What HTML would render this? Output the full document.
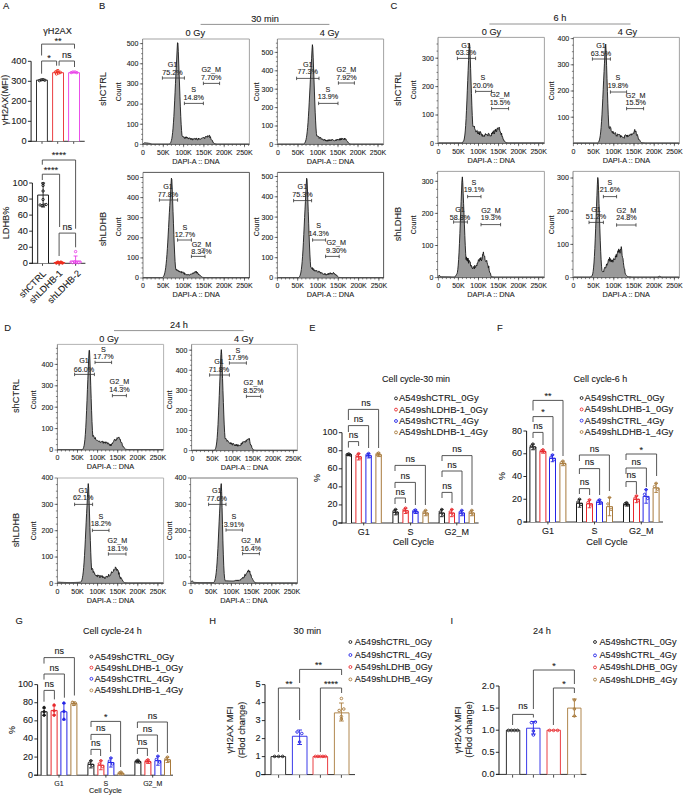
<!DOCTYPE html>
<html><head><meta charset="utf-8"><style>
html,body{margin:0;padding:0;background:#fff;overflow:hidden}
svg{display:block;font-family:"Liberation Sans",sans-serif}
</style></head><body>
<svg width="685" height="797" viewBox="0 0 685 797" font-family="Liberation Sans, sans-serif">
<rect width="685" height="797" fill="#fff"/>
<text x="2.90" y="8.80" font-size="9.4" text-anchor="start" fill="#1a1a1a" stroke="#1a1a1a" stroke-width="0.1">A</text>
<text x="99.00" y="8.80" font-size="9.4" text-anchor="start" fill="#1a1a1a" stroke="#1a1a1a" stroke-width="0.1">B</text>
<text x="390.50" y="8.80" font-size="9.4" text-anchor="start" fill="#1a1a1a" stroke="#1a1a1a" stroke-width="0.1">C</text>
<text x="4.30" y="330.80" font-size="9.4" text-anchor="start" fill="#1a1a1a" stroke="#1a1a1a" stroke-width="0.1">D</text>
<text x="309.30" y="330.80" font-size="9.4" text-anchor="start" fill="#1a1a1a" stroke="#1a1a1a" stroke-width="0.1">E</text>
<text x="496.90" y="330.80" font-size="9.4" text-anchor="start" fill="#1a1a1a" stroke="#1a1a1a" stroke-width="0.1">F</text>
<text x="15.50" y="624.00" font-size="9.4" text-anchor="start" fill="#1a1a1a" stroke="#1a1a1a" stroke-width="0.1">G</text>
<text x="209.30" y="624.00" font-size="9.4" text-anchor="start" fill="#1a1a1a" stroke="#1a1a1a" stroke-width="0.1">H</text>
<text x="450.60" y="624.00" font-size="9.4" text-anchor="start" fill="#1a1a1a" stroke="#1a1a1a" stroke-width="0.1">I</text>
<line x1="200.60" y1="24.40" x2="329.40" y2="24.40" stroke="#777" stroke-width="0.8"/>
<text x="265.00" y="21.60" font-size="9.2" text-anchor="middle" fill="#1a1a1a" stroke="#1a1a1a" stroke-width="0.1">30 min</text>
<line x1="489.40" y1="24.00" x2="630.50" y2="24.00" stroke="#777" stroke-width="0.8"/>
<text x="560.00" y="21.20" font-size="9.2" text-anchor="middle" fill="#1a1a1a" stroke="#1a1a1a" stroke-width="0.1">6 h</text>
<line x1="114.00" y1="330.60" x2="243.60" y2="330.60" stroke="#777" stroke-width="0.8"/>
<text x="179.00" y="327.60" font-size="9.2" text-anchor="middle" fill="#1a1a1a" stroke="#1a1a1a" stroke-width="0.1">24 h</text>
<text x="195.30" y="35.80" font-size="9.2" text-anchor="middle" fill="#1a1a1a" stroke="#1a1a1a" stroke-width="0.1">0 Gy</text>
<text x="329.50" y="35.80" font-size="9.2" text-anchor="middle" fill="#1a1a1a" stroke="#1a1a1a" stroke-width="0.1">4 Gy</text>
<text x="491.50" y="35.40" font-size="9.2" text-anchor="middle" fill="#1a1a1a" stroke="#1a1a1a" stroke-width="0.1">0 Gy</text>
<text x="627.50" y="35.40" font-size="9.2" text-anchor="middle" fill="#1a1a1a" stroke="#1a1a1a" stroke-width="0.1">4 Gy</text>
<text x="109.00" y="341.60" font-size="9.2" text-anchor="middle" fill="#1a1a1a" stroke="#1a1a1a" stroke-width="0.1">0 Gy</text>
<text x="243.60" y="341.60" font-size="9.2" text-anchor="middle" fill="#1a1a1a" stroke="#1a1a1a" stroke-width="0.1">4 Gy</text>
<text x="106.00" y="89.00" font-size="9.3" text-anchor="middle" fill="#1a1a1a" stroke="#1a1a1a" stroke-width="0.1" transform="rotate(-90 106.00 89.00)">shCTRL</text>
<text x="106.00" y="229.00" font-size="9.3" text-anchor="middle" fill="#1a1a1a" stroke="#1a1a1a" stroke-width="0.1" transform="rotate(-90 106.00 229.00)">shLDHB</text>
<text x="401.00" y="89.00" font-size="9.3" text-anchor="middle" fill="#1a1a1a" stroke="#1a1a1a" stroke-width="0.1" transform="rotate(-90 401.00 89.00)">shCTRL</text>
<text x="401.00" y="224.00" font-size="9.3" text-anchor="middle" fill="#1a1a1a" stroke="#1a1a1a" stroke-width="0.1" transform="rotate(-90 401.00 224.00)">shLDHB</text>
<text x="19.00" y="396.00" font-size="9.3" text-anchor="middle" fill="#1a1a1a" stroke="#1a1a1a" stroke-width="0.1" transform="rotate(-90 19.00 396.00)">shCTRL</text>
<text x="19.00" y="530.00" font-size="9.3" text-anchor="middle" fill="#1a1a1a" stroke="#1a1a1a" stroke-width="0.1" transform="rotate(-90 19.00 530.00)">shLDHB</text>
<path d="M143.00,144.40 L143.00,143.80 L143.41,143.54 L143.81,143.29 L144.22,143.04 L144.62,142.79 L145.03,142.82 L145.44,142.85 L145.84,142.89 L146.25,142.92 L146.65,142.96 L147.06,142.99 L147.47,143.06 L147.87,143.12 L148.28,143.19 L148.68,143.26 L149.09,143.32 L149.50,143.39 L149.90,143.49 L150.31,143.59 L150.71,143.69 L151.12,143.80 L151.53,143.90 L151.93,144.00 L152.34,144.00 L152.74,144.00 L153.15,144.00 L153.56,144.00 L153.96,144.00 L154.37,144.00 L154.77,144.00 L155.18,144.00 L155.59,144.00 L155.99,144.00 L156.40,144.00 L156.80,144.00 L157.21,144.00 L157.62,144.00 L158.02,144.00 L158.43,144.00 L158.83,144.00 L159.24,144.00 L159.65,144.00 L160.05,144.00 L160.46,144.00 L160.86,144.00 L161.27,144.00 L161.68,144.00 L162.08,144.00 L162.49,144.00 L162.89,144.00 L163.30,144.00 L163.71,144.00 L164.11,144.00 L164.52,144.00 L164.92,144.00 L165.33,144.00 L165.74,144.00 L166.14,144.00 L166.55,144.00 L166.95,144.00 L167.36,144.00 L167.77,144.00 L168.17,144.00 L168.58,144.00 L168.98,144.00 L169.39,144.00 L169.80,143.76 L170.20,143.35 L170.61,142.72 L171.01,141.78 L171.42,140.42 L171.83,138.53 L172.23,135.95 L172.64,132.55 L173.04,128.20 L173.45,122.84 L173.86,116.43 L174.26,109.05 L174.67,100.87 L175.07,92.18 L175.48,83.35 L175.89,74.84 L176.29,66.92 L176.70,59.04 L177.10,50.19 L177.51,42.76 L177.92,42.93 L178.32,51.72 L178.73,63.02 L179.13,73.97 L179.54,85.02 L179.95,96.21 L180.35,106.87 L180.76,116.36 L181.16,124.30 L181.57,130.59 L181.98,135.29 L182.38,136.36 L182.79,136.14 L183.19,136.98 L183.60,136.91 L184.01,136.96 L184.41,138.31 L184.82,138.52 L185.22,136.80 L185.63,138.18 L186.04,138.34 L186.44,136.75 L186.85,138.01 L187.25,137.30 L187.66,138.20 L188.07,137.92 L188.47,139.09 L188.88,138.09 L189.28,137.66 L189.69,138.50 L190.10,138.10 L190.50,138.33 L190.91,139.76 L191.31,138.30 L191.72,138.75 L192.13,139.48 L192.53,140.16 L192.94,138.39 L193.34,139.34 L193.75,138.87 L194.16,138.49 L194.56,138.83 L194.97,138.35 L195.37,139.49 L195.78,138.56 L196.19,139.32 L196.59,138.21 L197.00,138.30 L197.40,140.01 L197.81,139.90 L198.22,139.69 L198.62,138.01 L199.03,139.15 L199.43,138.70 L199.84,139.40 L200.25,138.88 L200.65,139.09 L201.06,139.11 L201.46,138.53 L201.87,138.47 L202.28,137.70 L202.68,138.13 L203.09,137.52 L203.49,137.62 L203.90,137.26 L204.31,137.77 L204.71,138.70 L205.12,136.95 L205.52,136.52 L205.93,136.45 L206.34,136.99 L206.74,136.47 L207.15,137.38 L207.55,135.70 L207.96,135.97 L208.37,136.31 L208.77,136.50 L209.18,135.20 L209.58,135.35 L209.99,137.80 L210.40,136.68 L210.80,138.30 L211.21,139.63 L211.61,140.05 L212.02,139.89 L212.43,140.46 L212.83,142.21 L213.24,142.20 L213.64,142.95 L214.05,143.59 L214.46,143.65 L214.86,143.71 L215.27,143.77 L215.67,143.82 L216.08,143.88 L216.49,143.94 L216.89,144.00 L217.30,144.00 L217.70,144.00 L218.11,144.00 L218.52,144.00 L218.92,144.00 L219.33,144.00 L219.73,144.00 L220.14,144.00 L220.55,144.00 L220.95,144.00 L221.36,144.00 L221.76,144.00 L222.17,144.00 L222.58,144.00 L222.98,144.00 L223.39,144.00 L223.79,144.00 L224.20,144.00 L224.61,144.00 L225.01,144.00 L225.42,144.00 L225.82,144.00 L226.23,144.00 L226.64,144.00 L227.04,144.00 L227.45,144.00 L227.85,144.00 L228.26,144.00 L228.67,144.00 L229.07,144.00 L229.48,144.00 L229.88,144.00 L230.29,144.00 L230.70,144.00 L231.10,144.00 L231.51,144.00 L231.91,144.00 L232.32,144.00 L232.73,144.00 L233.13,144.00 L233.54,144.00 L233.94,144.00 L234.35,144.00 L234.76,144.00 L235.16,144.00 L235.57,144.00 L235.97,144.00 L236.38,144.00 L236.79,144.00 L237.19,144.00 L237.60,144.00 L238.00,144.00 L238.41,144.00 L238.82,144.00 L239.22,144.00 L239.63,144.00 L240.03,144.00 L240.44,144.00 L240.85,144.00 L241.25,144.00 L241.66,144.00 L242.06,144.00 L242.47,144.00 L242.88,144.00 L243.28,144.00 L243.69,144.00 L244.09,144.00 L244.50,144.00 L244.91,144.00 L245.31,144.00 L245.72,144.00 L246.12,144.00 L246.53,144.00 L246.94,144.00 L247.34,144.00 L247.75,144.00 L248.15,144.00 L248.56,144.00 L248.97,144.00 L249.37,144.00 L249.40,144.00 L249.40,144.40 Z" fill="#9a9a9a" stroke="none"/>
<path d="M143.00,143.80 L143.41,143.54 L143.81,143.29 L144.22,143.04 L144.62,142.79 L145.03,142.82 L145.44,142.85 L145.84,142.89 L146.25,142.92 L146.65,142.96 L147.06,142.99 L147.47,143.06 L147.87,143.12 L148.28,143.19 L148.68,143.26 L149.09,143.32 L149.50,143.39 L149.90,143.49 L150.31,143.59 L150.71,143.69 L151.12,143.80 L151.53,143.90 L151.93,144.00 L152.34,144.00 L152.74,144.00 L153.15,144.00 L153.56,144.00 L153.96,144.00 L154.37,144.00 L154.77,144.00 L155.18,144.00 L155.59,144.00 L155.99,144.00 L156.40,144.00 L156.80,144.00 L157.21,144.00 L157.62,144.00 L158.02,144.00 L158.43,144.00 L158.83,144.00 L159.24,144.00 L159.65,144.00 L160.05,144.00 L160.46,144.00 L160.86,144.00 L161.27,144.00 L161.68,144.00 L162.08,144.00 L162.49,144.00 L162.89,144.00 L163.30,144.00 L163.71,144.00 L164.11,144.00 L164.52,144.00 L164.92,144.00 L165.33,144.00 L165.74,144.00 L166.14,144.00 L166.55,144.00 L166.95,144.00 L167.36,144.00 L167.77,144.00 L168.17,144.00 L168.58,144.00 L168.98,144.00 L169.39,144.00 L169.80,143.76 L170.20,143.35 L170.61,142.72 L171.01,141.78 L171.42,140.42 L171.83,138.53 L172.23,135.95 L172.64,132.55 L173.04,128.20 L173.45,122.84 L173.86,116.43 L174.26,109.05 L174.67,100.87 L175.07,92.18 L175.48,83.35 L175.89,74.84 L176.29,66.92 L176.70,59.04 L177.10,50.19 L177.51,42.76 L177.92,42.93 L178.32,51.72 L178.73,63.02 L179.13,73.97 L179.54,85.02 L179.95,96.21 L180.35,106.87 L180.76,116.36 L181.16,124.30 L181.57,130.59 L181.98,135.29 L182.38,136.36 L182.79,136.14 L183.19,136.98 L183.60,136.91 L184.01,136.96 L184.41,138.31 L184.82,138.52 L185.22,136.80 L185.63,138.18 L186.04,138.34 L186.44,136.75 L186.85,138.01 L187.25,137.30 L187.66,138.20 L188.07,137.92 L188.47,139.09 L188.88,138.09 L189.28,137.66 L189.69,138.50 L190.10,138.10 L190.50,138.33 L190.91,139.76 L191.31,138.30 L191.72,138.75 L192.13,139.48 L192.53,140.16 L192.94,138.39 L193.34,139.34 L193.75,138.87 L194.16,138.49 L194.56,138.83 L194.97,138.35 L195.37,139.49 L195.78,138.56 L196.19,139.32 L196.59,138.21 L197.00,138.30 L197.40,140.01 L197.81,139.90 L198.22,139.69 L198.62,138.01 L199.03,139.15 L199.43,138.70 L199.84,139.40 L200.25,138.88 L200.65,139.09 L201.06,139.11 L201.46,138.53 L201.87,138.47 L202.28,137.70 L202.68,138.13 L203.09,137.52 L203.49,137.62 L203.90,137.26 L204.31,137.77 L204.71,138.70 L205.12,136.95 L205.52,136.52 L205.93,136.45 L206.34,136.99 L206.74,136.47 L207.15,137.38 L207.55,135.70 L207.96,135.97 L208.37,136.31 L208.77,136.50 L209.18,135.20 L209.58,135.35 L209.99,137.80 L210.40,136.68 L210.80,138.30 L211.21,139.63 L211.61,140.05 L212.02,139.89 L212.43,140.46 L212.83,142.21 L213.24,142.20 L213.64,142.95 L214.05,143.59 L214.46,143.65 L214.86,143.71 L215.27,143.77 L215.67,143.82 L216.08,143.88 L216.49,143.94 L216.89,144.00 L217.30,144.00 L217.70,144.00 L218.11,144.00 L218.52,144.00 L218.92,144.00 L219.33,144.00 L219.73,144.00 L220.14,144.00 L220.55,144.00 L220.95,144.00 L221.36,144.00 L221.76,144.00 L222.17,144.00 L222.58,144.00 L222.98,144.00 L223.39,144.00 L223.79,144.00 L224.20,144.00 L224.61,144.00 L225.01,144.00 L225.42,144.00 L225.82,144.00 L226.23,144.00 L226.64,144.00 L227.04,144.00 L227.45,144.00 L227.85,144.00 L228.26,144.00 L228.67,144.00 L229.07,144.00 L229.48,144.00 L229.88,144.00 L230.29,144.00 L230.70,144.00 L231.10,144.00 L231.51,144.00 L231.91,144.00 L232.32,144.00 L232.73,144.00 L233.13,144.00 L233.54,144.00 L233.94,144.00 L234.35,144.00 L234.76,144.00 L235.16,144.00 L235.57,144.00 L235.97,144.00 L236.38,144.00 L236.79,144.00 L237.19,144.00 L237.60,144.00 L238.00,144.00 L238.41,144.00 L238.82,144.00 L239.22,144.00 L239.63,144.00 L240.03,144.00 L240.44,144.00 L240.85,144.00 L241.25,144.00 L241.66,144.00 L242.06,144.00 L242.47,144.00 L242.88,144.00 L243.28,144.00 L243.69,144.00 L244.09,144.00 L244.50,144.00 L244.91,144.00 L245.31,144.00 L245.72,144.00 L246.12,144.00 L246.53,144.00 L246.94,144.00 L247.34,144.00 L247.75,144.00 L248.15,144.00 L248.56,144.00 L248.97,144.00 L249.37,144.00 L249.40,144.00" fill="none" stroke="#111" stroke-width="0.85" stroke-linejoin="round"/>
<path d="M142.60,39.00 L249.40,39.00 L249.40,144.40" fill="none" stroke="#999" stroke-width="0.9"/>
<line x1="142.60" y1="39.00" x2="142.60" y2="144.80" stroke="#666" stroke-width="0.8"/>
<line x1="142.20" y1="144.40" x2="249.40" y2="144.40" stroke="#444" stroke-width="0.8"/>
<line x1="139.80" y1="144.40" x2="142.60" y2="144.40" stroke="#333" stroke-width="0.6"/>
<text x="138.40" y="146.80" font-size="7.0" text-anchor="end" fill="#222" stroke="#222" stroke-width="0.1">0</text>
<line x1="139.80" y1="124.24" x2="142.60" y2="124.24" stroke="#333" stroke-width="0.6"/>
<text x="138.40" y="126.64" font-size="7.0" text-anchor="end" fill="#222" stroke="#222" stroke-width="0.1">100</text>
<line x1="139.80" y1="104.08" x2="142.60" y2="104.08" stroke="#333" stroke-width="0.6"/>
<text x="138.40" y="106.48" font-size="7.0" text-anchor="end" fill="#222" stroke="#222" stroke-width="0.1">200</text>
<line x1="139.80" y1="83.92" x2="142.60" y2="83.92" stroke="#333" stroke-width="0.6"/>
<text x="138.40" y="86.32" font-size="7.0" text-anchor="end" fill="#222" stroke="#222" stroke-width="0.1">300</text>
<line x1="139.80" y1="63.76" x2="142.60" y2="63.76" stroke="#333" stroke-width="0.6"/>
<text x="138.40" y="66.16" font-size="7.0" text-anchor="end" fill="#222" stroke="#222" stroke-width="0.1">400</text>
<line x1="139.80" y1="43.60" x2="142.60" y2="43.60" stroke="#333" stroke-width="0.6"/>
<text x="138.40" y="46.00" font-size="7.0" text-anchor="end" fill="#222" stroke="#222" stroke-width="0.1">500</text>
<line x1="141.10" y1="139.36" x2="142.60" y2="139.36" stroke="#333" stroke-width="0.6"/>
<line x1="141.10" y1="134.32" x2="142.60" y2="134.32" stroke="#333" stroke-width="0.6"/>
<line x1="141.10" y1="129.28" x2="142.60" y2="129.28" stroke="#333" stroke-width="0.6"/>
<line x1="141.10" y1="124.24" x2="142.60" y2="124.24" stroke="#333" stroke-width="0.6"/>
<line x1="141.10" y1="119.20" x2="142.60" y2="119.20" stroke="#333" stroke-width="0.6"/>
<line x1="141.10" y1="114.16" x2="142.60" y2="114.16" stroke="#333" stroke-width="0.6"/>
<line x1="141.10" y1="109.12" x2="142.60" y2="109.12" stroke="#333" stroke-width="0.6"/>
<line x1="141.10" y1="104.08" x2="142.60" y2="104.08" stroke="#333" stroke-width="0.6"/>
<line x1="141.10" y1="99.04" x2="142.60" y2="99.04" stroke="#333" stroke-width="0.6"/>
<line x1="141.10" y1="94.00" x2="142.60" y2="94.00" stroke="#333" stroke-width="0.6"/>
<line x1="141.10" y1="88.96" x2="142.60" y2="88.96" stroke="#333" stroke-width="0.6"/>
<line x1="141.10" y1="83.92" x2="142.60" y2="83.92" stroke="#333" stroke-width="0.6"/>
<line x1="141.10" y1="78.88" x2="142.60" y2="78.88" stroke="#333" stroke-width="0.6"/>
<line x1="141.10" y1="73.84" x2="142.60" y2="73.84" stroke="#333" stroke-width="0.6"/>
<line x1="141.10" y1="68.80" x2="142.60" y2="68.80" stroke="#333" stroke-width="0.6"/>
<line x1="141.10" y1="63.76" x2="142.60" y2="63.76" stroke="#333" stroke-width="0.6"/>
<line x1="141.10" y1="58.72" x2="142.60" y2="58.72" stroke="#333" stroke-width="0.6"/>
<line x1="141.10" y1="53.68" x2="142.60" y2="53.68" stroke="#333" stroke-width="0.6"/>
<line x1="141.10" y1="48.64" x2="142.60" y2="48.64" stroke="#333" stroke-width="0.6"/>
<line x1="141.10" y1="43.60" x2="142.60" y2="43.60" stroke="#333" stroke-width="0.6"/>
<line x1="143.00" y1="144.40" x2="143.00" y2="147.20" stroke="#333" stroke-width="0.6"/>
<text x="143.00" y="154.70" font-size="7.0" text-anchor="middle" fill="#222" stroke="#222" stroke-width="0.1">0</text>
<line x1="163.30" y1="144.40" x2="163.30" y2="147.20" stroke="#333" stroke-width="0.6"/>
<text x="163.30" y="154.70" font-size="7.0" text-anchor="middle" fill="#222" stroke="#222" stroke-width="0.1">50K</text>
<line x1="183.60" y1="144.40" x2="183.60" y2="147.20" stroke="#333" stroke-width="0.6"/>
<text x="183.60" y="154.70" font-size="7.0" text-anchor="middle" fill="#222" stroke="#222" stroke-width="0.1">100K</text>
<line x1="203.90" y1="144.40" x2="203.90" y2="147.20" stroke="#333" stroke-width="0.6"/>
<text x="203.90" y="154.70" font-size="7.0" text-anchor="middle" fill="#222" stroke="#222" stroke-width="0.1">150K</text>
<line x1="224.20" y1="144.40" x2="224.20" y2="147.20" stroke="#333" stroke-width="0.6"/>
<text x="224.20" y="154.70" font-size="7.0" text-anchor="middle" fill="#222" stroke="#222" stroke-width="0.1">200K</text>
<line x1="244.50" y1="144.40" x2="244.50" y2="147.20" stroke="#333" stroke-width="0.6"/>
<text x="244.50" y="154.70" font-size="7.0" text-anchor="middle" fill="#222" stroke="#222" stroke-width="0.1">250K</text>
<line x1="147.06" y1="144.40" x2="147.06" y2="145.90" stroke="#333" stroke-width="0.6"/>
<line x1="151.12" y1="144.40" x2="151.12" y2="145.90" stroke="#333" stroke-width="0.6"/>
<line x1="155.18" y1="144.40" x2="155.18" y2="145.90" stroke="#333" stroke-width="0.6"/>
<line x1="159.24" y1="144.40" x2="159.24" y2="145.90" stroke="#333" stroke-width="0.6"/>
<line x1="163.30" y1="144.40" x2="163.30" y2="145.90" stroke="#333" stroke-width="0.6"/>
<line x1="167.36" y1="144.40" x2="167.36" y2="145.90" stroke="#333" stroke-width="0.6"/>
<line x1="171.42" y1="144.40" x2="171.42" y2="145.90" stroke="#333" stroke-width="0.6"/>
<line x1="175.48" y1="144.40" x2="175.48" y2="145.90" stroke="#333" stroke-width="0.6"/>
<line x1="179.54" y1="144.40" x2="179.54" y2="145.90" stroke="#333" stroke-width="0.6"/>
<line x1="183.60" y1="144.40" x2="183.60" y2="145.90" stroke="#333" stroke-width="0.6"/>
<line x1="187.66" y1="144.40" x2="187.66" y2="145.90" stroke="#333" stroke-width="0.6"/>
<line x1="191.72" y1="144.40" x2="191.72" y2="145.90" stroke="#333" stroke-width="0.6"/>
<line x1="195.78" y1="144.40" x2="195.78" y2="145.90" stroke="#333" stroke-width="0.6"/>
<line x1="199.84" y1="144.40" x2="199.84" y2="145.90" stroke="#333" stroke-width="0.6"/>
<line x1="203.90" y1="144.40" x2="203.90" y2="145.90" stroke="#333" stroke-width="0.6"/>
<line x1="207.96" y1="144.40" x2="207.96" y2="145.90" stroke="#333" stroke-width="0.6"/>
<line x1="212.02" y1="144.40" x2="212.02" y2="145.90" stroke="#333" stroke-width="0.6"/>
<line x1="216.08" y1="144.40" x2="216.08" y2="145.90" stroke="#333" stroke-width="0.6"/>
<line x1="220.14" y1="144.40" x2="220.14" y2="145.90" stroke="#333" stroke-width="0.6"/>
<line x1="224.20" y1="144.40" x2="224.20" y2="145.90" stroke="#333" stroke-width="0.6"/>
<line x1="228.26" y1="144.40" x2="228.26" y2="145.90" stroke="#333" stroke-width="0.6"/>
<line x1="232.32" y1="144.40" x2="232.32" y2="145.90" stroke="#333" stroke-width="0.6"/>
<line x1="236.38" y1="144.40" x2="236.38" y2="145.90" stroke="#333" stroke-width="0.6"/>
<line x1="240.44" y1="144.40" x2="240.44" y2="145.90" stroke="#333" stroke-width="0.6"/>
<line x1="244.50" y1="144.40" x2="244.50" y2="145.90" stroke="#333" stroke-width="0.6"/>
<line x1="248.56" y1="144.40" x2="248.56" y2="145.90" stroke="#333" stroke-width="0.6"/>
<text x="196.00" y="163.80" font-size="7.3" text-anchor="middle" fill="#222" stroke="#222" stroke-width="0.1">DAPI-A :: DNA</text>
<text x="121.00" y="92.00" font-size="7.0" text-anchor="middle" fill="#222" stroke="#222" stroke-width="0.1" transform="rotate(-90 121.00 92.00)">Count</text>
<line x1="162.40" y1="78.00" x2="184.40" y2="78.00" stroke="#333" stroke-width="0.8"/>
<line x1="162.40" y1="76.30" x2="162.40" y2="79.70" stroke="#333" stroke-width="0.8"/>
<line x1="184.40" y1="76.30" x2="184.40" y2="79.70" stroke="#333" stroke-width="0.8"/>
<text x="172.50" y="66.60" font-size="7.2" text-anchor="middle" fill="#222" stroke="#222" stroke-width="0.1">G1</text>
<text x="172.50" y="75.00" font-size="7.2" text-anchor="middle" fill="#222" stroke="#222" stroke-width="0.1">75.2%</text>
<line x1="184.40" y1="103.40" x2="203.40" y2="103.40" stroke="#333" stroke-width="0.8"/>
<line x1="184.40" y1="101.70" x2="184.40" y2="105.10" stroke="#333" stroke-width="0.8"/>
<line x1="203.40" y1="101.70" x2="203.40" y2="105.10" stroke="#333" stroke-width="0.8"/>
<text x="193.60" y="91.60" font-size="7.2" text-anchor="middle" fill="#222" stroke="#222" stroke-width="0.1">S</text>
<text x="193.60" y="100.00" font-size="7.2" text-anchor="middle" fill="#222" stroke="#222" stroke-width="0.1">14.8%</text>
<line x1="203.40" y1="83.40" x2="219.60" y2="83.40" stroke="#333" stroke-width="0.8"/>
<line x1="203.40" y1="81.70" x2="203.40" y2="85.10" stroke="#333" stroke-width="0.8"/>
<line x1="219.60" y1="81.70" x2="219.60" y2="85.10" stroke="#333" stroke-width="0.8"/>
<text x="211.20" y="71.60" font-size="7.2" text-anchor="middle" fill="#222" stroke="#222" stroke-width="0.1">G2_M</text>
<text x="211.20" y="79.60" font-size="7.2" text-anchor="middle" fill="#222" stroke="#222" stroke-width="0.1">7.70%</text>
<path d="M278.00,144.40 L278.00,144.03 L278.40,144.03 L278.80,144.03 L279.20,144.03 L279.60,144.03 L280.00,144.03 L280.40,144.03 L280.80,144.03 L281.20,144.03 L281.60,144.03 L282.00,144.03 L282.40,144.03 L282.80,144.03 L283.20,144.03 L283.60,144.03 L284.00,144.03 L284.40,144.03 L284.80,144.03 L285.20,144.03 L285.60,144.03 L286.00,144.03 L286.40,144.03 L286.80,144.03 L287.20,144.03 L287.60,144.03 L288.00,144.03 L288.40,144.03 L288.80,144.03 L289.20,144.03 L289.60,144.03 L290.00,144.03 L290.40,144.03 L290.80,144.03 L291.20,144.03 L291.60,144.03 L292.00,144.03 L292.40,144.03 L292.80,144.03 L293.20,144.03 L293.60,144.03 L294.00,144.03 L294.40,144.03 L294.80,144.03 L295.20,144.03 L295.60,144.03 L296.00,144.03 L296.40,144.03 L296.80,144.03 L297.20,144.03 L297.60,144.03 L298.00,144.03 L298.40,144.03 L298.80,144.03 L299.20,144.03 L299.60,144.03 L300.00,144.03 L300.40,144.03 L300.80,144.03 L301.20,144.03 L301.60,144.03 L302.00,144.03 L302.40,144.03 L302.80,144.03 L303.20,144.03 L303.60,144.03 L304.00,143.81 L304.40,143.47 L304.80,142.95 L305.20,142.20 L305.60,141.14 L306.00,139.67 L306.40,137.69 L306.80,135.10 L307.20,131.77 L307.60,127.65 L308.00,122.66 L308.40,116.81 L308.80,110.15 L309.20,102.82 L309.60,95.04 L310.00,87.10 L310.40,79.34 L310.80,72.10 L311.20,65.38 L311.60,58.23 L312.00,50.05 L312.40,44.67 L312.80,47.77 L313.20,57.85 L313.60,69.05 L314.00,79.96 L314.40,91.06 L314.80,102.03 L315.20,112.17 L315.60,120.92 L316.00,128.02 L316.40,133.46 L316.80,136.06 L317.20,136.02 L317.60,136.12 L318.00,136.03 L318.40,136.65 L318.80,136.48 L319.20,138.50 L319.60,137.82 L320.00,137.06 L320.40,137.83 L320.80,137.49 L321.20,139.26 L321.60,138.71 L322.00,139.33 L322.40,138.90 L322.80,139.01 L323.20,140.32 L323.60,140.08 L324.00,140.12 L324.40,139.02 L324.80,139.51 L325.20,140.82 L325.60,139.84 L326.00,141.15 L326.40,140.32 L326.80,141.15 L327.20,141.35 L327.60,139.85 L328.00,140.98 L328.40,140.96 L328.80,139.61 L329.20,139.79 L329.60,140.79 L330.00,139.60 L330.40,140.33 L330.80,140.07 L331.20,140.90 L331.60,139.58 L332.00,140.01 L332.40,139.47 L332.80,139.55 L333.20,140.60 L333.60,140.45 L334.00,140.77 L334.40,140.78 L334.80,140.90 L335.20,140.41 L335.60,139.78 L336.00,140.90 L336.40,139.49 L336.80,140.11 L337.20,140.10 L337.60,139.00 L338.00,139.62 L338.40,139.89 L338.80,139.49 L339.20,138.97 L339.60,140.21 L340.00,138.29 L340.40,140.13 L340.80,138.58 L341.20,138.30 L341.60,139.90 L342.00,138.26 L342.40,139.03 L342.80,138.52 L343.20,139.59 L343.60,139.43 L344.00,139.37 L344.40,138.02 L344.80,139.77 L345.20,138.85 L345.60,138.72 L346.00,138.91 L346.40,140.56 L346.80,140.99 L347.20,141.20 L347.60,141.39 L348.00,142.57 L348.40,142.61 L348.80,143.02 L349.20,143.43 L349.60,143.85 L350.00,143.88 L350.40,143.91 L350.80,143.94 L351.20,143.97 L351.60,144.00 L352.00,144.03 L352.40,144.03 L352.80,144.03 L353.20,144.03 L353.60,144.03 L354.00,144.03 L354.40,144.03 L354.80,144.03 L355.20,144.03 L355.60,144.03 L356.00,144.03 L356.40,144.03 L356.80,144.03 L357.20,144.03 L357.60,144.03 L358.00,144.03 L358.40,144.03 L358.80,144.03 L359.20,144.03 L359.60,144.03 L360.00,144.03 L360.40,144.03 L360.80,144.03 L361.20,144.03 L361.60,144.03 L362.00,144.03 L362.40,144.03 L362.80,144.03 L363.20,144.03 L363.60,144.03 L364.00,144.03 L364.40,144.03 L364.80,144.03 L365.20,144.03 L365.60,144.03 L366.00,144.03 L366.40,144.03 L366.80,144.03 L367.20,144.03 L367.60,144.03 L368.00,144.03 L368.40,144.03 L368.80,144.03 L369.20,144.03 L369.60,144.03 L370.00,144.03 L370.40,144.03 L370.80,144.03 L371.20,144.03 L371.60,144.03 L372.00,144.03 L372.40,144.03 L372.80,144.03 L373.20,144.03 L373.60,144.03 L374.00,144.03 L374.40,144.03 L374.80,144.03 L375.20,144.03 L375.60,144.03 L376.00,144.03 L376.40,144.03 L376.80,144.03 L377.20,144.03 L377.60,144.03 L378.00,144.03 L378.40,144.03 L378.80,144.03 L379.20,144.03 L379.60,144.03 L380.00,144.03 L380.40,144.03 L380.80,144.03 L381.20,144.03 L381.60,144.03 L382.00,144.03 L382.40,144.03 L382.80,144.03 L383.20,144.03 L383.60,144.03 L383.60,144.03 L383.60,144.40 Z" fill="#9a9a9a" stroke="none"/>
<path d="M278.00,144.03 L278.40,144.03 L278.80,144.03 L279.20,144.03 L279.60,144.03 L280.00,144.03 L280.40,144.03 L280.80,144.03 L281.20,144.03 L281.60,144.03 L282.00,144.03 L282.40,144.03 L282.80,144.03 L283.20,144.03 L283.60,144.03 L284.00,144.03 L284.40,144.03 L284.80,144.03 L285.20,144.03 L285.60,144.03 L286.00,144.03 L286.40,144.03 L286.80,144.03 L287.20,144.03 L287.60,144.03 L288.00,144.03 L288.40,144.03 L288.80,144.03 L289.20,144.03 L289.60,144.03 L290.00,144.03 L290.40,144.03 L290.80,144.03 L291.20,144.03 L291.60,144.03 L292.00,144.03 L292.40,144.03 L292.80,144.03 L293.20,144.03 L293.60,144.03 L294.00,144.03 L294.40,144.03 L294.80,144.03 L295.20,144.03 L295.60,144.03 L296.00,144.03 L296.40,144.03 L296.80,144.03 L297.20,144.03 L297.60,144.03 L298.00,144.03 L298.40,144.03 L298.80,144.03 L299.20,144.03 L299.60,144.03 L300.00,144.03 L300.40,144.03 L300.80,144.03 L301.20,144.03 L301.60,144.03 L302.00,144.03 L302.40,144.03 L302.80,144.03 L303.20,144.03 L303.60,144.03 L304.00,143.81 L304.40,143.47 L304.80,142.95 L305.20,142.20 L305.60,141.14 L306.00,139.67 L306.40,137.69 L306.80,135.10 L307.20,131.77 L307.60,127.65 L308.00,122.66 L308.40,116.81 L308.80,110.15 L309.20,102.82 L309.60,95.04 L310.00,87.10 L310.40,79.34 L310.80,72.10 L311.20,65.38 L311.60,58.23 L312.00,50.05 L312.40,44.67 L312.80,47.77 L313.20,57.85 L313.60,69.05 L314.00,79.96 L314.40,91.06 L314.80,102.03 L315.20,112.17 L315.60,120.92 L316.00,128.02 L316.40,133.46 L316.80,136.06 L317.20,136.02 L317.60,136.12 L318.00,136.03 L318.40,136.65 L318.80,136.48 L319.20,138.50 L319.60,137.82 L320.00,137.06 L320.40,137.83 L320.80,137.49 L321.20,139.26 L321.60,138.71 L322.00,139.33 L322.40,138.90 L322.80,139.01 L323.20,140.32 L323.60,140.08 L324.00,140.12 L324.40,139.02 L324.80,139.51 L325.20,140.82 L325.60,139.84 L326.00,141.15 L326.40,140.32 L326.80,141.15 L327.20,141.35 L327.60,139.85 L328.00,140.98 L328.40,140.96 L328.80,139.61 L329.20,139.79 L329.60,140.79 L330.00,139.60 L330.40,140.33 L330.80,140.07 L331.20,140.90 L331.60,139.58 L332.00,140.01 L332.40,139.47 L332.80,139.55 L333.20,140.60 L333.60,140.45 L334.00,140.77 L334.40,140.78 L334.80,140.90 L335.20,140.41 L335.60,139.78 L336.00,140.90 L336.40,139.49 L336.80,140.11 L337.20,140.10 L337.60,139.00 L338.00,139.62 L338.40,139.89 L338.80,139.49 L339.20,138.97 L339.60,140.21 L340.00,138.29 L340.40,140.13 L340.80,138.58 L341.20,138.30 L341.60,139.90 L342.00,138.26 L342.40,139.03 L342.80,138.52 L343.20,139.59 L343.60,139.43 L344.00,139.37 L344.40,138.02 L344.80,139.77 L345.20,138.85 L345.60,138.72 L346.00,138.91 L346.40,140.56 L346.80,140.99 L347.20,141.20 L347.60,141.39 L348.00,142.57 L348.40,142.61 L348.80,143.02 L349.20,143.43 L349.60,143.85 L350.00,143.88 L350.40,143.91 L350.80,143.94 L351.20,143.97 L351.60,144.00 L352.00,144.03 L352.40,144.03 L352.80,144.03 L353.20,144.03 L353.60,144.03 L354.00,144.03 L354.40,144.03 L354.80,144.03 L355.20,144.03 L355.60,144.03 L356.00,144.03 L356.40,144.03 L356.80,144.03 L357.20,144.03 L357.60,144.03 L358.00,144.03 L358.40,144.03 L358.80,144.03 L359.20,144.03 L359.60,144.03 L360.00,144.03 L360.40,144.03 L360.80,144.03 L361.20,144.03 L361.60,144.03 L362.00,144.03 L362.40,144.03 L362.80,144.03 L363.20,144.03 L363.60,144.03 L364.00,144.03 L364.40,144.03 L364.80,144.03 L365.20,144.03 L365.60,144.03 L366.00,144.03 L366.40,144.03 L366.80,144.03 L367.20,144.03 L367.60,144.03 L368.00,144.03 L368.40,144.03 L368.80,144.03 L369.20,144.03 L369.60,144.03 L370.00,144.03 L370.40,144.03 L370.80,144.03 L371.20,144.03 L371.60,144.03 L372.00,144.03 L372.40,144.03 L372.80,144.03 L373.20,144.03 L373.60,144.03 L374.00,144.03 L374.40,144.03 L374.80,144.03 L375.20,144.03 L375.60,144.03 L376.00,144.03 L376.40,144.03 L376.80,144.03 L377.20,144.03 L377.60,144.03 L378.00,144.03 L378.40,144.03 L378.80,144.03 L379.20,144.03 L379.60,144.03 L380.00,144.03 L380.40,144.03 L380.80,144.03 L381.20,144.03 L381.60,144.03 L382.00,144.03 L382.40,144.03 L382.80,144.03 L383.20,144.03 L383.60,144.03 L383.60,144.03" fill="none" stroke="#111" stroke-width="0.85" stroke-linejoin="round"/>
<path d="M277.40,39.00 L383.60,39.00 L383.60,144.40" fill="none" stroke="#999" stroke-width="0.9"/>
<line x1="277.40" y1="39.00" x2="277.40" y2="144.80" stroke="#666" stroke-width="0.8"/>
<line x1="277.00" y1="144.40" x2="383.60" y2="144.40" stroke="#444" stroke-width="0.8"/>
<line x1="274.60" y1="144.40" x2="277.40" y2="144.40" stroke="#333" stroke-width="0.6"/>
<text x="273.20" y="146.80" font-size="7.0" text-anchor="end" fill="#222" stroke="#222" stroke-width="0.1">0</text>
<line x1="274.60" y1="126.00" x2="277.40" y2="126.00" stroke="#333" stroke-width="0.6"/>
<text x="273.20" y="128.40" font-size="7.0" text-anchor="end" fill="#222" stroke="#222" stroke-width="0.1">100</text>
<line x1="274.60" y1="107.60" x2="277.40" y2="107.60" stroke="#333" stroke-width="0.6"/>
<text x="273.20" y="110.00" font-size="7.0" text-anchor="end" fill="#222" stroke="#222" stroke-width="0.1">200</text>
<line x1="274.60" y1="89.20" x2="277.40" y2="89.20" stroke="#333" stroke-width="0.6"/>
<text x="273.20" y="91.60" font-size="7.0" text-anchor="end" fill="#222" stroke="#222" stroke-width="0.1">300</text>
<line x1="274.60" y1="70.80" x2="277.40" y2="70.80" stroke="#333" stroke-width="0.6"/>
<text x="273.20" y="73.20" font-size="7.0" text-anchor="end" fill="#222" stroke="#222" stroke-width="0.1">400</text>
<line x1="274.60" y1="52.40" x2="277.40" y2="52.40" stroke="#333" stroke-width="0.6"/>
<text x="273.20" y="54.80" font-size="7.0" text-anchor="end" fill="#222" stroke="#222" stroke-width="0.1">500</text>
<line x1="275.90" y1="139.80" x2="277.40" y2="139.80" stroke="#333" stroke-width="0.6"/>
<line x1="275.90" y1="135.20" x2="277.40" y2="135.20" stroke="#333" stroke-width="0.6"/>
<line x1="275.90" y1="130.60" x2="277.40" y2="130.60" stroke="#333" stroke-width="0.6"/>
<line x1="275.90" y1="126.00" x2="277.40" y2="126.00" stroke="#333" stroke-width="0.6"/>
<line x1="275.90" y1="121.40" x2="277.40" y2="121.40" stroke="#333" stroke-width="0.6"/>
<line x1="275.90" y1="116.80" x2="277.40" y2="116.80" stroke="#333" stroke-width="0.6"/>
<line x1="275.90" y1="112.20" x2="277.40" y2="112.20" stroke="#333" stroke-width="0.6"/>
<line x1="275.90" y1="107.60" x2="277.40" y2="107.60" stroke="#333" stroke-width="0.6"/>
<line x1="275.90" y1="103.00" x2="277.40" y2="103.00" stroke="#333" stroke-width="0.6"/>
<line x1="275.90" y1="98.40" x2="277.40" y2="98.40" stroke="#333" stroke-width="0.6"/>
<line x1="275.90" y1="93.80" x2="277.40" y2="93.80" stroke="#333" stroke-width="0.6"/>
<line x1="275.90" y1="89.20" x2="277.40" y2="89.20" stroke="#333" stroke-width="0.6"/>
<line x1="275.90" y1="84.60" x2="277.40" y2="84.60" stroke="#333" stroke-width="0.6"/>
<line x1="275.90" y1="80.00" x2="277.40" y2="80.00" stroke="#333" stroke-width="0.6"/>
<line x1="275.90" y1="75.40" x2="277.40" y2="75.40" stroke="#333" stroke-width="0.6"/>
<line x1="275.90" y1="70.80" x2="277.40" y2="70.80" stroke="#333" stroke-width="0.6"/>
<line x1="275.90" y1="66.20" x2="277.40" y2="66.20" stroke="#333" stroke-width="0.6"/>
<line x1="275.90" y1="61.60" x2="277.40" y2="61.60" stroke="#333" stroke-width="0.6"/>
<line x1="275.90" y1="57.00" x2="277.40" y2="57.00" stroke="#333" stroke-width="0.6"/>
<line x1="275.90" y1="52.40" x2="277.40" y2="52.40" stroke="#333" stroke-width="0.6"/>
<line x1="275.90" y1="47.80" x2="277.40" y2="47.80" stroke="#333" stroke-width="0.6"/>
<line x1="275.90" y1="43.20" x2="277.40" y2="43.20" stroke="#333" stroke-width="0.6"/>
<line x1="278.00" y1="144.40" x2="278.00" y2="147.20" stroke="#333" stroke-width="0.6"/>
<text x="278.00" y="154.70" font-size="7.0" text-anchor="middle" fill="#222" stroke="#222" stroke-width="0.1">0</text>
<line x1="298.00" y1="144.40" x2="298.00" y2="147.20" stroke="#333" stroke-width="0.6"/>
<text x="298.00" y="154.70" font-size="7.0" text-anchor="middle" fill="#222" stroke="#222" stroke-width="0.1">50K</text>
<line x1="318.00" y1="144.40" x2="318.00" y2="147.20" stroke="#333" stroke-width="0.6"/>
<text x="318.00" y="154.70" font-size="7.0" text-anchor="middle" fill="#222" stroke="#222" stroke-width="0.1">100K</text>
<line x1="338.00" y1="144.40" x2="338.00" y2="147.20" stroke="#333" stroke-width="0.6"/>
<text x="338.00" y="154.70" font-size="7.0" text-anchor="middle" fill="#222" stroke="#222" stroke-width="0.1">150K</text>
<line x1="358.00" y1="144.40" x2="358.00" y2="147.20" stroke="#333" stroke-width="0.6"/>
<text x="358.00" y="154.70" font-size="7.0" text-anchor="middle" fill="#222" stroke="#222" stroke-width="0.1">200K</text>
<line x1="378.00" y1="144.40" x2="378.00" y2="147.20" stroke="#333" stroke-width="0.6"/>
<text x="378.00" y="154.70" font-size="7.0" text-anchor="middle" fill="#222" stroke="#222" stroke-width="0.1">250K</text>
<line x1="282.00" y1="144.40" x2="282.00" y2="145.90" stroke="#333" stroke-width="0.6"/>
<line x1="286.00" y1="144.40" x2="286.00" y2="145.90" stroke="#333" stroke-width="0.6"/>
<line x1="290.00" y1="144.40" x2="290.00" y2="145.90" stroke="#333" stroke-width="0.6"/>
<line x1="294.00" y1="144.40" x2="294.00" y2="145.90" stroke="#333" stroke-width="0.6"/>
<line x1="298.00" y1="144.40" x2="298.00" y2="145.90" stroke="#333" stroke-width="0.6"/>
<line x1="302.00" y1="144.40" x2="302.00" y2="145.90" stroke="#333" stroke-width="0.6"/>
<line x1="306.00" y1="144.40" x2="306.00" y2="145.90" stroke="#333" stroke-width="0.6"/>
<line x1="310.00" y1="144.40" x2="310.00" y2="145.90" stroke="#333" stroke-width="0.6"/>
<line x1="314.00" y1="144.40" x2="314.00" y2="145.90" stroke="#333" stroke-width="0.6"/>
<line x1="318.00" y1="144.40" x2="318.00" y2="145.90" stroke="#333" stroke-width="0.6"/>
<line x1="322.00" y1="144.40" x2="322.00" y2="145.90" stroke="#333" stroke-width="0.6"/>
<line x1="326.00" y1="144.40" x2="326.00" y2="145.90" stroke="#333" stroke-width="0.6"/>
<line x1="330.00" y1="144.40" x2="330.00" y2="145.90" stroke="#333" stroke-width="0.6"/>
<line x1="334.00" y1="144.40" x2="334.00" y2="145.90" stroke="#333" stroke-width="0.6"/>
<line x1="338.00" y1="144.40" x2="338.00" y2="145.90" stroke="#333" stroke-width="0.6"/>
<line x1="342.00" y1="144.40" x2="342.00" y2="145.90" stroke="#333" stroke-width="0.6"/>
<line x1="346.00" y1="144.40" x2="346.00" y2="145.90" stroke="#333" stroke-width="0.6"/>
<line x1="350.00" y1="144.40" x2="350.00" y2="145.90" stroke="#333" stroke-width="0.6"/>
<line x1="354.00" y1="144.40" x2="354.00" y2="145.90" stroke="#333" stroke-width="0.6"/>
<line x1="358.00" y1="144.40" x2="358.00" y2="145.90" stroke="#333" stroke-width="0.6"/>
<line x1="362.00" y1="144.40" x2="362.00" y2="145.90" stroke="#333" stroke-width="0.6"/>
<line x1="366.00" y1="144.40" x2="366.00" y2="145.90" stroke="#333" stroke-width="0.6"/>
<line x1="370.00" y1="144.40" x2="370.00" y2="145.90" stroke="#333" stroke-width="0.6"/>
<line x1="374.00" y1="144.40" x2="374.00" y2="145.90" stroke="#333" stroke-width="0.6"/>
<line x1="378.00" y1="144.40" x2="378.00" y2="145.90" stroke="#333" stroke-width="0.6"/>
<line x1="382.00" y1="144.40" x2="382.00" y2="145.90" stroke="#333" stroke-width="0.6"/>
<text x="330.50" y="163.80" font-size="7.3" text-anchor="middle" fill="#222" stroke="#222" stroke-width="0.1">DAPI-A :: DNA</text>
<text x="259.00" y="92.00" font-size="7.0" text-anchor="middle" fill="#222" stroke="#222" stroke-width="0.1" transform="rotate(-90 259.00 92.00)">Count</text>
<line x1="296.60" y1="78.40" x2="319.00" y2="78.40" stroke="#333" stroke-width="0.8"/>
<line x1="296.60" y1="76.70" x2="296.60" y2="80.10" stroke="#333" stroke-width="0.8"/>
<line x1="319.00" y1="76.70" x2="319.00" y2="80.10" stroke="#333" stroke-width="0.8"/>
<text x="307.70" y="66.60" font-size="7.2" text-anchor="middle" fill="#222" stroke="#222" stroke-width="0.1">G1</text>
<text x="307.70" y="73.60" font-size="7.2" text-anchor="middle" fill="#222" stroke="#222" stroke-width="0.1">77.3%</text>
<line x1="318.60" y1="103.40" x2="338.00" y2="103.40" stroke="#333" stroke-width="0.8"/>
<line x1="318.60" y1="101.70" x2="318.60" y2="105.10" stroke="#333" stroke-width="0.8"/>
<line x1="338.00" y1="101.70" x2="338.00" y2="105.10" stroke="#333" stroke-width="0.8"/>
<text x="328.00" y="91.60" font-size="7.2" text-anchor="middle" fill="#222" stroke="#222" stroke-width="0.1">S</text>
<text x="328.00" y="99.00" font-size="7.2" text-anchor="middle" fill="#222" stroke="#222" stroke-width="0.1">13.9%</text>
<line x1="338.40" y1="83.00" x2="354.40" y2="83.00" stroke="#333" stroke-width="0.8"/>
<line x1="338.40" y1="81.30" x2="338.40" y2="84.70" stroke="#333" stroke-width="0.8"/>
<line x1="354.40" y1="81.30" x2="354.40" y2="84.70" stroke="#333" stroke-width="0.8"/>
<text x="346.40" y="71.60" font-size="7.2" text-anchor="middle" fill="#222" stroke="#222" stroke-width="0.1">G2_M</text>
<text x="346.40" y="79.60" font-size="7.2" text-anchor="middle" fill="#222" stroke="#222" stroke-width="0.1">7.92%</text>
<path d="M143.00,278.00 L143.00,277.60 L143.41,277.60 L143.81,277.60 L144.22,277.60 L144.62,277.60 L145.03,277.60 L145.44,277.60 L145.84,277.60 L146.25,277.60 L146.65,277.60 L147.06,277.60 L147.47,277.60 L147.87,277.60 L148.28,277.60 L148.68,277.60 L149.09,277.60 L149.50,277.60 L149.90,277.60 L150.31,277.60 L150.71,277.60 L151.12,277.60 L151.53,277.60 L151.93,277.60 L152.34,277.60 L152.74,277.60 L153.15,277.60 L153.56,277.60 L153.96,277.60 L154.37,277.60 L154.77,277.60 L155.18,277.60 L155.59,277.60 L155.99,277.60 L156.40,277.60 L156.80,277.60 L157.21,277.60 L157.62,277.60 L158.02,277.60 L158.43,277.60 L158.83,277.60 L159.24,277.60 L159.65,277.60 L160.05,277.60 L160.46,277.60 L160.86,277.60 L161.27,277.60 L161.68,277.60 L162.08,277.60 L162.49,277.47 L162.89,277.17 L163.30,276.73 L163.71,276.10 L164.11,275.21 L164.52,273.97 L164.92,272.31 L165.33,270.14 L165.74,267.34 L166.14,263.84 L166.55,259.58 L166.95,254.52 L167.36,248.67 L167.77,242.10 L168.17,234.95 L168.58,227.42 L168.98,219.77 L169.39,212.32 L169.80,205.37 L170.20,199.01 L170.61,192.41 L171.01,184.56 L171.42,178.20 L171.83,179.44 L172.23,188.88 L172.64,200.48 L173.04,211.78 L173.45,223.19 L173.86,234.51 L174.26,245.00 L174.67,254.07 L175.07,261.42 L175.48,267.02 L175.89,269.55 L176.29,270.13 L176.70,269.22 L177.10,270.70 L177.51,269.88 L177.92,270.46 L178.32,271.34 L178.73,270.55 L179.13,271.79 L179.54,271.13 L179.95,272.15 L180.35,272.33 L180.76,271.81 L181.16,271.14 L181.57,272.91 L181.98,272.91 L182.38,272.24 L182.79,271.75 L183.19,272.79 L183.60,273.40 L184.01,272.41 L184.41,274.46 L184.82,273.11 L185.22,274.35 L185.63,274.78 L186.04,274.99 L186.44,274.87 L186.85,274.34 L187.25,275.18 L187.66,274.54 L188.07,274.40 L188.47,274.74 L188.88,274.41 L189.28,275.11 L189.69,275.07 L190.10,274.78 L190.50,273.94 L190.91,274.30 L191.31,274.34 L191.72,273.68 L192.13,273.75 L192.53,273.89 L192.94,272.71 L193.34,272.72 L193.75,273.54 L194.16,272.61 L194.56,272.52 L194.97,271.54 L195.37,271.66 L195.78,272.44 L196.19,271.11 L196.59,273.22 L197.00,272.75 L197.40,272.21 L197.81,273.74 L198.22,273.52 L198.62,274.83 L199.03,274.29 L199.43,274.72 L199.84,275.51 L200.25,275.49 L200.65,276.10 L201.06,276.36 L201.46,276.62 L201.87,276.88 L202.28,277.14 L202.68,277.40 L203.09,277.42 L203.49,277.45 L203.90,277.47 L204.31,277.50 L204.71,277.52 L205.12,277.55 L205.52,277.57 L205.93,277.60 L206.34,277.60 L206.74,277.60 L207.15,277.60 L207.55,277.60 L207.96,277.60 L208.37,277.60 L208.77,277.60 L209.18,277.60 L209.58,277.60 L209.99,277.60 L210.40,277.60 L210.80,277.60 L211.21,277.60 L211.61,277.60 L212.02,277.60 L212.43,277.60 L212.83,277.60 L213.24,277.60 L213.64,277.60 L214.05,277.60 L214.46,277.60 L214.86,277.60 L215.27,277.60 L215.67,277.60 L216.08,277.60 L216.49,277.60 L216.89,277.60 L217.30,277.60 L217.70,277.60 L218.11,277.60 L218.52,277.60 L218.92,277.60 L219.33,277.60 L219.73,277.60 L220.14,277.60 L220.55,277.60 L220.95,277.60 L221.36,277.60 L221.76,277.60 L222.17,277.60 L222.58,277.60 L222.98,277.60 L223.39,277.60 L223.79,277.60 L224.20,277.60 L224.61,277.60 L225.01,277.60 L225.42,277.60 L225.82,277.60 L226.23,277.60 L226.64,277.60 L227.04,277.60 L227.45,277.60 L227.85,277.60 L228.26,277.60 L228.67,277.60 L229.07,277.60 L229.48,277.60 L229.88,277.60 L230.29,277.60 L230.70,277.60 L231.10,277.60 L231.51,277.60 L231.91,277.60 L232.32,277.60 L232.73,277.60 L233.13,277.60 L233.54,277.60 L233.94,277.60 L234.35,277.60 L234.76,277.60 L235.16,277.60 L235.57,277.60 L235.97,277.60 L236.38,277.60 L236.79,277.60 L237.19,277.60 L237.60,277.60 L238.00,277.60 L238.41,277.60 L238.82,277.60 L239.22,277.60 L239.63,277.60 L240.03,277.60 L240.44,277.60 L240.85,277.60 L241.25,277.60 L241.66,277.60 L242.06,277.60 L242.47,277.60 L242.88,277.60 L243.28,277.60 L243.69,277.60 L244.09,277.60 L244.50,277.60 L244.91,277.60 L245.31,277.60 L245.72,277.60 L246.12,277.60 L246.53,277.60 L246.94,277.60 L247.34,277.60 L247.75,277.60 L248.15,277.60 L248.56,277.60 L248.97,277.60 L249.37,277.60 L249.40,277.60 L249.40,278.00 Z" fill="#9a9a9a" stroke="none"/>
<path d="M143.00,277.60 L143.41,277.60 L143.81,277.60 L144.22,277.60 L144.62,277.60 L145.03,277.60 L145.44,277.60 L145.84,277.60 L146.25,277.60 L146.65,277.60 L147.06,277.60 L147.47,277.60 L147.87,277.60 L148.28,277.60 L148.68,277.60 L149.09,277.60 L149.50,277.60 L149.90,277.60 L150.31,277.60 L150.71,277.60 L151.12,277.60 L151.53,277.60 L151.93,277.60 L152.34,277.60 L152.74,277.60 L153.15,277.60 L153.56,277.60 L153.96,277.60 L154.37,277.60 L154.77,277.60 L155.18,277.60 L155.59,277.60 L155.99,277.60 L156.40,277.60 L156.80,277.60 L157.21,277.60 L157.62,277.60 L158.02,277.60 L158.43,277.60 L158.83,277.60 L159.24,277.60 L159.65,277.60 L160.05,277.60 L160.46,277.60 L160.86,277.60 L161.27,277.60 L161.68,277.60 L162.08,277.60 L162.49,277.47 L162.89,277.17 L163.30,276.73 L163.71,276.10 L164.11,275.21 L164.52,273.97 L164.92,272.31 L165.33,270.14 L165.74,267.34 L166.14,263.84 L166.55,259.58 L166.95,254.52 L167.36,248.67 L167.77,242.10 L168.17,234.95 L168.58,227.42 L168.98,219.77 L169.39,212.32 L169.80,205.37 L170.20,199.01 L170.61,192.41 L171.01,184.56 L171.42,178.20 L171.83,179.44 L172.23,188.88 L172.64,200.48 L173.04,211.78 L173.45,223.19 L173.86,234.51 L174.26,245.00 L174.67,254.07 L175.07,261.42 L175.48,267.02 L175.89,269.55 L176.29,270.13 L176.70,269.22 L177.10,270.70 L177.51,269.88 L177.92,270.46 L178.32,271.34 L178.73,270.55 L179.13,271.79 L179.54,271.13 L179.95,272.15 L180.35,272.33 L180.76,271.81 L181.16,271.14 L181.57,272.91 L181.98,272.91 L182.38,272.24 L182.79,271.75 L183.19,272.79 L183.60,273.40 L184.01,272.41 L184.41,274.46 L184.82,273.11 L185.22,274.35 L185.63,274.78 L186.04,274.99 L186.44,274.87 L186.85,274.34 L187.25,275.18 L187.66,274.54 L188.07,274.40 L188.47,274.74 L188.88,274.41 L189.28,275.11 L189.69,275.07 L190.10,274.78 L190.50,273.94 L190.91,274.30 L191.31,274.34 L191.72,273.68 L192.13,273.75 L192.53,273.89 L192.94,272.71 L193.34,272.72 L193.75,273.54 L194.16,272.61 L194.56,272.52 L194.97,271.54 L195.37,271.66 L195.78,272.44 L196.19,271.11 L196.59,273.22 L197.00,272.75 L197.40,272.21 L197.81,273.74 L198.22,273.52 L198.62,274.83 L199.03,274.29 L199.43,274.72 L199.84,275.51 L200.25,275.49 L200.65,276.10 L201.06,276.36 L201.46,276.62 L201.87,276.88 L202.28,277.14 L202.68,277.40 L203.09,277.42 L203.49,277.45 L203.90,277.47 L204.31,277.50 L204.71,277.52 L205.12,277.55 L205.52,277.57 L205.93,277.60 L206.34,277.60 L206.74,277.60 L207.15,277.60 L207.55,277.60 L207.96,277.60 L208.37,277.60 L208.77,277.60 L209.18,277.60 L209.58,277.60 L209.99,277.60 L210.40,277.60 L210.80,277.60 L211.21,277.60 L211.61,277.60 L212.02,277.60 L212.43,277.60 L212.83,277.60 L213.24,277.60 L213.64,277.60 L214.05,277.60 L214.46,277.60 L214.86,277.60 L215.27,277.60 L215.67,277.60 L216.08,277.60 L216.49,277.60 L216.89,277.60 L217.30,277.60 L217.70,277.60 L218.11,277.60 L218.52,277.60 L218.92,277.60 L219.33,277.60 L219.73,277.60 L220.14,277.60 L220.55,277.60 L220.95,277.60 L221.36,277.60 L221.76,277.60 L222.17,277.60 L222.58,277.60 L222.98,277.60 L223.39,277.60 L223.79,277.60 L224.20,277.60 L224.61,277.60 L225.01,277.60 L225.42,277.60 L225.82,277.60 L226.23,277.60 L226.64,277.60 L227.04,277.60 L227.45,277.60 L227.85,277.60 L228.26,277.60 L228.67,277.60 L229.07,277.60 L229.48,277.60 L229.88,277.60 L230.29,277.60 L230.70,277.60 L231.10,277.60 L231.51,277.60 L231.91,277.60 L232.32,277.60 L232.73,277.60 L233.13,277.60 L233.54,277.60 L233.94,277.60 L234.35,277.60 L234.76,277.60 L235.16,277.60 L235.57,277.60 L235.97,277.60 L236.38,277.60 L236.79,277.60 L237.19,277.60 L237.60,277.60 L238.00,277.60 L238.41,277.60 L238.82,277.60 L239.22,277.60 L239.63,277.60 L240.03,277.60 L240.44,277.60 L240.85,277.60 L241.25,277.60 L241.66,277.60 L242.06,277.60 L242.47,277.60 L242.88,277.60 L243.28,277.60 L243.69,277.60 L244.09,277.60 L244.50,277.60 L244.91,277.60 L245.31,277.60 L245.72,277.60 L246.12,277.60 L246.53,277.60 L246.94,277.60 L247.34,277.60 L247.75,277.60 L248.15,277.60 L248.56,277.60 L248.97,277.60 L249.37,277.60 L249.40,277.60" fill="none" stroke="#111" stroke-width="0.85" stroke-linejoin="round"/>
<path d="M143.00,172.40 L249.40,172.40 L249.40,278.00" fill="none" stroke="#444" stroke-width="0.9"/>
<line x1="143.00" y1="172.40" x2="143.00" y2="278.40" stroke="#666" stroke-width="0.8"/>
<line x1="142.60" y1="278.00" x2="249.40" y2="278.00" stroke="#444" stroke-width="0.8"/>
<line x1="140.20" y1="278.00" x2="143.00" y2="278.00" stroke="#333" stroke-width="0.6"/>
<text x="138.80" y="280.40" font-size="7.0" text-anchor="end" fill="#222" stroke="#222" stroke-width="0.1">0</text>
<line x1="140.20" y1="257.90" x2="143.00" y2="257.90" stroke="#333" stroke-width="0.6"/>
<text x="138.80" y="260.30" font-size="7.0" text-anchor="end" fill="#222" stroke="#222" stroke-width="0.1">100</text>
<line x1="140.20" y1="237.80" x2="143.00" y2="237.80" stroke="#333" stroke-width="0.6"/>
<text x="138.80" y="240.20" font-size="7.0" text-anchor="end" fill="#222" stroke="#222" stroke-width="0.1">200</text>
<line x1="140.20" y1="217.70" x2="143.00" y2="217.70" stroke="#333" stroke-width="0.6"/>
<text x="138.80" y="220.10" font-size="7.0" text-anchor="end" fill="#222" stroke="#222" stroke-width="0.1">300</text>
<line x1="140.20" y1="197.60" x2="143.00" y2="197.60" stroke="#333" stroke-width="0.6"/>
<text x="138.80" y="200.00" font-size="7.0" text-anchor="end" fill="#222" stroke="#222" stroke-width="0.1">400</text>
<line x1="140.20" y1="177.50" x2="143.00" y2="177.50" stroke="#333" stroke-width="0.6"/>
<text x="138.80" y="179.90" font-size="7.0" text-anchor="end" fill="#222" stroke="#222" stroke-width="0.1">500</text>
<line x1="141.50" y1="272.98" x2="143.00" y2="272.98" stroke="#333" stroke-width="0.6"/>
<line x1="141.50" y1="267.95" x2="143.00" y2="267.95" stroke="#333" stroke-width="0.6"/>
<line x1="141.50" y1="262.93" x2="143.00" y2="262.93" stroke="#333" stroke-width="0.6"/>
<line x1="141.50" y1="257.90" x2="143.00" y2="257.90" stroke="#333" stroke-width="0.6"/>
<line x1="141.50" y1="252.88" x2="143.00" y2="252.88" stroke="#333" stroke-width="0.6"/>
<line x1="141.50" y1="247.85" x2="143.00" y2="247.85" stroke="#333" stroke-width="0.6"/>
<line x1="141.50" y1="242.82" x2="143.00" y2="242.82" stroke="#333" stroke-width="0.6"/>
<line x1="141.50" y1="237.80" x2="143.00" y2="237.80" stroke="#333" stroke-width="0.6"/>
<line x1="141.50" y1="232.78" x2="143.00" y2="232.78" stroke="#333" stroke-width="0.6"/>
<line x1="141.50" y1="227.75" x2="143.00" y2="227.75" stroke="#333" stroke-width="0.6"/>
<line x1="141.50" y1="222.72" x2="143.00" y2="222.72" stroke="#333" stroke-width="0.6"/>
<line x1="141.50" y1="217.70" x2="143.00" y2="217.70" stroke="#333" stroke-width="0.6"/>
<line x1="141.50" y1="212.68" x2="143.00" y2="212.68" stroke="#333" stroke-width="0.6"/>
<line x1="141.50" y1="207.65" x2="143.00" y2="207.65" stroke="#333" stroke-width="0.6"/>
<line x1="141.50" y1="202.62" x2="143.00" y2="202.62" stroke="#333" stroke-width="0.6"/>
<line x1="141.50" y1="197.60" x2="143.00" y2="197.60" stroke="#333" stroke-width="0.6"/>
<line x1="141.50" y1="192.57" x2="143.00" y2="192.57" stroke="#333" stroke-width="0.6"/>
<line x1="141.50" y1="187.55" x2="143.00" y2="187.55" stroke="#333" stroke-width="0.6"/>
<line x1="141.50" y1="182.52" x2="143.00" y2="182.52" stroke="#333" stroke-width="0.6"/>
<line x1="141.50" y1="177.50" x2="143.00" y2="177.50" stroke="#333" stroke-width="0.6"/>
<line x1="143.00" y1="278.00" x2="143.00" y2="280.80" stroke="#333" stroke-width="0.6"/>
<text x="143.00" y="288.30" font-size="7.0" text-anchor="middle" fill="#222" stroke="#222" stroke-width="0.1">0</text>
<line x1="163.30" y1="278.00" x2="163.30" y2="280.80" stroke="#333" stroke-width="0.6"/>
<text x="163.30" y="288.30" font-size="7.0" text-anchor="middle" fill="#222" stroke="#222" stroke-width="0.1">50K</text>
<line x1="183.60" y1="278.00" x2="183.60" y2="280.80" stroke="#333" stroke-width="0.6"/>
<text x="183.60" y="288.30" font-size="7.0" text-anchor="middle" fill="#222" stroke="#222" stroke-width="0.1">100K</text>
<line x1="203.90" y1="278.00" x2="203.90" y2="280.80" stroke="#333" stroke-width="0.6"/>
<text x="203.90" y="288.30" font-size="7.0" text-anchor="middle" fill="#222" stroke="#222" stroke-width="0.1">150K</text>
<line x1="224.20" y1="278.00" x2="224.20" y2="280.80" stroke="#333" stroke-width="0.6"/>
<text x="224.20" y="288.30" font-size="7.0" text-anchor="middle" fill="#222" stroke="#222" stroke-width="0.1">200K</text>
<line x1="244.50" y1="278.00" x2="244.50" y2="280.80" stroke="#333" stroke-width="0.6"/>
<text x="244.50" y="288.30" font-size="7.0" text-anchor="middle" fill="#222" stroke="#222" stroke-width="0.1">250K</text>
<line x1="147.06" y1="278.00" x2="147.06" y2="279.50" stroke="#333" stroke-width="0.6"/>
<line x1="151.12" y1="278.00" x2="151.12" y2="279.50" stroke="#333" stroke-width="0.6"/>
<line x1="155.18" y1="278.00" x2="155.18" y2="279.50" stroke="#333" stroke-width="0.6"/>
<line x1="159.24" y1="278.00" x2="159.24" y2="279.50" stroke="#333" stroke-width="0.6"/>
<line x1="163.30" y1="278.00" x2="163.30" y2="279.50" stroke="#333" stroke-width="0.6"/>
<line x1="167.36" y1="278.00" x2="167.36" y2="279.50" stroke="#333" stroke-width="0.6"/>
<line x1="171.42" y1="278.00" x2="171.42" y2="279.50" stroke="#333" stroke-width="0.6"/>
<line x1="175.48" y1="278.00" x2="175.48" y2="279.50" stroke="#333" stroke-width="0.6"/>
<line x1="179.54" y1="278.00" x2="179.54" y2="279.50" stroke="#333" stroke-width="0.6"/>
<line x1="183.60" y1="278.00" x2="183.60" y2="279.50" stroke="#333" stroke-width="0.6"/>
<line x1="187.66" y1="278.00" x2="187.66" y2="279.50" stroke="#333" stroke-width="0.6"/>
<line x1="191.72" y1="278.00" x2="191.72" y2="279.50" stroke="#333" stroke-width="0.6"/>
<line x1="195.78" y1="278.00" x2="195.78" y2="279.50" stroke="#333" stroke-width="0.6"/>
<line x1="199.84" y1="278.00" x2="199.84" y2="279.50" stroke="#333" stroke-width="0.6"/>
<line x1="203.90" y1="278.00" x2="203.90" y2="279.50" stroke="#333" stroke-width="0.6"/>
<line x1="207.96" y1="278.00" x2="207.96" y2="279.50" stroke="#333" stroke-width="0.6"/>
<line x1="212.02" y1="278.00" x2="212.02" y2="279.50" stroke="#333" stroke-width="0.6"/>
<line x1="216.08" y1="278.00" x2="216.08" y2="279.50" stroke="#333" stroke-width="0.6"/>
<line x1="220.14" y1="278.00" x2="220.14" y2="279.50" stroke="#333" stroke-width="0.6"/>
<line x1="224.20" y1="278.00" x2="224.20" y2="279.50" stroke="#333" stroke-width="0.6"/>
<line x1="228.26" y1="278.00" x2="228.26" y2="279.50" stroke="#333" stroke-width="0.6"/>
<line x1="232.32" y1="278.00" x2="232.32" y2="279.50" stroke="#333" stroke-width="0.6"/>
<line x1="236.38" y1="278.00" x2="236.38" y2="279.50" stroke="#333" stroke-width="0.6"/>
<line x1="240.44" y1="278.00" x2="240.44" y2="279.50" stroke="#333" stroke-width="0.6"/>
<line x1="244.50" y1="278.00" x2="244.50" y2="279.50" stroke="#333" stroke-width="0.6"/>
<line x1="248.56" y1="278.00" x2="248.56" y2="279.50" stroke="#333" stroke-width="0.6"/>
<text x="196.20" y="297.40" font-size="7.3" text-anchor="middle" fill="#222" stroke="#222" stroke-width="0.1">DAPI-A :: DNA</text>
<text x="121.00" y="227.00" font-size="7.0" text-anchor="middle" fill="#222" stroke="#222" stroke-width="0.1" transform="rotate(-90 121.00 227.00)">Count</text>
<line x1="159.40" y1="200.00" x2="177.60" y2="200.00" stroke="#333" stroke-width="0.8"/>
<line x1="159.40" y1="198.30" x2="159.40" y2="201.70" stroke="#333" stroke-width="0.8"/>
<line x1="177.60" y1="198.30" x2="177.60" y2="201.70" stroke="#333" stroke-width="0.8"/>
<text x="168.00" y="188.60" font-size="7.2" text-anchor="middle" fill="#222" stroke="#222" stroke-width="0.1">G1</text>
<text x="168.00" y="197.00" font-size="7.2" text-anchor="middle" fill="#222" stroke="#222" stroke-width="0.1">77.8%</text>
<line x1="177.60" y1="240.00" x2="191.40" y2="240.00" stroke="#333" stroke-width="0.8"/>
<line x1="177.60" y1="238.30" x2="177.60" y2="241.70" stroke="#333" stroke-width="0.8"/>
<line x1="191.40" y1="238.30" x2="191.40" y2="241.70" stroke="#333" stroke-width="0.8"/>
<text x="185.00" y="229.60" font-size="7.2" text-anchor="middle" fill="#222" stroke="#222" stroke-width="0.1">S</text>
<text x="185.00" y="237.00" font-size="7.2" text-anchor="middle" fill="#222" stroke="#222" stroke-width="0.1">12.7%</text>
<line x1="191.40" y1="256.40" x2="205.00" y2="256.40" stroke="#333" stroke-width="0.8"/>
<line x1="191.40" y1="254.70" x2="191.40" y2="258.10" stroke="#333" stroke-width="0.8"/>
<line x1="205.00" y1="254.70" x2="205.00" y2="258.10" stroke="#333" stroke-width="0.8"/>
<text x="201.50" y="246.60" font-size="7.2" text-anchor="middle" fill="#222" stroke="#222" stroke-width="0.1">G2_M</text>
<text x="201.50" y="254.00" font-size="7.2" text-anchor="middle" fill="#222" stroke="#222" stroke-width="0.1">8.34%</text>
<path d="M277.40,278.00 L277.40,277.59 L277.81,277.59 L278.21,277.59 L278.62,277.59 L279.02,277.59 L279.43,277.59 L279.84,277.59 L280.24,277.59 L280.65,277.59 L281.05,277.59 L281.46,277.59 L281.87,277.59 L282.27,277.59 L282.68,277.59 L283.08,277.59 L283.49,277.59 L283.90,277.59 L284.30,277.59 L284.71,277.59 L285.11,277.59 L285.52,277.59 L285.93,277.59 L286.33,277.59 L286.74,277.59 L287.14,277.59 L287.55,277.59 L287.96,277.59 L288.36,277.59 L288.77,277.59 L289.17,277.59 L289.58,277.59 L289.99,277.59 L290.39,277.59 L290.80,277.59 L291.20,277.59 L291.61,277.59 L292.02,277.59 L292.42,277.59 L292.83,277.59 L293.23,277.59 L293.64,277.59 L294.05,277.59 L294.45,277.59 L294.86,277.59 L295.26,277.59 L295.67,277.59 L296.08,277.59 L296.48,277.59 L296.89,277.59 L297.29,277.59 L297.70,277.59 L298.11,277.59 L298.51,277.59 L298.92,277.34 L299.32,276.92 L299.73,276.28 L300.14,275.33 L300.54,273.96 L300.95,272.04 L301.35,269.44 L301.76,266.03 L302.17,261.69 L302.57,256.34 L302.98,249.98 L303.38,242.68 L303.79,234.62 L304.20,226.10 L304.60,217.48 L305.01,209.22 L305.41,201.52 L305.82,193.76 L306.23,185.05 L306.63,178.26 L307.04,179.45 L307.44,188.90 L307.85,200.49 L308.26,211.79 L308.66,223.20 L309.07,234.52 L309.47,245.01 L309.88,254.08 L310.29,261.42 L310.69,267.02 L311.10,267.32 L311.50,267.90 L311.91,268.80 L312.32,267.55 L312.72,269.85 L313.13,269.12 L313.53,268.61 L313.94,270.82 L314.35,269.92 L314.75,269.94 L315.16,271.39 L315.56,270.80 L315.97,270.24 L316.38,270.96 L316.78,270.51 L317.19,271.94 L317.59,271.93 L318.00,272.37 L318.41,271.66 L318.81,270.90 L319.22,271.81 L319.62,271.57 L320.03,272.61 L320.44,271.97 L320.84,273.57 L321.25,273.30 L321.65,272.61 L322.06,272.67 L322.47,273.47 L322.87,274.29 L323.28,274.07 L323.68,274.32 L324.09,274.33 L324.50,273.53 L324.90,274.69 L325.31,273.68 L325.71,273.83 L326.12,275.23 L326.53,274.61 L326.93,274.31 L327.34,274.97 L327.74,274.17 L328.15,273.18 L328.56,274.51 L328.96,273.48 L329.37,274.28 L329.77,273.32 L330.18,272.62 L330.59,273.97 L330.99,274.32 L331.40,274.12 L331.80,273.10 L332.21,274.16 L332.62,274.05 L333.02,273.22 L333.43,272.37 L333.83,273.46 L334.24,273.54 L334.65,273.44 L335.05,274.78 L335.46,274.32 L335.86,275.28 L336.27,275.06 L336.68,275.07 L337.08,276.34 L337.49,276.29 L337.89,276.66 L338.30,277.03 L338.71,277.39 L339.11,277.41 L339.52,277.44 L339.92,277.46 L340.33,277.48 L340.74,277.50 L341.14,277.53 L341.55,277.55 L341.95,277.57 L342.36,277.59 L342.77,277.59 L343.17,277.59 L343.58,277.59 L343.98,277.59 L344.39,277.59 L344.80,277.59 L345.20,277.59 L345.61,277.59 L346.01,277.59 L346.42,277.59 L346.83,277.59 L347.23,277.59 L347.64,277.59 L348.04,277.59 L348.45,277.59 L348.86,277.59 L349.26,277.59 L349.67,277.59 L350.07,277.59 L350.48,277.59 L350.89,277.59 L351.29,277.59 L351.70,277.59 L352.10,277.59 L352.51,277.59 L352.92,277.59 L353.32,277.59 L353.73,277.59 L354.13,277.59 L354.54,277.59 L354.95,277.59 L355.35,277.59 L355.76,277.59 L356.16,277.59 L356.57,277.59 L356.98,277.59 L357.38,277.59 L357.79,277.59 L358.19,277.59 L358.60,277.59 L359.01,277.59 L359.41,277.59 L359.82,277.59 L360.22,277.59 L360.63,277.59 L361.04,277.59 L361.44,277.59 L361.85,277.59 L362.25,277.59 L362.66,277.59 L363.07,277.59 L363.47,277.59 L363.88,277.59 L364.28,277.59 L364.69,277.59 L365.10,277.59 L365.50,277.59 L365.91,277.59 L366.31,277.59 L366.72,277.59 L367.13,277.59 L367.53,277.59 L367.94,277.59 L368.34,277.59 L368.75,277.59 L369.16,277.59 L369.56,277.59 L369.97,277.59 L370.37,277.59 L370.78,277.59 L371.19,277.59 L371.59,277.59 L372.00,277.59 L372.40,277.59 L372.81,277.59 L373.22,277.59 L373.62,277.59 L374.03,277.59 L374.43,277.59 L374.84,277.59 L375.25,277.59 L375.65,277.59 L376.06,277.59 L376.46,277.59 L376.87,277.59 L377.28,277.59 L377.68,277.59 L378.09,277.59 L378.49,277.59 L378.90,277.59 L379.31,277.59 L379.71,277.59 L380.12,277.59 L380.52,277.59 L380.93,277.59 L381.34,277.59 L381.74,277.59 L382.15,277.59 L382.55,277.59 L382.96,277.59 L383.37,277.59 L383.60,277.59 L383.60,278.00 Z" fill="#9a9a9a" stroke="none"/>
<path d="M277.40,277.59 L277.81,277.59 L278.21,277.59 L278.62,277.59 L279.02,277.59 L279.43,277.59 L279.84,277.59 L280.24,277.59 L280.65,277.59 L281.05,277.59 L281.46,277.59 L281.87,277.59 L282.27,277.59 L282.68,277.59 L283.08,277.59 L283.49,277.59 L283.90,277.59 L284.30,277.59 L284.71,277.59 L285.11,277.59 L285.52,277.59 L285.93,277.59 L286.33,277.59 L286.74,277.59 L287.14,277.59 L287.55,277.59 L287.96,277.59 L288.36,277.59 L288.77,277.59 L289.17,277.59 L289.58,277.59 L289.99,277.59 L290.39,277.59 L290.80,277.59 L291.20,277.59 L291.61,277.59 L292.02,277.59 L292.42,277.59 L292.83,277.59 L293.23,277.59 L293.64,277.59 L294.05,277.59 L294.45,277.59 L294.86,277.59 L295.26,277.59 L295.67,277.59 L296.08,277.59 L296.48,277.59 L296.89,277.59 L297.29,277.59 L297.70,277.59 L298.11,277.59 L298.51,277.59 L298.92,277.34 L299.32,276.92 L299.73,276.28 L300.14,275.33 L300.54,273.96 L300.95,272.04 L301.35,269.44 L301.76,266.03 L302.17,261.69 L302.57,256.34 L302.98,249.98 L303.38,242.68 L303.79,234.62 L304.20,226.10 L304.60,217.48 L305.01,209.22 L305.41,201.52 L305.82,193.76 L306.23,185.05 L306.63,178.26 L307.04,179.45 L307.44,188.90 L307.85,200.49 L308.26,211.79 L308.66,223.20 L309.07,234.52 L309.47,245.01 L309.88,254.08 L310.29,261.42 L310.69,267.02 L311.10,267.32 L311.50,267.90 L311.91,268.80 L312.32,267.55 L312.72,269.85 L313.13,269.12 L313.53,268.61 L313.94,270.82 L314.35,269.92 L314.75,269.94 L315.16,271.39 L315.56,270.80 L315.97,270.24 L316.38,270.96 L316.78,270.51 L317.19,271.94 L317.59,271.93 L318.00,272.37 L318.41,271.66 L318.81,270.90 L319.22,271.81 L319.62,271.57 L320.03,272.61 L320.44,271.97 L320.84,273.57 L321.25,273.30 L321.65,272.61 L322.06,272.67 L322.47,273.47 L322.87,274.29 L323.28,274.07 L323.68,274.32 L324.09,274.33 L324.50,273.53 L324.90,274.69 L325.31,273.68 L325.71,273.83 L326.12,275.23 L326.53,274.61 L326.93,274.31 L327.34,274.97 L327.74,274.17 L328.15,273.18 L328.56,274.51 L328.96,273.48 L329.37,274.28 L329.77,273.32 L330.18,272.62 L330.59,273.97 L330.99,274.32 L331.40,274.12 L331.80,273.10 L332.21,274.16 L332.62,274.05 L333.02,273.22 L333.43,272.37 L333.83,273.46 L334.24,273.54 L334.65,273.44 L335.05,274.78 L335.46,274.32 L335.86,275.28 L336.27,275.06 L336.68,275.07 L337.08,276.34 L337.49,276.29 L337.89,276.66 L338.30,277.03 L338.71,277.39 L339.11,277.41 L339.52,277.44 L339.92,277.46 L340.33,277.48 L340.74,277.50 L341.14,277.53 L341.55,277.55 L341.95,277.57 L342.36,277.59 L342.77,277.59 L343.17,277.59 L343.58,277.59 L343.98,277.59 L344.39,277.59 L344.80,277.59 L345.20,277.59 L345.61,277.59 L346.01,277.59 L346.42,277.59 L346.83,277.59 L347.23,277.59 L347.64,277.59 L348.04,277.59 L348.45,277.59 L348.86,277.59 L349.26,277.59 L349.67,277.59 L350.07,277.59 L350.48,277.59 L350.89,277.59 L351.29,277.59 L351.70,277.59 L352.10,277.59 L352.51,277.59 L352.92,277.59 L353.32,277.59 L353.73,277.59 L354.13,277.59 L354.54,277.59 L354.95,277.59 L355.35,277.59 L355.76,277.59 L356.16,277.59 L356.57,277.59 L356.98,277.59 L357.38,277.59 L357.79,277.59 L358.19,277.59 L358.60,277.59 L359.01,277.59 L359.41,277.59 L359.82,277.59 L360.22,277.59 L360.63,277.59 L361.04,277.59 L361.44,277.59 L361.85,277.59 L362.25,277.59 L362.66,277.59 L363.07,277.59 L363.47,277.59 L363.88,277.59 L364.28,277.59 L364.69,277.59 L365.10,277.59 L365.50,277.59 L365.91,277.59 L366.31,277.59 L366.72,277.59 L367.13,277.59 L367.53,277.59 L367.94,277.59 L368.34,277.59 L368.75,277.59 L369.16,277.59 L369.56,277.59 L369.97,277.59 L370.37,277.59 L370.78,277.59 L371.19,277.59 L371.59,277.59 L372.00,277.59 L372.40,277.59 L372.81,277.59 L373.22,277.59 L373.62,277.59 L374.03,277.59 L374.43,277.59 L374.84,277.59 L375.25,277.59 L375.65,277.59 L376.06,277.59 L376.46,277.59 L376.87,277.59 L377.28,277.59 L377.68,277.59 L378.09,277.59 L378.49,277.59 L378.90,277.59 L379.31,277.59 L379.71,277.59 L380.12,277.59 L380.52,277.59 L380.93,277.59 L381.34,277.59 L381.74,277.59 L382.15,277.59 L382.55,277.59 L382.96,277.59 L383.37,277.59 L383.60,277.59" fill="none" stroke="#111" stroke-width="0.85" stroke-linejoin="round"/>
<path d="M277.40,172.40 L383.60,172.40 L383.60,278.00" fill="none" stroke="#444" stroke-width="0.9"/>
<line x1="277.40" y1="172.40" x2="277.40" y2="278.40" stroke="#666" stroke-width="0.8"/>
<line x1="277.00" y1="278.00" x2="383.60" y2="278.00" stroke="#444" stroke-width="0.8"/>
<line x1="274.60" y1="278.00" x2="277.40" y2="278.00" stroke="#333" stroke-width="0.6"/>
<text x="273.20" y="280.40" font-size="7.0" text-anchor="end" fill="#222" stroke="#222" stroke-width="0.1">0</text>
<line x1="274.60" y1="257.70" x2="277.40" y2="257.70" stroke="#333" stroke-width="0.6"/>
<text x="273.20" y="260.10" font-size="7.0" text-anchor="end" fill="#222" stroke="#222" stroke-width="0.1">100</text>
<line x1="274.60" y1="237.40" x2="277.40" y2="237.40" stroke="#333" stroke-width="0.6"/>
<text x="273.20" y="239.80" font-size="7.0" text-anchor="end" fill="#222" stroke="#222" stroke-width="0.1">200</text>
<line x1="274.60" y1="217.10" x2="277.40" y2="217.10" stroke="#333" stroke-width="0.6"/>
<text x="273.20" y="219.50" font-size="7.0" text-anchor="end" fill="#222" stroke="#222" stroke-width="0.1">300</text>
<line x1="274.60" y1="196.80" x2="277.40" y2="196.80" stroke="#333" stroke-width="0.6"/>
<text x="273.20" y="199.20" font-size="7.0" text-anchor="end" fill="#222" stroke="#222" stroke-width="0.1">400</text>
<line x1="274.60" y1="176.50" x2="277.40" y2="176.50" stroke="#333" stroke-width="0.6"/>
<text x="273.20" y="178.90" font-size="7.0" text-anchor="end" fill="#222" stroke="#222" stroke-width="0.1">500</text>
<line x1="275.90" y1="272.93" x2="277.40" y2="272.93" stroke="#333" stroke-width="0.6"/>
<line x1="275.90" y1="267.85" x2="277.40" y2="267.85" stroke="#333" stroke-width="0.6"/>
<line x1="275.90" y1="262.77" x2="277.40" y2="262.77" stroke="#333" stroke-width="0.6"/>
<line x1="275.90" y1="257.70" x2="277.40" y2="257.70" stroke="#333" stroke-width="0.6"/>
<line x1="275.90" y1="252.62" x2="277.40" y2="252.62" stroke="#333" stroke-width="0.6"/>
<line x1="275.90" y1="247.55" x2="277.40" y2="247.55" stroke="#333" stroke-width="0.6"/>
<line x1="275.90" y1="242.47" x2="277.40" y2="242.47" stroke="#333" stroke-width="0.6"/>
<line x1="275.90" y1="237.40" x2="277.40" y2="237.40" stroke="#333" stroke-width="0.6"/>
<line x1="275.90" y1="232.32" x2="277.40" y2="232.32" stroke="#333" stroke-width="0.6"/>
<line x1="275.90" y1="227.25" x2="277.40" y2="227.25" stroke="#333" stroke-width="0.6"/>
<line x1="275.90" y1="222.18" x2="277.40" y2="222.18" stroke="#333" stroke-width="0.6"/>
<line x1="275.90" y1="217.10" x2="277.40" y2="217.10" stroke="#333" stroke-width="0.6"/>
<line x1="275.90" y1="212.02" x2="277.40" y2="212.02" stroke="#333" stroke-width="0.6"/>
<line x1="275.90" y1="206.95" x2="277.40" y2="206.95" stroke="#333" stroke-width="0.6"/>
<line x1="275.90" y1="201.88" x2="277.40" y2="201.88" stroke="#333" stroke-width="0.6"/>
<line x1="275.90" y1="196.80" x2="277.40" y2="196.80" stroke="#333" stroke-width="0.6"/>
<line x1="275.90" y1="191.72" x2="277.40" y2="191.72" stroke="#333" stroke-width="0.6"/>
<line x1="275.90" y1="186.65" x2="277.40" y2="186.65" stroke="#333" stroke-width="0.6"/>
<line x1="275.90" y1="181.57" x2="277.40" y2="181.57" stroke="#333" stroke-width="0.6"/>
<line x1="275.90" y1="176.50" x2="277.40" y2="176.50" stroke="#333" stroke-width="0.6"/>
<line x1="277.40" y1="278.00" x2="277.40" y2="280.80" stroke="#333" stroke-width="0.6"/>
<text x="277.40" y="288.30" font-size="7.0" text-anchor="middle" fill="#222" stroke="#222" stroke-width="0.1">0</text>
<line x1="297.70" y1="278.00" x2="297.70" y2="280.80" stroke="#333" stroke-width="0.6"/>
<text x="297.70" y="288.30" font-size="7.0" text-anchor="middle" fill="#222" stroke="#222" stroke-width="0.1">50K</text>
<line x1="318.00" y1="278.00" x2="318.00" y2="280.80" stroke="#333" stroke-width="0.6"/>
<text x="318.00" y="288.30" font-size="7.0" text-anchor="middle" fill="#222" stroke="#222" stroke-width="0.1">100K</text>
<line x1="338.30" y1="278.00" x2="338.30" y2="280.80" stroke="#333" stroke-width="0.6"/>
<text x="338.30" y="288.30" font-size="7.0" text-anchor="middle" fill="#222" stroke="#222" stroke-width="0.1">150K</text>
<line x1="358.60" y1="278.00" x2="358.60" y2="280.80" stroke="#333" stroke-width="0.6"/>
<text x="358.60" y="288.30" font-size="7.0" text-anchor="middle" fill="#222" stroke="#222" stroke-width="0.1">200K</text>
<line x1="378.90" y1="278.00" x2="378.90" y2="280.80" stroke="#333" stroke-width="0.6"/>
<text x="378.90" y="288.30" font-size="7.0" text-anchor="middle" fill="#222" stroke="#222" stroke-width="0.1">250K</text>
<line x1="281.46" y1="278.00" x2="281.46" y2="279.50" stroke="#333" stroke-width="0.6"/>
<line x1="285.52" y1="278.00" x2="285.52" y2="279.50" stroke="#333" stroke-width="0.6"/>
<line x1="289.58" y1="278.00" x2="289.58" y2="279.50" stroke="#333" stroke-width="0.6"/>
<line x1="293.64" y1="278.00" x2="293.64" y2="279.50" stroke="#333" stroke-width="0.6"/>
<line x1="297.70" y1="278.00" x2="297.70" y2="279.50" stroke="#333" stroke-width="0.6"/>
<line x1="301.76" y1="278.00" x2="301.76" y2="279.50" stroke="#333" stroke-width="0.6"/>
<line x1="305.82" y1="278.00" x2="305.82" y2="279.50" stroke="#333" stroke-width="0.6"/>
<line x1="309.88" y1="278.00" x2="309.88" y2="279.50" stroke="#333" stroke-width="0.6"/>
<line x1="313.94" y1="278.00" x2="313.94" y2="279.50" stroke="#333" stroke-width="0.6"/>
<line x1="318.00" y1="278.00" x2="318.00" y2="279.50" stroke="#333" stroke-width="0.6"/>
<line x1="322.06" y1="278.00" x2="322.06" y2="279.50" stroke="#333" stroke-width="0.6"/>
<line x1="326.12" y1="278.00" x2="326.12" y2="279.50" stroke="#333" stroke-width="0.6"/>
<line x1="330.18" y1="278.00" x2="330.18" y2="279.50" stroke="#333" stroke-width="0.6"/>
<line x1="334.24" y1="278.00" x2="334.24" y2="279.50" stroke="#333" stroke-width="0.6"/>
<line x1="338.30" y1="278.00" x2="338.30" y2="279.50" stroke="#333" stroke-width="0.6"/>
<line x1="342.36" y1="278.00" x2="342.36" y2="279.50" stroke="#333" stroke-width="0.6"/>
<line x1="346.42" y1="278.00" x2="346.42" y2="279.50" stroke="#333" stroke-width="0.6"/>
<line x1="350.48" y1="278.00" x2="350.48" y2="279.50" stroke="#333" stroke-width="0.6"/>
<line x1="354.54" y1="278.00" x2="354.54" y2="279.50" stroke="#333" stroke-width="0.6"/>
<line x1="358.60" y1="278.00" x2="358.60" y2="279.50" stroke="#333" stroke-width="0.6"/>
<line x1="362.66" y1="278.00" x2="362.66" y2="279.50" stroke="#333" stroke-width="0.6"/>
<line x1="366.72" y1="278.00" x2="366.72" y2="279.50" stroke="#333" stroke-width="0.6"/>
<line x1="370.78" y1="278.00" x2="370.78" y2="279.50" stroke="#333" stroke-width="0.6"/>
<line x1="374.84" y1="278.00" x2="374.84" y2="279.50" stroke="#333" stroke-width="0.6"/>
<line x1="378.90" y1="278.00" x2="378.90" y2="279.50" stroke="#333" stroke-width="0.6"/>
<line x1="382.96" y1="278.00" x2="382.96" y2="279.50" stroke="#333" stroke-width="0.6"/>
<text x="330.50" y="297.40" font-size="7.3" text-anchor="middle" fill="#222" stroke="#222" stroke-width="0.1">DAPI-A :: DNA</text>
<text x="259.00" y="227.00" font-size="7.0" text-anchor="middle" fill="#222" stroke="#222" stroke-width="0.1" transform="rotate(-90 259.00 227.00)">Count</text>
<line x1="293.60" y1="200.60" x2="311.60" y2="200.60" stroke="#333" stroke-width="0.8"/>
<line x1="293.60" y1="198.90" x2="293.60" y2="202.30" stroke="#333" stroke-width="0.8"/>
<line x1="311.60" y1="198.90" x2="311.60" y2="202.30" stroke="#333" stroke-width="0.8"/>
<text x="302.40" y="189.20" font-size="7.2" text-anchor="middle" fill="#222" stroke="#222" stroke-width="0.1">G1</text>
<text x="302.40" y="196.60" font-size="7.2" text-anchor="middle" fill="#222" stroke="#222" stroke-width="0.1">75.3%</text>
<line x1="312.60" y1="240.00" x2="325.60" y2="240.00" stroke="#333" stroke-width="0.8"/>
<line x1="312.60" y1="238.30" x2="312.60" y2="241.70" stroke="#333" stroke-width="0.8"/>
<line x1="325.60" y1="238.30" x2="325.60" y2="241.70" stroke="#333" stroke-width="0.8"/>
<text x="318.60" y="228.00" font-size="7.2" text-anchor="middle" fill="#222" stroke="#222" stroke-width="0.1">S</text>
<text x="318.60" y="235.60" font-size="7.2" text-anchor="middle" fill="#222" stroke="#222" stroke-width="0.1">14.3%</text>
<line x1="325.60" y1="256.40" x2="339.20" y2="256.40" stroke="#333" stroke-width="0.8"/>
<line x1="325.60" y1="254.70" x2="325.60" y2="258.10" stroke="#333" stroke-width="0.8"/>
<line x1="339.20" y1="254.70" x2="339.20" y2="258.10" stroke="#333" stroke-width="0.8"/>
<text x="336.30" y="245.00" font-size="7.2" text-anchor="middle" fill="#222" stroke="#222" stroke-width="0.1">G2_M</text>
<text x="336.30" y="253.00" font-size="7.2" text-anchor="middle" fill="#222" stroke="#222" stroke-width="0.1">9.30%</text>
<path d="M438.40,143.40 L438.40,142.83 L438.81,142.83 L439.23,142.83 L439.64,142.83 L440.05,142.83 L440.46,142.83 L440.88,142.83 L441.29,142.83 L441.70,142.83 L442.12,142.83 L442.53,142.83 L442.94,142.83 L443.36,142.83 L443.77,142.83 L444.18,142.83 L444.59,142.83 L445.01,142.83 L445.42,142.83 L445.83,142.83 L446.25,142.83 L446.66,142.83 L447.07,142.83 L447.49,142.83 L447.90,142.83 L448.31,142.83 L448.72,142.83 L449.14,142.83 L449.55,142.83 L449.96,142.83 L450.38,142.83 L450.79,142.83 L451.20,142.83 L451.62,142.83 L452.03,142.83 L452.44,142.83 L452.85,142.83 L453.27,142.83 L453.68,142.83 L454.09,142.83 L454.51,142.83 L454.92,142.83 L455.33,142.83 L455.75,142.83 L456.16,142.83 L456.57,142.83 L456.98,142.83 L457.40,142.83 L457.81,142.83 L458.22,142.83 L458.64,142.83 L459.05,142.83 L459.46,142.83 L459.88,142.83 L460.29,142.83 L460.70,142.83 L461.11,142.83 L461.53,142.83 L461.94,142.83 L462.35,142.83 L462.77,142.20 L463.18,141.57 L463.59,140.94 L464.01,140.04 L464.42,138.01 L464.83,135.06 L465.25,130.96 L465.66,125.53 L466.07,118.65 L466.48,110.37 L466.90,100.93 L467.31,90.77 L467.72,80.50 L468.14,70.58 L468.55,60.65 L468.96,50.33 L469.38,43.33 L469.79,45.60 L470.20,56.16 L470.61,68.72 L471.03,81.07 L471.44,93.37 L471.85,105.17 L472.27,115.65 L472.68,124.27 L473.09,126.42 L473.50,125.98 L473.92,126.52 L474.33,126.04 L474.74,128.83 L475.16,129.62 L475.57,130.27 L475.98,132.13 L476.40,131.08 L476.81,130.87 L477.22,130.48 L477.63,133.51 L478.05,132.94 L478.46,134.04 L478.87,131.43 L479.29,132.15 L479.70,135.00 L480.11,131.46 L480.53,131.73 L480.94,133.17 L481.35,133.53 L481.76,135.55 L482.18,136.32 L482.59,134.48 L483.00,136.39 L483.42,135.92 L483.83,135.76 L484.24,136.65 L484.66,134.98 L485.07,135.12 L485.48,133.57 L485.89,134.90 L486.31,134.46 L486.72,135.07 L487.13,134.47 L487.55,135.33 L487.96,136.09 L488.37,133.28 L488.79,133.34 L489.20,134.00 L489.61,134.57 L490.02,136.18 L490.44,136.17 L490.85,135.58 L491.26,136.09 L491.68,132.97 L492.09,134.07 L492.50,131.94 L492.92,133.41 L493.33,130.79 L493.74,130.94 L494.15,134.03 L494.57,132.91 L494.98,129.84 L495.39,131.31 L495.81,128.99 L496.22,131.03 L496.63,131.75 L497.05,128.97 L497.46,127.81 L497.87,129.26 L498.28,129.42 L498.70,129.01 L499.11,127.07 L499.52,128.46 L499.94,131.57 L500.35,131.63 L500.76,133.41 L501.18,134.78 L501.59,133.06 L502.00,136.73 L502.41,136.36 L502.83,137.89 L503.24,139.64 L503.65,139.55 L504.07,141.10 L504.48,141.01 L504.89,141.53 L505.31,142.04 L505.72,142.55 L506.13,142.59 L506.54,142.63 L506.96,142.67 L507.37,142.71 L507.78,142.75 L508.20,142.79 L508.61,142.83 L509.02,142.83 L509.44,142.83 L509.85,142.83 L510.26,142.83 L510.67,142.83 L511.09,142.83 L511.50,142.83 L511.91,142.83 L512.33,142.83 L512.74,142.83 L513.15,142.83 L513.57,142.83 L513.98,142.83 L514.39,142.83 L514.80,142.83 L515.22,142.83 L515.63,142.83 L516.04,142.83 L516.46,142.83 L516.87,142.83 L517.28,142.83 L517.70,142.83 L518.11,142.83 L518.52,142.83 L518.93,142.83 L519.35,142.83 L519.76,142.83 L520.17,142.83 L520.59,142.83 L521.00,142.83 L521.41,142.83 L521.83,142.83 L522.24,142.83 L522.65,142.83 L523.06,142.83 L523.48,142.83 L523.89,142.83 L524.30,142.83 L524.72,142.83 L525.13,142.83 L525.54,142.83 L525.96,142.83 L526.37,142.83 L526.78,142.83 L527.19,142.83 L527.61,142.83 L528.02,142.83 L528.43,142.83 L528.85,142.83 L529.26,142.83 L529.67,142.83 L530.09,142.83 L530.50,142.83 L530.91,142.83 L531.32,142.83 L531.74,142.83 L532.15,142.83 L532.56,142.83 L532.98,142.83 L533.39,142.83 L533.80,142.83 L534.22,142.83 L534.63,142.83 L535.04,142.83 L535.45,142.83 L535.87,142.83 L536.28,142.83 L536.69,142.83 L537.11,142.83 L537.52,142.83 L537.93,142.83 L538.35,142.83 L538.76,142.83 L539.17,142.83 L539.58,142.83 L540.00,142.83 L540.41,142.83 L540.82,142.83 L541.24,142.83 L541.65,142.83 L542.06,142.83 L542.48,142.83 L542.89,142.83 L543.30,142.83 L543.71,142.83 L544.13,142.83 L544.40,142.83 L544.40,143.40 Z" fill="#9a9a9a" stroke="none"/>
<path d="M438.40,142.83 L438.81,142.83 L439.23,142.83 L439.64,142.83 L440.05,142.83 L440.46,142.83 L440.88,142.83 L441.29,142.83 L441.70,142.83 L442.12,142.83 L442.53,142.83 L442.94,142.83 L443.36,142.83 L443.77,142.83 L444.18,142.83 L444.59,142.83 L445.01,142.83 L445.42,142.83 L445.83,142.83 L446.25,142.83 L446.66,142.83 L447.07,142.83 L447.49,142.83 L447.90,142.83 L448.31,142.83 L448.72,142.83 L449.14,142.83 L449.55,142.83 L449.96,142.83 L450.38,142.83 L450.79,142.83 L451.20,142.83 L451.62,142.83 L452.03,142.83 L452.44,142.83 L452.85,142.83 L453.27,142.83 L453.68,142.83 L454.09,142.83 L454.51,142.83 L454.92,142.83 L455.33,142.83 L455.75,142.83 L456.16,142.83 L456.57,142.83 L456.98,142.83 L457.40,142.83 L457.81,142.83 L458.22,142.83 L458.64,142.83 L459.05,142.83 L459.46,142.83 L459.88,142.83 L460.29,142.83 L460.70,142.83 L461.11,142.83 L461.53,142.83 L461.94,142.83 L462.35,142.83 L462.77,142.20 L463.18,141.57 L463.59,140.94 L464.01,140.04 L464.42,138.01 L464.83,135.06 L465.25,130.96 L465.66,125.53 L466.07,118.65 L466.48,110.37 L466.90,100.93 L467.31,90.77 L467.72,80.50 L468.14,70.58 L468.55,60.65 L468.96,50.33 L469.38,43.33 L469.79,45.60 L470.20,56.16 L470.61,68.72 L471.03,81.07 L471.44,93.37 L471.85,105.17 L472.27,115.65 L472.68,124.27 L473.09,126.42 L473.50,125.98 L473.92,126.52 L474.33,126.04 L474.74,128.83 L475.16,129.62 L475.57,130.27 L475.98,132.13 L476.40,131.08 L476.81,130.87 L477.22,130.48 L477.63,133.51 L478.05,132.94 L478.46,134.04 L478.87,131.43 L479.29,132.15 L479.70,135.00 L480.11,131.46 L480.53,131.73 L480.94,133.17 L481.35,133.53 L481.76,135.55 L482.18,136.32 L482.59,134.48 L483.00,136.39 L483.42,135.92 L483.83,135.76 L484.24,136.65 L484.66,134.98 L485.07,135.12 L485.48,133.57 L485.89,134.90 L486.31,134.46 L486.72,135.07 L487.13,134.47 L487.55,135.33 L487.96,136.09 L488.37,133.28 L488.79,133.34 L489.20,134.00 L489.61,134.57 L490.02,136.18 L490.44,136.17 L490.85,135.58 L491.26,136.09 L491.68,132.97 L492.09,134.07 L492.50,131.94 L492.92,133.41 L493.33,130.79 L493.74,130.94 L494.15,134.03 L494.57,132.91 L494.98,129.84 L495.39,131.31 L495.81,128.99 L496.22,131.03 L496.63,131.75 L497.05,128.97 L497.46,127.81 L497.87,129.26 L498.28,129.42 L498.70,129.01 L499.11,127.07 L499.52,128.46 L499.94,131.57 L500.35,131.63 L500.76,133.41 L501.18,134.78 L501.59,133.06 L502.00,136.73 L502.41,136.36 L502.83,137.89 L503.24,139.64 L503.65,139.55 L504.07,141.10 L504.48,141.01 L504.89,141.53 L505.31,142.04 L505.72,142.55 L506.13,142.59 L506.54,142.63 L506.96,142.67 L507.37,142.71 L507.78,142.75 L508.20,142.79 L508.61,142.83 L509.02,142.83 L509.44,142.83 L509.85,142.83 L510.26,142.83 L510.67,142.83 L511.09,142.83 L511.50,142.83 L511.91,142.83 L512.33,142.83 L512.74,142.83 L513.15,142.83 L513.57,142.83 L513.98,142.83 L514.39,142.83 L514.80,142.83 L515.22,142.83 L515.63,142.83 L516.04,142.83 L516.46,142.83 L516.87,142.83 L517.28,142.83 L517.70,142.83 L518.11,142.83 L518.52,142.83 L518.93,142.83 L519.35,142.83 L519.76,142.83 L520.17,142.83 L520.59,142.83 L521.00,142.83 L521.41,142.83 L521.83,142.83 L522.24,142.83 L522.65,142.83 L523.06,142.83 L523.48,142.83 L523.89,142.83 L524.30,142.83 L524.72,142.83 L525.13,142.83 L525.54,142.83 L525.96,142.83 L526.37,142.83 L526.78,142.83 L527.19,142.83 L527.61,142.83 L528.02,142.83 L528.43,142.83 L528.85,142.83 L529.26,142.83 L529.67,142.83 L530.09,142.83 L530.50,142.83 L530.91,142.83 L531.32,142.83 L531.74,142.83 L532.15,142.83 L532.56,142.83 L532.98,142.83 L533.39,142.83 L533.80,142.83 L534.22,142.83 L534.63,142.83 L535.04,142.83 L535.45,142.83 L535.87,142.83 L536.28,142.83 L536.69,142.83 L537.11,142.83 L537.52,142.83 L537.93,142.83 L538.35,142.83 L538.76,142.83 L539.17,142.83 L539.58,142.83 L540.00,142.83 L540.41,142.83 L540.82,142.83 L541.24,142.83 L541.65,142.83 L542.06,142.83 L542.48,142.83 L542.89,142.83 L543.30,142.83 L543.71,142.83 L544.13,142.83 L544.40,142.83" fill="none" stroke="#111" stroke-width="0.85" stroke-linejoin="round"/>
<path d="M438.00,37.40 L544.40,37.40 L544.40,143.40" fill="none" stroke="#999" stroke-width="0.9"/>
<line x1="438.00" y1="37.40" x2="438.00" y2="143.80" stroke="#666" stroke-width="0.8"/>
<line x1="437.60" y1="143.40" x2="544.40" y2="143.40" stroke="#444" stroke-width="0.8"/>
<line x1="435.20" y1="143.40" x2="438.00" y2="143.40" stroke="#333" stroke-width="0.6"/>
<text x="433.80" y="145.80" font-size="7.0" text-anchor="end" fill="#222" stroke="#222" stroke-width="0.1">0</text>
<line x1="435.20" y1="115.00" x2="438.00" y2="115.00" stroke="#333" stroke-width="0.6"/>
<text x="433.80" y="117.40" font-size="7.0" text-anchor="end" fill="#222" stroke="#222" stroke-width="0.1">100</text>
<line x1="435.20" y1="86.60" x2="438.00" y2="86.60" stroke="#333" stroke-width="0.6"/>
<text x="433.80" y="89.00" font-size="7.0" text-anchor="end" fill="#222" stroke="#222" stroke-width="0.1">200</text>
<line x1="435.20" y1="58.20" x2="438.00" y2="58.20" stroke="#333" stroke-width="0.6"/>
<text x="433.80" y="60.60" font-size="7.0" text-anchor="end" fill="#222" stroke="#222" stroke-width="0.1">300</text>
<line x1="436.50" y1="136.30" x2="438.00" y2="136.30" stroke="#333" stroke-width="0.6"/>
<line x1="436.50" y1="129.20" x2="438.00" y2="129.20" stroke="#333" stroke-width="0.6"/>
<line x1="436.50" y1="122.10" x2="438.00" y2="122.10" stroke="#333" stroke-width="0.6"/>
<line x1="436.50" y1="115.00" x2="438.00" y2="115.00" stroke="#333" stroke-width="0.6"/>
<line x1="436.50" y1="107.90" x2="438.00" y2="107.90" stroke="#333" stroke-width="0.6"/>
<line x1="436.50" y1="100.80" x2="438.00" y2="100.80" stroke="#333" stroke-width="0.6"/>
<line x1="436.50" y1="93.70" x2="438.00" y2="93.70" stroke="#333" stroke-width="0.6"/>
<line x1="436.50" y1="86.60" x2="438.00" y2="86.60" stroke="#333" stroke-width="0.6"/>
<line x1="436.50" y1="79.50" x2="438.00" y2="79.50" stroke="#333" stroke-width="0.6"/>
<line x1="436.50" y1="72.40" x2="438.00" y2="72.40" stroke="#333" stroke-width="0.6"/>
<line x1="436.50" y1="65.30" x2="438.00" y2="65.30" stroke="#333" stroke-width="0.6"/>
<line x1="436.50" y1="58.20" x2="438.00" y2="58.20" stroke="#333" stroke-width="0.6"/>
<line x1="436.50" y1="51.10" x2="438.00" y2="51.10" stroke="#333" stroke-width="0.6"/>
<line x1="436.50" y1="44.00" x2="438.00" y2="44.00" stroke="#333" stroke-width="0.6"/>
<line x1="438.40" y1="143.40" x2="438.40" y2="146.20" stroke="#333" stroke-width="0.6"/>
<text x="438.40" y="153.70" font-size="7.0" text-anchor="middle" fill="#222" stroke="#222" stroke-width="0.1">0</text>
<line x1="458.45" y1="143.40" x2="458.45" y2="146.20" stroke="#333" stroke-width="0.6"/>
<text x="458.45" y="153.70" font-size="7.0" text-anchor="middle" fill="#222" stroke="#222" stroke-width="0.1">50K</text>
<line x1="478.50" y1="143.40" x2="478.50" y2="146.20" stroke="#333" stroke-width="0.6"/>
<text x="478.50" y="153.70" font-size="7.0" text-anchor="middle" fill="#222" stroke="#222" stroke-width="0.1">100K</text>
<line x1="498.55" y1="143.40" x2="498.55" y2="146.20" stroke="#333" stroke-width="0.6"/>
<text x="498.55" y="153.70" font-size="7.0" text-anchor="middle" fill="#222" stroke="#222" stroke-width="0.1">150K</text>
<line x1="518.60" y1="143.40" x2="518.60" y2="146.20" stroke="#333" stroke-width="0.6"/>
<text x="518.60" y="153.70" font-size="7.0" text-anchor="middle" fill="#222" stroke="#222" stroke-width="0.1">200K</text>
<line x1="538.65" y1="143.40" x2="538.65" y2="146.20" stroke="#333" stroke-width="0.6"/>
<text x="538.65" y="153.70" font-size="7.0" text-anchor="middle" fill="#222" stroke="#222" stroke-width="0.1">250K</text>
<line x1="442.41" y1="143.40" x2="442.41" y2="144.90" stroke="#333" stroke-width="0.6"/>
<line x1="446.42" y1="143.40" x2="446.42" y2="144.90" stroke="#333" stroke-width="0.6"/>
<line x1="450.43" y1="143.40" x2="450.43" y2="144.90" stroke="#333" stroke-width="0.6"/>
<line x1="454.44" y1="143.40" x2="454.44" y2="144.90" stroke="#333" stroke-width="0.6"/>
<line x1="458.45" y1="143.40" x2="458.45" y2="144.90" stroke="#333" stroke-width="0.6"/>
<line x1="462.46" y1="143.40" x2="462.46" y2="144.90" stroke="#333" stroke-width="0.6"/>
<line x1="466.47" y1="143.40" x2="466.47" y2="144.90" stroke="#333" stroke-width="0.6"/>
<line x1="470.48" y1="143.40" x2="470.48" y2="144.90" stroke="#333" stroke-width="0.6"/>
<line x1="474.49" y1="143.40" x2="474.49" y2="144.90" stroke="#333" stroke-width="0.6"/>
<line x1="478.50" y1="143.40" x2="478.50" y2="144.90" stroke="#333" stroke-width="0.6"/>
<line x1="482.51" y1="143.40" x2="482.51" y2="144.90" stroke="#333" stroke-width="0.6"/>
<line x1="486.52" y1="143.40" x2="486.52" y2="144.90" stroke="#333" stroke-width="0.6"/>
<line x1="490.53" y1="143.40" x2="490.53" y2="144.90" stroke="#333" stroke-width="0.6"/>
<line x1="494.54" y1="143.40" x2="494.54" y2="144.90" stroke="#333" stroke-width="0.6"/>
<line x1="498.55" y1="143.40" x2="498.55" y2="144.90" stroke="#333" stroke-width="0.6"/>
<line x1="502.56" y1="143.40" x2="502.56" y2="144.90" stroke="#333" stroke-width="0.6"/>
<line x1="506.57" y1="143.40" x2="506.57" y2="144.90" stroke="#333" stroke-width="0.6"/>
<line x1="510.58" y1="143.40" x2="510.58" y2="144.90" stroke="#333" stroke-width="0.6"/>
<line x1="514.59" y1="143.40" x2="514.59" y2="144.90" stroke="#333" stroke-width="0.6"/>
<line x1="518.60" y1="143.40" x2="518.60" y2="144.90" stroke="#333" stroke-width="0.6"/>
<line x1="522.61" y1="143.40" x2="522.61" y2="144.90" stroke="#333" stroke-width="0.6"/>
<line x1="526.62" y1="143.40" x2="526.62" y2="144.90" stroke="#333" stroke-width="0.6"/>
<line x1="530.63" y1="143.40" x2="530.63" y2="144.90" stroke="#333" stroke-width="0.6"/>
<line x1="534.64" y1="143.40" x2="534.64" y2="144.90" stroke="#333" stroke-width="0.6"/>
<line x1="538.65" y1="143.40" x2="538.65" y2="144.90" stroke="#333" stroke-width="0.6"/>
<line x1="542.66" y1="143.40" x2="542.66" y2="144.90" stroke="#333" stroke-width="0.6"/>
<text x="491.20" y="162.80" font-size="7.3" text-anchor="middle" fill="#222" stroke="#222" stroke-width="0.1">DAPI-A :: DNA</text>
<text x="416.00" y="90.00" font-size="7.0" text-anchor="middle" fill="#222" stroke="#222" stroke-width="0.1" transform="rotate(-90 416.00 90.00)">Count</text>
<line x1="457.40" y1="58.40" x2="475.60" y2="58.40" stroke="#333" stroke-width="0.8"/>
<line x1="457.40" y1="56.70" x2="457.40" y2="60.10" stroke="#333" stroke-width="0.8"/>
<line x1="475.60" y1="56.70" x2="475.60" y2="60.10" stroke="#333" stroke-width="0.8"/>
<text x="466.00" y="47.60" font-size="7.2" text-anchor="middle" fill="#222" stroke="#222" stroke-width="0.1">G1</text>
<text x="466.00" y="55.00" font-size="7.2" text-anchor="middle" fill="#222" stroke="#222" stroke-width="0.1">63.3%</text>
<line x1="475.60" y1="91.40" x2="491.60" y2="91.40" stroke="#333" stroke-width="0.8"/>
<line x1="475.60" y1="89.70" x2="475.60" y2="93.10" stroke="#333" stroke-width="0.8"/>
<line x1="491.60" y1="89.70" x2="491.60" y2="93.10" stroke="#333" stroke-width="0.8"/>
<text x="483.00" y="79.60" font-size="7.2" text-anchor="middle" fill="#222" stroke="#222" stroke-width="0.1">S</text>
<text x="483.00" y="88.20" font-size="7.2" text-anchor="middle" fill="#222" stroke="#222" stroke-width="0.1">20.0%</text>
<line x1="491.60" y1="108.60" x2="508.60" y2="108.60" stroke="#333" stroke-width="0.8"/>
<line x1="491.60" y1="106.90" x2="491.60" y2="110.30" stroke="#333" stroke-width="0.8"/>
<line x1="508.60" y1="106.90" x2="508.60" y2="110.30" stroke="#333" stroke-width="0.8"/>
<text x="500.00" y="96.60" font-size="7.2" text-anchor="middle" fill="#222" stroke="#222" stroke-width="0.1">G2_M</text>
<text x="500.00" y="104.60" font-size="7.2" text-anchor="middle" fill="#222" stroke="#222" stroke-width="0.1">15.5%</text>
<path d="M573.40,143.40 L573.40,142.88 L573.82,142.88 L574.24,142.88 L574.66,142.88 L575.08,142.88 L575.50,142.88 L575.92,142.88 L576.34,142.88 L576.76,142.88 L577.18,142.88 L577.60,142.88 L578.02,142.88 L578.44,142.88 L578.86,142.88 L579.28,142.88 L579.70,142.88 L580.12,142.88 L580.54,142.88 L580.96,142.88 L581.38,142.88 L581.80,142.88 L582.22,142.88 L582.64,142.88 L583.06,142.88 L583.48,142.88 L583.90,142.88 L584.32,142.88 L584.74,142.88 L585.16,142.88 L585.58,142.88 L586.00,142.88 L586.42,142.88 L586.84,142.88 L587.26,142.88 L587.68,142.88 L588.10,142.88 L588.52,142.88 L588.94,142.88 L589.36,142.88 L589.78,142.88 L590.20,142.88 L590.62,142.88 L591.04,142.88 L591.46,142.88 L591.88,142.88 L592.30,142.88 L592.72,142.88 L593.14,142.88 L593.56,142.88 L593.98,142.88 L594.40,142.88 L594.82,142.88 L595.24,142.88 L595.66,142.88 L596.08,142.88 L596.50,142.88 L596.92,142.88 L597.34,142.88 L597.76,142.88 L598.18,142.57 L598.60,142.01 L599.02,141.15 L599.44,139.86 L599.86,138.00 L600.28,135.41 L600.70,131.92 L601.12,127.38 L601.54,121.71 L601.96,114.88 L602.38,107.01 L602.80,98.32 L603.22,89.20 L603.64,80.12 L604.06,71.52 L604.48,63.19 L604.90,54.16 L605.32,45.83 L605.74,44.12 L606.16,52.40 L606.58,65.28 L607.00,78.41 L607.42,91.34 L607.84,103.78 L608.26,114.88 L608.68,124.00 L609.10,128.32 L609.52,128.62 L609.94,126.48 L610.36,127.32 L610.78,127.55 L611.20,130.82 L611.62,131.50 L612.04,132.64 L612.46,132.66 L612.88,131.09 L613.30,133.61 L613.72,132.44 L614.14,133.91 L614.56,133.92 L614.98,133.72 L615.40,132.53 L615.82,133.67 L616.24,136.15 L616.66,135.50 L617.08,136.27 L617.50,133.92 L617.92,134.30 L618.34,134.48 L618.76,134.56 L619.18,135.03 L619.60,134.44 L620.02,135.17 L620.44,137.30 L620.86,135.28 L621.28,136.78 L621.70,135.96 L622.12,136.82 L622.54,137.46 L622.96,137.83 L623.38,137.46 L623.80,137.71 L624.22,138.29 L624.64,135.56 L625.06,135.47 L625.48,134.63 L625.90,135.55 L626.32,135.89 L626.74,135.01 L627.16,137.10 L627.58,134.95 L628.00,135.65 L628.42,136.46 L628.84,136.16 L629.26,134.79 L629.68,135.57 L630.10,134.61 L630.52,133.87 L630.94,134.44 L631.36,135.21 L631.78,133.68 L632.20,134.41 L632.62,134.02 L633.04,133.78 L633.46,132.75 L633.88,133.44 L634.30,130.92 L634.72,129.42 L635.14,131.95 L635.56,131.20 L635.98,130.87 L636.40,134.60 L636.82,135.54 L637.24,134.42 L637.66,135.61 L638.08,137.26 L638.50,139.48 L638.92,139.60 L639.34,139.61 L639.76,140.15 L640.18,141.20 L640.60,141.67 L641.02,142.14 L641.44,142.61 L641.86,142.65 L642.28,142.68 L642.70,142.71 L643.12,142.75 L643.54,142.78 L643.96,142.81 L644.38,142.84 L644.80,142.88 L645.22,142.88 L645.64,142.88 L646.06,142.88 L646.48,142.88 L646.90,142.88 L647.32,142.88 L647.74,142.88 L648.16,142.88 L648.58,142.88 L649.00,142.88 L649.42,142.88 L649.84,142.88 L650.26,142.88 L650.68,142.88 L651.10,142.88 L651.52,142.88 L651.94,142.88 L652.36,142.88 L652.78,142.88 L653.20,142.88 L653.62,142.88 L654.04,142.88 L654.46,142.88 L654.88,142.88 L655.30,142.88 L655.72,142.88 L656.14,142.88 L656.56,142.88 L656.98,142.88 L657.40,142.88 L657.82,142.88 L658.24,142.88 L658.66,142.88 L659.08,142.88 L659.50,142.88 L659.92,142.88 L660.34,142.88 L660.76,142.88 L661.18,142.88 L661.60,142.88 L662.02,142.88 L662.44,142.88 L662.86,142.88 L663.28,142.88 L663.70,142.88 L664.12,142.88 L664.54,142.88 L664.96,142.88 L665.38,142.88 L665.80,142.88 L666.22,142.88 L666.64,142.88 L667.06,142.88 L667.48,142.88 L667.90,142.88 L668.32,142.88 L668.74,142.88 L669.16,142.88 L669.58,142.88 L670.00,142.88 L670.42,142.88 L670.84,142.88 L671.26,142.88 L671.68,142.88 L672.10,142.88 L672.52,142.88 L672.94,142.88 L673.36,142.88 L673.78,142.88 L674.20,142.88 L674.62,142.88 L675.04,142.88 L675.46,142.88 L675.88,142.88 L676.30,142.88 L676.72,142.88 L677.14,142.88 L677.56,142.88 L677.98,142.88 L678.40,142.88 L678.82,142.88 L679.24,142.88 L679.40,142.88 L679.40,143.40 Z" fill="#9a9a9a" stroke="none"/>
<path d="M573.40,142.88 L573.82,142.88 L574.24,142.88 L574.66,142.88 L575.08,142.88 L575.50,142.88 L575.92,142.88 L576.34,142.88 L576.76,142.88 L577.18,142.88 L577.60,142.88 L578.02,142.88 L578.44,142.88 L578.86,142.88 L579.28,142.88 L579.70,142.88 L580.12,142.88 L580.54,142.88 L580.96,142.88 L581.38,142.88 L581.80,142.88 L582.22,142.88 L582.64,142.88 L583.06,142.88 L583.48,142.88 L583.90,142.88 L584.32,142.88 L584.74,142.88 L585.16,142.88 L585.58,142.88 L586.00,142.88 L586.42,142.88 L586.84,142.88 L587.26,142.88 L587.68,142.88 L588.10,142.88 L588.52,142.88 L588.94,142.88 L589.36,142.88 L589.78,142.88 L590.20,142.88 L590.62,142.88 L591.04,142.88 L591.46,142.88 L591.88,142.88 L592.30,142.88 L592.72,142.88 L593.14,142.88 L593.56,142.88 L593.98,142.88 L594.40,142.88 L594.82,142.88 L595.24,142.88 L595.66,142.88 L596.08,142.88 L596.50,142.88 L596.92,142.88 L597.34,142.88 L597.76,142.88 L598.18,142.57 L598.60,142.01 L599.02,141.15 L599.44,139.86 L599.86,138.00 L600.28,135.41 L600.70,131.92 L601.12,127.38 L601.54,121.71 L601.96,114.88 L602.38,107.01 L602.80,98.32 L603.22,89.20 L603.64,80.12 L604.06,71.52 L604.48,63.19 L604.90,54.16 L605.32,45.83 L605.74,44.12 L606.16,52.40 L606.58,65.28 L607.00,78.41 L607.42,91.34 L607.84,103.78 L608.26,114.88 L608.68,124.00 L609.10,128.32 L609.52,128.62 L609.94,126.48 L610.36,127.32 L610.78,127.55 L611.20,130.82 L611.62,131.50 L612.04,132.64 L612.46,132.66 L612.88,131.09 L613.30,133.61 L613.72,132.44 L614.14,133.91 L614.56,133.92 L614.98,133.72 L615.40,132.53 L615.82,133.67 L616.24,136.15 L616.66,135.50 L617.08,136.27 L617.50,133.92 L617.92,134.30 L618.34,134.48 L618.76,134.56 L619.18,135.03 L619.60,134.44 L620.02,135.17 L620.44,137.30 L620.86,135.28 L621.28,136.78 L621.70,135.96 L622.12,136.82 L622.54,137.46 L622.96,137.83 L623.38,137.46 L623.80,137.71 L624.22,138.29 L624.64,135.56 L625.06,135.47 L625.48,134.63 L625.90,135.55 L626.32,135.89 L626.74,135.01 L627.16,137.10 L627.58,134.95 L628.00,135.65 L628.42,136.46 L628.84,136.16 L629.26,134.79 L629.68,135.57 L630.10,134.61 L630.52,133.87 L630.94,134.44 L631.36,135.21 L631.78,133.68 L632.20,134.41 L632.62,134.02 L633.04,133.78 L633.46,132.75 L633.88,133.44 L634.30,130.92 L634.72,129.42 L635.14,131.95 L635.56,131.20 L635.98,130.87 L636.40,134.60 L636.82,135.54 L637.24,134.42 L637.66,135.61 L638.08,137.26 L638.50,139.48 L638.92,139.60 L639.34,139.61 L639.76,140.15 L640.18,141.20 L640.60,141.67 L641.02,142.14 L641.44,142.61 L641.86,142.65 L642.28,142.68 L642.70,142.71 L643.12,142.75 L643.54,142.78 L643.96,142.81 L644.38,142.84 L644.80,142.88 L645.22,142.88 L645.64,142.88 L646.06,142.88 L646.48,142.88 L646.90,142.88 L647.32,142.88 L647.74,142.88 L648.16,142.88 L648.58,142.88 L649.00,142.88 L649.42,142.88 L649.84,142.88 L650.26,142.88 L650.68,142.88 L651.10,142.88 L651.52,142.88 L651.94,142.88 L652.36,142.88 L652.78,142.88 L653.20,142.88 L653.62,142.88 L654.04,142.88 L654.46,142.88 L654.88,142.88 L655.30,142.88 L655.72,142.88 L656.14,142.88 L656.56,142.88 L656.98,142.88 L657.40,142.88 L657.82,142.88 L658.24,142.88 L658.66,142.88 L659.08,142.88 L659.50,142.88 L659.92,142.88 L660.34,142.88 L660.76,142.88 L661.18,142.88 L661.60,142.88 L662.02,142.88 L662.44,142.88 L662.86,142.88 L663.28,142.88 L663.70,142.88 L664.12,142.88 L664.54,142.88 L664.96,142.88 L665.38,142.88 L665.80,142.88 L666.22,142.88 L666.64,142.88 L667.06,142.88 L667.48,142.88 L667.90,142.88 L668.32,142.88 L668.74,142.88 L669.16,142.88 L669.58,142.88 L670.00,142.88 L670.42,142.88 L670.84,142.88 L671.26,142.88 L671.68,142.88 L672.10,142.88 L672.52,142.88 L672.94,142.88 L673.36,142.88 L673.78,142.88 L674.20,142.88 L674.62,142.88 L675.04,142.88 L675.46,142.88 L675.88,142.88 L676.30,142.88 L676.72,142.88 L677.14,142.88 L677.56,142.88 L677.98,142.88 L678.40,142.88 L678.82,142.88 L679.24,142.88 L679.40,142.88" fill="none" stroke="#111" stroke-width="0.85" stroke-linejoin="round"/>
<path d="M573.40,37.40 L679.40,37.40 L679.40,143.40" fill="none" stroke="#999" stroke-width="0.9"/>
<line x1="573.40" y1="37.40" x2="573.40" y2="143.80" stroke="#666" stroke-width="0.8"/>
<line x1="573.00" y1="143.40" x2="679.40" y2="143.40" stroke="#444" stroke-width="0.8"/>
<line x1="570.60" y1="117.20" x2="573.40" y2="117.20" stroke="#333" stroke-width="0.6"/>
<text x="569.20" y="119.60" font-size="7.0" text-anchor="end" fill="#222" stroke="#222" stroke-width="0.1">100</text>
<line x1="570.60" y1="91.00" x2="573.40" y2="91.00" stroke="#333" stroke-width="0.6"/>
<text x="569.20" y="93.40" font-size="7.0" text-anchor="end" fill="#222" stroke="#222" stroke-width="0.1">200</text>
<line x1="570.60" y1="64.80" x2="573.40" y2="64.80" stroke="#333" stroke-width="0.6"/>
<text x="569.20" y="67.20" font-size="7.0" text-anchor="end" fill="#222" stroke="#222" stroke-width="0.1">300</text>
<line x1="570.60" y1="38.60" x2="573.40" y2="38.60" stroke="#333" stroke-width="0.6"/>
<text x="569.20" y="41.00" font-size="7.0" text-anchor="end" fill="#222" stroke="#222" stroke-width="0.1">400</text>
<line x1="571.90" y1="136.85" x2="573.40" y2="136.85" stroke="#333" stroke-width="0.6"/>
<line x1="571.90" y1="130.30" x2="573.40" y2="130.30" stroke="#333" stroke-width="0.6"/>
<line x1="571.90" y1="123.75" x2="573.40" y2="123.75" stroke="#333" stroke-width="0.6"/>
<line x1="571.90" y1="117.20" x2="573.40" y2="117.20" stroke="#333" stroke-width="0.6"/>
<line x1="571.90" y1="110.65" x2="573.40" y2="110.65" stroke="#333" stroke-width="0.6"/>
<line x1="571.90" y1="104.10" x2="573.40" y2="104.10" stroke="#333" stroke-width="0.6"/>
<line x1="571.90" y1="97.55" x2="573.40" y2="97.55" stroke="#333" stroke-width="0.6"/>
<line x1="571.90" y1="91.00" x2="573.40" y2="91.00" stroke="#333" stroke-width="0.6"/>
<line x1="571.90" y1="84.45" x2="573.40" y2="84.45" stroke="#333" stroke-width="0.6"/>
<line x1="571.90" y1="77.90" x2="573.40" y2="77.90" stroke="#333" stroke-width="0.6"/>
<line x1="571.90" y1="71.35" x2="573.40" y2="71.35" stroke="#333" stroke-width="0.6"/>
<line x1="571.90" y1="64.80" x2="573.40" y2="64.80" stroke="#333" stroke-width="0.6"/>
<line x1="571.90" y1="58.25" x2="573.40" y2="58.25" stroke="#333" stroke-width="0.6"/>
<line x1="571.90" y1="51.70" x2="573.40" y2="51.70" stroke="#333" stroke-width="0.6"/>
<line x1="571.90" y1="45.15" x2="573.40" y2="45.15" stroke="#333" stroke-width="0.6"/>
<line x1="571.90" y1="38.60" x2="573.40" y2="38.60" stroke="#333" stroke-width="0.6"/>
<line x1="573.40" y1="143.40" x2="573.40" y2="146.20" stroke="#333" stroke-width="0.6"/>
<text x="573.40" y="153.70" font-size="7.0" text-anchor="middle" fill="#222" stroke="#222" stroke-width="0.1">0</text>
<line x1="593.60" y1="143.40" x2="593.60" y2="146.20" stroke="#333" stroke-width="0.6"/>
<text x="593.60" y="153.70" font-size="7.0" text-anchor="middle" fill="#222" stroke="#222" stroke-width="0.1">50K</text>
<line x1="613.80" y1="143.40" x2="613.80" y2="146.20" stroke="#333" stroke-width="0.6"/>
<text x="613.80" y="153.70" font-size="7.0" text-anchor="middle" fill="#222" stroke="#222" stroke-width="0.1">100K</text>
<line x1="634.00" y1="143.40" x2="634.00" y2="146.20" stroke="#333" stroke-width="0.6"/>
<text x="634.00" y="153.70" font-size="7.0" text-anchor="middle" fill="#222" stroke="#222" stroke-width="0.1">150K</text>
<line x1="654.20" y1="143.40" x2="654.20" y2="146.20" stroke="#333" stroke-width="0.6"/>
<text x="654.20" y="153.70" font-size="7.0" text-anchor="middle" fill="#222" stroke="#222" stroke-width="0.1">200K</text>
<line x1="674.40" y1="143.40" x2="674.40" y2="146.20" stroke="#333" stroke-width="0.6"/>
<text x="674.40" y="153.70" font-size="7.0" text-anchor="middle" fill="#222" stroke="#222" stroke-width="0.1">250K</text>
<line x1="577.44" y1="143.40" x2="577.44" y2="144.90" stroke="#333" stroke-width="0.6"/>
<line x1="581.48" y1="143.40" x2="581.48" y2="144.90" stroke="#333" stroke-width="0.6"/>
<line x1="585.52" y1="143.40" x2="585.52" y2="144.90" stroke="#333" stroke-width="0.6"/>
<line x1="589.56" y1="143.40" x2="589.56" y2="144.90" stroke="#333" stroke-width="0.6"/>
<line x1="593.60" y1="143.40" x2="593.60" y2="144.90" stroke="#333" stroke-width="0.6"/>
<line x1="597.64" y1="143.40" x2="597.64" y2="144.90" stroke="#333" stroke-width="0.6"/>
<line x1="601.68" y1="143.40" x2="601.68" y2="144.90" stroke="#333" stroke-width="0.6"/>
<line x1="605.72" y1="143.40" x2="605.72" y2="144.90" stroke="#333" stroke-width="0.6"/>
<line x1="609.76" y1="143.40" x2="609.76" y2="144.90" stroke="#333" stroke-width="0.6"/>
<line x1="613.80" y1="143.40" x2="613.80" y2="144.90" stroke="#333" stroke-width="0.6"/>
<line x1="617.84" y1="143.40" x2="617.84" y2="144.90" stroke="#333" stroke-width="0.6"/>
<line x1="621.88" y1="143.40" x2="621.88" y2="144.90" stroke="#333" stroke-width="0.6"/>
<line x1="625.92" y1="143.40" x2="625.92" y2="144.90" stroke="#333" stroke-width="0.6"/>
<line x1="629.96" y1="143.40" x2="629.96" y2="144.90" stroke="#333" stroke-width="0.6"/>
<line x1="634.00" y1="143.40" x2="634.00" y2="144.90" stroke="#333" stroke-width="0.6"/>
<line x1="638.04" y1="143.40" x2="638.04" y2="144.90" stroke="#333" stroke-width="0.6"/>
<line x1="642.08" y1="143.40" x2="642.08" y2="144.90" stroke="#333" stroke-width="0.6"/>
<line x1="646.12" y1="143.40" x2="646.12" y2="144.90" stroke="#333" stroke-width="0.6"/>
<line x1="650.16" y1="143.40" x2="650.16" y2="144.90" stroke="#333" stroke-width="0.6"/>
<line x1="654.20" y1="143.40" x2="654.20" y2="144.90" stroke="#333" stroke-width="0.6"/>
<line x1="658.24" y1="143.40" x2="658.24" y2="144.90" stroke="#333" stroke-width="0.6"/>
<line x1="662.28" y1="143.40" x2="662.28" y2="144.90" stroke="#333" stroke-width="0.6"/>
<line x1="666.32" y1="143.40" x2="666.32" y2="144.90" stroke="#333" stroke-width="0.6"/>
<line x1="670.36" y1="143.40" x2="670.36" y2="144.90" stroke="#333" stroke-width="0.6"/>
<line x1="674.40" y1="143.40" x2="674.40" y2="144.90" stroke="#333" stroke-width="0.6"/>
<line x1="678.44" y1="143.40" x2="678.44" y2="144.90" stroke="#333" stroke-width="0.6"/>
<text x="626.40" y="162.80" font-size="7.3" text-anchor="middle" fill="#222" stroke="#222" stroke-width="0.1">DAPI-A :: DNA</text>
<text x="554.00" y="91.00" font-size="7.0" text-anchor="middle" fill="#222" stroke="#222" stroke-width="0.1" transform="rotate(-90 554.00 91.00)">Count</text>
<line x1="592.40" y1="59.00" x2="610.40" y2="59.00" stroke="#333" stroke-width="0.8"/>
<line x1="592.40" y1="57.30" x2="592.40" y2="60.70" stroke="#333" stroke-width="0.8"/>
<line x1="610.40" y1="57.30" x2="610.40" y2="60.70" stroke="#333" stroke-width="0.8"/>
<text x="601.00" y="48.20" font-size="7.2" text-anchor="middle" fill="#222" stroke="#222" stroke-width="0.1">G1</text>
<text x="601.00" y="55.60" font-size="7.2" text-anchor="middle" fill="#222" stroke="#222" stroke-width="0.1">63.5%</text>
<line x1="610.40" y1="92.00" x2="626.60" y2="92.00" stroke="#333" stroke-width="0.8"/>
<line x1="610.40" y1="90.30" x2="610.40" y2="93.70" stroke="#333" stroke-width="0.8"/>
<line x1="626.60" y1="90.30" x2="626.60" y2="93.70" stroke="#333" stroke-width="0.8"/>
<text x="618.00" y="80.20" font-size="7.2" text-anchor="middle" fill="#222" stroke="#222" stroke-width="0.1">S</text>
<text x="618.00" y="88.00" font-size="7.2" text-anchor="middle" fill="#222" stroke="#222" stroke-width="0.1">19.8%</text>
<line x1="626.60" y1="108.60" x2="643.60" y2="108.60" stroke="#333" stroke-width="0.8"/>
<line x1="626.60" y1="106.90" x2="626.60" y2="110.30" stroke="#333" stroke-width="0.8"/>
<line x1="643.60" y1="106.90" x2="643.60" y2="110.30" stroke="#333" stroke-width="0.8"/>
<text x="635.60" y="98.20" font-size="7.2" text-anchor="middle" fill="#222" stroke="#222" stroke-width="0.1">G2_M</text>
<text x="635.60" y="105.20" font-size="7.2" text-anchor="middle" fill="#222" stroke="#222" stroke-width="0.1">15.5%</text>
<path d="M438.40,277.60 L438.40,276.64 L438.81,275.83 L439.23,275.03 L439.64,275.57 L440.05,276.10 L440.46,276.64 L440.88,276.65 L441.29,276.66 L441.70,276.66 L442.12,276.67 L442.53,276.68 L442.94,276.69 L443.36,276.70 L443.77,276.71 L444.18,276.72 L444.59,276.73 L445.01,276.74 L445.42,276.75 L445.83,276.76 L446.25,276.77 L446.66,276.77 L447.07,276.78 L447.49,276.79 L447.90,276.80 L448.31,276.81 L448.72,276.82 L449.14,276.83 L449.55,276.84 L449.96,276.85 L450.38,276.86 L450.79,276.87 L451.20,276.88 L451.62,276.88 L452.03,276.89 L452.44,276.90 L452.85,276.91 L453.27,276.92 L453.68,276.93 L454.09,276.94 L454.51,276.95 L454.92,276.96 L455.33,276.32 L455.75,275.67 L456.16,275.03 L456.57,274.39 L456.98,273.75 L457.40,272.38 L457.81,269.36 L458.22,265.11 L458.64,259.41 L459.05,252.14 L459.46,243.37 L459.88,233.39 L460.29,222.72 L460.70,212.03 L461.11,201.63 L461.53,190.92 L461.94,180.81 L462.35,176.86 L462.77,182.57 L463.18,193.11 L463.59,203.71 L464.01,214.14 L464.42,224.87 L464.83,235.46 L465.25,245.24 L465.66,253.72 L466.07,259.62 L466.48,256.89 L466.90,260.53 L467.31,257.97 L467.72,261.27 L468.14,258.24 L468.55,263.29 L468.96,260.11 L469.38,261.70 L469.79,261.68 L470.20,261.81 L470.61,265.99 L471.03,266.32 L471.44,265.43 L471.85,267.80 L472.27,268.33 L472.68,268.93 L473.09,266.55 L473.50,266.93 L473.92,266.83 L474.33,268.96 L474.74,265.35 L475.16,266.76 L475.57,267.57 L475.98,265.82 L476.40,265.23 L476.81,266.01 L477.22,263.08 L477.63,263.25 L478.05,261.56 L478.46,259.62 L478.87,260.57 L479.29,261.33 L479.70,258.95 L480.11,258.04 L480.53,259.99 L480.94,257.38 L481.35,260.98 L481.76,259.88 L482.18,259.17 L482.59,254.12 L483.00,253.63 L483.42,251.90 L483.83,255.45 L484.24,256.12 L484.66,255.96 L485.07,260.14 L485.48,260.71 L485.89,261.66 L486.31,260.86 L486.72,260.28 L487.13,262.65 L487.55,264.43 L487.96,265.07 L488.37,268.05 L488.79,266.12 L489.20,270.31 L489.61,272.13 L490.02,273.08 L490.44,273.24 L490.85,275.27 L491.26,276.64 L491.68,276.68 L492.09,276.73 L492.50,276.77 L492.92,276.82 L493.33,276.87 L493.74,276.91 L494.15,276.96 L494.57,276.96 L494.98,276.96 L495.39,276.96 L495.81,276.96 L496.22,276.96 L496.63,276.96 L497.05,276.96 L497.46,276.96 L497.87,276.96 L498.28,276.96 L498.70,276.96 L499.11,276.96 L499.52,276.96 L499.94,276.96 L500.35,276.96 L500.76,276.96 L501.18,276.96 L501.59,276.96 L502.00,276.96 L502.41,276.96 L502.83,276.96 L503.24,276.96 L503.65,276.96 L504.07,276.96 L504.48,276.96 L504.89,276.96 L505.31,276.96 L505.72,276.96 L506.13,276.96 L506.54,276.96 L506.96,276.96 L507.37,276.96 L507.78,276.96 L508.20,276.96 L508.61,276.96 L509.02,276.96 L509.44,276.96 L509.85,276.96 L510.26,276.96 L510.67,276.96 L511.09,276.96 L511.50,276.96 L511.91,276.96 L512.33,276.96 L512.74,276.96 L513.15,276.96 L513.57,276.96 L513.98,276.96 L514.39,276.96 L514.80,276.96 L515.22,276.96 L515.63,276.96 L516.04,276.96 L516.46,276.96 L516.87,276.96 L517.28,276.96 L517.70,276.96 L518.11,276.96 L518.52,276.96 L518.93,276.96 L519.35,276.96 L519.76,276.96 L520.17,276.96 L520.59,276.96 L521.00,276.96 L521.41,276.96 L521.83,276.96 L522.24,276.96 L522.65,276.96 L523.06,276.96 L523.48,276.96 L523.89,276.96 L524.30,276.96 L524.72,276.96 L525.13,276.96 L525.54,276.96 L525.96,276.96 L526.37,276.96 L526.78,276.96 L527.19,276.96 L527.61,276.96 L528.02,276.96 L528.43,276.96 L528.85,276.96 L529.26,276.96 L529.67,276.96 L530.09,276.96 L530.50,276.96 L530.91,276.96 L531.32,276.96 L531.74,276.96 L532.15,276.96 L532.56,276.96 L532.98,276.96 L533.39,276.96 L533.80,276.96 L534.22,276.96 L534.63,276.96 L535.04,276.96 L535.45,276.96 L535.87,276.96 L536.28,276.96 L536.69,276.96 L537.11,276.96 L537.52,276.96 L537.93,276.96 L538.35,276.96 L538.76,276.96 L539.17,276.96 L539.58,276.96 L540.00,276.96 L540.41,276.96 L540.82,276.96 L541.24,276.96 L541.65,276.96 L542.06,276.96 L542.48,276.96 L542.89,276.96 L543.30,276.96 L543.71,276.96 L544.13,276.96 L544.40,276.96 L544.40,277.60 Z" fill="#9a9a9a" stroke="none"/>
<path d="M438.40,276.64 L438.81,275.83 L439.23,275.03 L439.64,275.57 L440.05,276.10 L440.46,276.64 L440.88,276.65 L441.29,276.66 L441.70,276.66 L442.12,276.67 L442.53,276.68 L442.94,276.69 L443.36,276.70 L443.77,276.71 L444.18,276.72 L444.59,276.73 L445.01,276.74 L445.42,276.75 L445.83,276.76 L446.25,276.77 L446.66,276.77 L447.07,276.78 L447.49,276.79 L447.90,276.80 L448.31,276.81 L448.72,276.82 L449.14,276.83 L449.55,276.84 L449.96,276.85 L450.38,276.86 L450.79,276.87 L451.20,276.88 L451.62,276.88 L452.03,276.89 L452.44,276.90 L452.85,276.91 L453.27,276.92 L453.68,276.93 L454.09,276.94 L454.51,276.95 L454.92,276.96 L455.33,276.32 L455.75,275.67 L456.16,275.03 L456.57,274.39 L456.98,273.75 L457.40,272.38 L457.81,269.36 L458.22,265.11 L458.64,259.41 L459.05,252.14 L459.46,243.37 L459.88,233.39 L460.29,222.72 L460.70,212.03 L461.11,201.63 L461.53,190.92 L461.94,180.81 L462.35,176.86 L462.77,182.57 L463.18,193.11 L463.59,203.71 L464.01,214.14 L464.42,224.87 L464.83,235.46 L465.25,245.24 L465.66,253.72 L466.07,259.62 L466.48,256.89 L466.90,260.53 L467.31,257.97 L467.72,261.27 L468.14,258.24 L468.55,263.29 L468.96,260.11 L469.38,261.70 L469.79,261.68 L470.20,261.81 L470.61,265.99 L471.03,266.32 L471.44,265.43 L471.85,267.80 L472.27,268.33 L472.68,268.93 L473.09,266.55 L473.50,266.93 L473.92,266.83 L474.33,268.96 L474.74,265.35 L475.16,266.76 L475.57,267.57 L475.98,265.82 L476.40,265.23 L476.81,266.01 L477.22,263.08 L477.63,263.25 L478.05,261.56 L478.46,259.62 L478.87,260.57 L479.29,261.33 L479.70,258.95 L480.11,258.04 L480.53,259.99 L480.94,257.38 L481.35,260.98 L481.76,259.88 L482.18,259.17 L482.59,254.12 L483.00,253.63 L483.42,251.90 L483.83,255.45 L484.24,256.12 L484.66,255.96 L485.07,260.14 L485.48,260.71 L485.89,261.66 L486.31,260.86 L486.72,260.28 L487.13,262.65 L487.55,264.43 L487.96,265.07 L488.37,268.05 L488.79,266.12 L489.20,270.31 L489.61,272.13 L490.02,273.08 L490.44,273.24 L490.85,275.27 L491.26,276.64 L491.68,276.68 L492.09,276.73 L492.50,276.77 L492.92,276.82 L493.33,276.87 L493.74,276.91 L494.15,276.96 L494.57,276.96 L494.98,276.96 L495.39,276.96 L495.81,276.96 L496.22,276.96 L496.63,276.96 L497.05,276.96 L497.46,276.96 L497.87,276.96 L498.28,276.96 L498.70,276.96 L499.11,276.96 L499.52,276.96 L499.94,276.96 L500.35,276.96 L500.76,276.96 L501.18,276.96 L501.59,276.96 L502.00,276.96 L502.41,276.96 L502.83,276.96 L503.24,276.96 L503.65,276.96 L504.07,276.96 L504.48,276.96 L504.89,276.96 L505.31,276.96 L505.72,276.96 L506.13,276.96 L506.54,276.96 L506.96,276.96 L507.37,276.96 L507.78,276.96 L508.20,276.96 L508.61,276.96 L509.02,276.96 L509.44,276.96 L509.85,276.96 L510.26,276.96 L510.67,276.96 L511.09,276.96 L511.50,276.96 L511.91,276.96 L512.33,276.96 L512.74,276.96 L513.15,276.96 L513.57,276.96 L513.98,276.96 L514.39,276.96 L514.80,276.96 L515.22,276.96 L515.63,276.96 L516.04,276.96 L516.46,276.96 L516.87,276.96 L517.28,276.96 L517.70,276.96 L518.11,276.96 L518.52,276.96 L518.93,276.96 L519.35,276.96 L519.76,276.96 L520.17,276.96 L520.59,276.96 L521.00,276.96 L521.41,276.96 L521.83,276.96 L522.24,276.96 L522.65,276.96 L523.06,276.96 L523.48,276.96 L523.89,276.96 L524.30,276.96 L524.72,276.96 L525.13,276.96 L525.54,276.96 L525.96,276.96 L526.37,276.96 L526.78,276.96 L527.19,276.96 L527.61,276.96 L528.02,276.96 L528.43,276.96 L528.85,276.96 L529.26,276.96 L529.67,276.96 L530.09,276.96 L530.50,276.96 L530.91,276.96 L531.32,276.96 L531.74,276.96 L532.15,276.96 L532.56,276.96 L532.98,276.96 L533.39,276.96 L533.80,276.96 L534.22,276.96 L534.63,276.96 L535.04,276.96 L535.45,276.96 L535.87,276.96 L536.28,276.96 L536.69,276.96 L537.11,276.96 L537.52,276.96 L537.93,276.96 L538.35,276.96 L538.76,276.96 L539.17,276.96 L539.58,276.96 L540.00,276.96 L540.41,276.96 L540.82,276.96 L541.24,276.96 L541.65,276.96 L542.06,276.96 L542.48,276.96 L542.89,276.96 L543.30,276.96 L543.71,276.96 L544.13,276.96 L544.40,276.96" fill="none" stroke="#111" stroke-width="0.85" stroke-linejoin="round"/>
<path d="M437.60,171.40 L544.40,171.40 L544.40,277.60" fill="none" stroke="#999" stroke-width="0.9"/>
<line x1="437.60" y1="171.40" x2="437.60" y2="278.00" stroke="#666" stroke-width="0.8"/>
<line x1="437.20" y1="277.60" x2="544.40" y2="277.60" stroke="#444" stroke-width="0.8"/>
<line x1="434.80" y1="277.60" x2="437.60" y2="277.60" stroke="#333" stroke-width="0.6"/>
<text x="433.40" y="280.00" font-size="7.0" text-anchor="end" fill="#222" stroke="#222" stroke-width="0.1">0</text>
<line x1="434.80" y1="245.50" x2="437.60" y2="245.50" stroke="#333" stroke-width="0.6"/>
<text x="433.40" y="247.90" font-size="7.0" text-anchor="end" fill="#222" stroke="#222" stroke-width="0.1">100</text>
<line x1="434.80" y1="213.40" x2="437.60" y2="213.40" stroke="#333" stroke-width="0.6"/>
<text x="433.40" y="215.80" font-size="7.0" text-anchor="end" fill="#222" stroke="#222" stroke-width="0.1">200</text>
<line x1="434.80" y1="181.30" x2="437.60" y2="181.30" stroke="#333" stroke-width="0.6"/>
<text x="433.40" y="183.70" font-size="7.0" text-anchor="end" fill="#222" stroke="#222" stroke-width="0.1">300</text>
<line x1="436.10" y1="269.58" x2="437.60" y2="269.58" stroke="#333" stroke-width="0.6"/>
<line x1="436.10" y1="261.55" x2="437.60" y2="261.55" stroke="#333" stroke-width="0.6"/>
<line x1="436.10" y1="253.53" x2="437.60" y2="253.53" stroke="#333" stroke-width="0.6"/>
<line x1="436.10" y1="245.50" x2="437.60" y2="245.50" stroke="#333" stroke-width="0.6"/>
<line x1="436.10" y1="237.48" x2="437.60" y2="237.48" stroke="#333" stroke-width="0.6"/>
<line x1="436.10" y1="229.45" x2="437.60" y2="229.45" stroke="#333" stroke-width="0.6"/>
<line x1="436.10" y1="221.43" x2="437.60" y2="221.43" stroke="#333" stroke-width="0.6"/>
<line x1="436.10" y1="213.40" x2="437.60" y2="213.40" stroke="#333" stroke-width="0.6"/>
<line x1="436.10" y1="205.38" x2="437.60" y2="205.38" stroke="#333" stroke-width="0.6"/>
<line x1="436.10" y1="197.35" x2="437.60" y2="197.35" stroke="#333" stroke-width="0.6"/>
<line x1="436.10" y1="189.33" x2="437.60" y2="189.33" stroke="#333" stroke-width="0.6"/>
<line x1="436.10" y1="181.30" x2="437.60" y2="181.30" stroke="#333" stroke-width="0.6"/>
<line x1="436.10" y1="173.28" x2="437.60" y2="173.28" stroke="#333" stroke-width="0.6"/>
<line x1="438.40" y1="277.60" x2="438.40" y2="280.40" stroke="#333" stroke-width="0.6"/>
<text x="438.40" y="287.90" font-size="7.0" text-anchor="middle" fill="#222" stroke="#222" stroke-width="0.1">0</text>
<line x1="458.45" y1="277.60" x2="458.45" y2="280.40" stroke="#333" stroke-width="0.6"/>
<text x="458.45" y="287.90" font-size="7.0" text-anchor="middle" fill="#222" stroke="#222" stroke-width="0.1">50K</text>
<line x1="478.50" y1="277.60" x2="478.50" y2="280.40" stroke="#333" stroke-width="0.6"/>
<text x="478.50" y="287.90" font-size="7.0" text-anchor="middle" fill="#222" stroke="#222" stroke-width="0.1">100K</text>
<line x1="498.55" y1="277.60" x2="498.55" y2="280.40" stroke="#333" stroke-width="0.6"/>
<text x="498.55" y="287.90" font-size="7.0" text-anchor="middle" fill="#222" stroke="#222" stroke-width="0.1">150K</text>
<line x1="518.60" y1="277.60" x2="518.60" y2="280.40" stroke="#333" stroke-width="0.6"/>
<text x="518.60" y="287.90" font-size="7.0" text-anchor="middle" fill="#222" stroke="#222" stroke-width="0.1">200K</text>
<line x1="538.65" y1="277.60" x2="538.65" y2="280.40" stroke="#333" stroke-width="0.6"/>
<text x="538.65" y="287.90" font-size="7.0" text-anchor="middle" fill="#222" stroke="#222" stroke-width="0.1">250K</text>
<line x1="442.41" y1="277.60" x2="442.41" y2="279.10" stroke="#333" stroke-width="0.6"/>
<line x1="446.42" y1="277.60" x2="446.42" y2="279.10" stroke="#333" stroke-width="0.6"/>
<line x1="450.43" y1="277.60" x2="450.43" y2="279.10" stroke="#333" stroke-width="0.6"/>
<line x1="454.44" y1="277.60" x2="454.44" y2="279.10" stroke="#333" stroke-width="0.6"/>
<line x1="458.45" y1="277.60" x2="458.45" y2="279.10" stroke="#333" stroke-width="0.6"/>
<line x1="462.46" y1="277.60" x2="462.46" y2="279.10" stroke="#333" stroke-width="0.6"/>
<line x1="466.47" y1="277.60" x2="466.47" y2="279.10" stroke="#333" stroke-width="0.6"/>
<line x1="470.48" y1="277.60" x2="470.48" y2="279.10" stroke="#333" stroke-width="0.6"/>
<line x1="474.49" y1="277.60" x2="474.49" y2="279.10" stroke="#333" stroke-width="0.6"/>
<line x1="478.50" y1="277.60" x2="478.50" y2="279.10" stroke="#333" stroke-width="0.6"/>
<line x1="482.51" y1="277.60" x2="482.51" y2="279.10" stroke="#333" stroke-width="0.6"/>
<line x1="486.52" y1="277.60" x2="486.52" y2="279.10" stroke="#333" stroke-width="0.6"/>
<line x1="490.53" y1="277.60" x2="490.53" y2="279.10" stroke="#333" stroke-width="0.6"/>
<line x1="494.54" y1="277.60" x2="494.54" y2="279.10" stroke="#333" stroke-width="0.6"/>
<line x1="498.55" y1="277.60" x2="498.55" y2="279.10" stroke="#333" stroke-width="0.6"/>
<line x1="502.56" y1="277.60" x2="502.56" y2="279.10" stroke="#333" stroke-width="0.6"/>
<line x1="506.57" y1="277.60" x2="506.57" y2="279.10" stroke="#333" stroke-width="0.6"/>
<line x1="510.58" y1="277.60" x2="510.58" y2="279.10" stroke="#333" stroke-width="0.6"/>
<line x1="514.59" y1="277.60" x2="514.59" y2="279.10" stroke="#333" stroke-width="0.6"/>
<line x1="518.60" y1="277.60" x2="518.60" y2="279.10" stroke="#333" stroke-width="0.6"/>
<line x1="522.61" y1="277.60" x2="522.61" y2="279.10" stroke="#333" stroke-width="0.6"/>
<line x1="526.62" y1="277.60" x2="526.62" y2="279.10" stroke="#333" stroke-width="0.6"/>
<line x1="530.63" y1="277.60" x2="530.63" y2="279.10" stroke="#333" stroke-width="0.6"/>
<line x1="534.64" y1="277.60" x2="534.64" y2="279.10" stroke="#333" stroke-width="0.6"/>
<line x1="538.65" y1="277.60" x2="538.65" y2="279.10" stroke="#333" stroke-width="0.6"/>
<line x1="542.66" y1="277.60" x2="542.66" y2="279.10" stroke="#333" stroke-width="0.6"/>
<text x="491.00" y="297.00" font-size="7.3" text-anchor="middle" fill="#222" stroke="#222" stroke-width="0.1">DAPI-A :: DNA</text>
<text x="416.00" y="225.00" font-size="7.0" text-anchor="middle" fill="#222" stroke="#222" stroke-width="0.1" transform="rotate(-90 416.00 225.00)">Count</text>
<line x1="467.60" y1="196.60" x2="481.00" y2="196.60" stroke="#333" stroke-width="0.8"/>
<line x1="467.60" y1="194.90" x2="467.60" y2="198.30" stroke="#333" stroke-width="0.8"/>
<line x1="481.00" y1="194.90" x2="481.00" y2="198.30" stroke="#333" stroke-width="0.8"/>
<text x="474.00" y="184.60" font-size="7.2" text-anchor="middle" fill="#222" stroke="#222" stroke-width="0.1">S</text>
<text x="474.00" y="191.60" font-size="7.2" text-anchor="middle" fill="#222" stroke="#222" stroke-width="0.1">19.1%</text>
<line x1="453.60" y1="222.00" x2="467.40" y2="222.00" stroke="#333" stroke-width="0.8"/>
<line x1="453.60" y1="220.30" x2="453.60" y2="223.70" stroke="#333" stroke-width="0.8"/>
<line x1="467.40" y1="220.30" x2="467.40" y2="223.70" stroke="#333" stroke-width="0.8"/>
<text x="460.00" y="212.20" font-size="7.2" text-anchor="middle" fill="#222" stroke="#222" stroke-width="0.1">G1</text>
<text x="460.00" y="219.60" font-size="7.2" text-anchor="middle" fill="#222" stroke="#222" stroke-width="0.1">58.8%</text>
<line x1="481.00" y1="224.60" x2="500.60" y2="224.60" stroke="#333" stroke-width="0.8"/>
<line x1="481.00" y1="222.90" x2="481.00" y2="226.30" stroke="#333" stroke-width="0.8"/>
<line x1="500.60" y1="222.90" x2="500.60" y2="226.30" stroke="#333" stroke-width="0.8"/>
<text x="491.00" y="213.00" font-size="7.2" text-anchor="middle" fill="#222" stroke="#222" stroke-width="0.1">G2_M</text>
<text x="491.00" y="220.20" font-size="7.2" text-anchor="middle" fill="#222" stroke="#222" stroke-width="0.1">19.3%</text>
<path d="M573.40,277.60 L573.40,276.94 L573.82,276.94 L574.24,276.94 L574.66,276.94 L575.08,276.94 L575.50,276.94 L575.92,276.94 L576.34,276.94 L576.76,276.94 L577.18,276.94 L577.60,276.94 L578.02,276.94 L578.44,276.94 L578.86,276.94 L579.28,276.94 L579.70,276.94 L580.12,276.94 L580.54,276.94 L580.96,276.94 L581.38,276.94 L581.80,276.94 L582.22,276.94 L582.64,276.94 L583.06,276.94 L583.48,276.94 L583.90,276.94 L584.32,276.94 L584.74,276.94 L585.16,276.94 L585.58,276.94 L586.00,276.94 L586.42,276.94 L586.84,276.94 L587.26,276.94 L587.68,276.94 L588.10,276.94 L588.52,276.94 L588.94,276.94 L589.36,276.94 L589.78,276.94 L590.20,276.94 L590.62,276.72 L591.04,276.51 L591.46,276.30 L591.88,276.08 L592.30,275.38 L592.72,273.81 L593.14,271.40 L593.56,267.88 L593.98,262.98 L594.40,256.51 L594.82,248.42 L595.24,238.86 L595.66,228.28 L596.08,217.32 L596.50,206.56 L596.92,195.79 L597.34,184.82 L597.76,177.49 L598.18,179.80 L598.60,190.60 L599.02,203.52 L599.44,216.26 L599.86,228.87 L600.28,240.83 L600.70,251.30 L601.12,259.79 L601.54,266.17 L601.96,270.65 L602.38,271.64 L602.80,271.68 L603.22,271.49 L603.64,272.03 L604.06,269.27 L604.48,268.21 L604.90,267.19 L605.32,268.20 L605.74,267.95 L606.16,265.94 L606.58,263.92 L607.00,265.31 L607.42,263.48 L607.84,263.39 L608.26,260.45 L608.68,259.23 L609.10,260.56 L609.52,257.35 L609.94,261.42 L610.36,258.76 L610.78,258.84 L611.20,262.06 L611.62,260.18 L612.04,261.10 L612.46,259.85 L612.88,262.24 L613.30,260.34 L613.72,258.40 L614.14,258.79 L614.56,259.52 L614.98,259.84 L615.40,255.84 L615.82,257.12 L616.24,254.37 L616.66,257.12 L617.08,253.78 L617.50,253.11 L617.92,250.69 L618.34,252.30 L618.76,248.89 L619.18,251.61 L619.60,250.26 L620.02,253.28 L620.44,249.21 L620.86,249.88 L621.28,246.63 L621.70,249.57 L622.12,255.40 L622.54,257.45 L622.96,258.35 L623.38,262.55 L623.80,265.71 L624.22,268.57 L624.64,268.79 L625.06,272.88 L625.48,274.28 L625.90,274.74 L626.32,275.21 L626.74,275.67 L627.16,276.14 L627.58,276.60 L628.00,276.63 L628.42,276.66 L628.84,276.69 L629.26,276.72 L629.68,276.75 L630.10,276.79 L630.52,276.82 L630.94,276.85 L631.36,276.88 L631.78,276.91 L632.20,276.94 L632.62,276.94 L633.04,276.94 L633.46,276.94 L633.88,276.94 L634.30,276.94 L634.72,276.94 L635.14,276.94 L635.56,276.94 L635.98,276.94 L636.40,276.94 L636.82,276.94 L637.24,276.94 L637.66,276.94 L638.08,276.94 L638.50,276.94 L638.92,276.94 L639.34,276.94 L639.76,276.94 L640.18,276.94 L640.60,276.94 L641.02,276.94 L641.44,276.94 L641.86,276.94 L642.28,276.94 L642.70,276.94 L643.12,276.94 L643.54,276.94 L643.96,276.94 L644.38,276.94 L644.80,276.94 L645.22,276.94 L645.64,276.94 L646.06,276.94 L646.48,276.94 L646.90,276.94 L647.32,276.94 L647.74,276.94 L648.16,276.94 L648.58,276.94 L649.00,276.94 L649.42,276.94 L649.84,276.94 L650.26,276.94 L650.68,276.94 L651.10,276.94 L651.52,276.94 L651.94,276.94 L652.36,276.94 L652.78,276.94 L653.20,276.94 L653.62,276.94 L654.04,276.94 L654.46,276.94 L654.88,276.94 L655.30,276.94 L655.72,276.94 L656.14,276.94 L656.56,276.94 L656.98,276.94 L657.40,276.94 L657.82,276.80 L658.24,276.67 L658.66,276.54 L659.08,276.40 L659.50,276.27 L659.92,276.40 L660.34,276.54 L660.76,276.67 L661.18,276.80 L661.60,276.94 L662.02,276.94 L662.44,276.94 L662.86,276.94 L663.28,276.94 L663.70,276.94 L664.12,276.94 L664.54,276.94 L664.96,276.94 L665.38,276.94 L665.80,276.94 L666.22,276.94 L666.64,276.94 L667.06,276.94 L667.48,276.94 L667.90,276.94 L668.32,276.94 L668.74,276.94 L669.16,276.94 L669.58,276.94 L670.00,276.94 L670.42,276.94 L670.84,276.94 L671.26,276.94 L671.68,276.94 L672.10,276.94 L672.52,276.94 L672.94,276.94 L673.36,276.94 L673.78,276.94 L674.20,276.94 L674.62,276.94 L675.04,276.94 L675.46,276.94 L675.88,276.94 L676.30,276.94 L676.72,276.94 L677.14,276.94 L677.56,276.94 L677.98,276.94 L678.40,276.94 L678.82,276.94 L679.24,276.94 L679.40,276.94 L679.40,277.60 Z" fill="#9a9a9a" stroke="none"/>
<path d="M573.40,276.94 L573.82,276.94 L574.24,276.94 L574.66,276.94 L575.08,276.94 L575.50,276.94 L575.92,276.94 L576.34,276.94 L576.76,276.94 L577.18,276.94 L577.60,276.94 L578.02,276.94 L578.44,276.94 L578.86,276.94 L579.28,276.94 L579.70,276.94 L580.12,276.94 L580.54,276.94 L580.96,276.94 L581.38,276.94 L581.80,276.94 L582.22,276.94 L582.64,276.94 L583.06,276.94 L583.48,276.94 L583.90,276.94 L584.32,276.94 L584.74,276.94 L585.16,276.94 L585.58,276.94 L586.00,276.94 L586.42,276.94 L586.84,276.94 L587.26,276.94 L587.68,276.94 L588.10,276.94 L588.52,276.94 L588.94,276.94 L589.36,276.94 L589.78,276.94 L590.20,276.94 L590.62,276.72 L591.04,276.51 L591.46,276.30 L591.88,276.08 L592.30,275.38 L592.72,273.81 L593.14,271.40 L593.56,267.88 L593.98,262.98 L594.40,256.51 L594.82,248.42 L595.24,238.86 L595.66,228.28 L596.08,217.32 L596.50,206.56 L596.92,195.79 L597.34,184.82 L597.76,177.49 L598.18,179.80 L598.60,190.60 L599.02,203.52 L599.44,216.26 L599.86,228.87 L600.28,240.83 L600.70,251.30 L601.12,259.79 L601.54,266.17 L601.96,270.65 L602.38,271.64 L602.80,271.68 L603.22,271.49 L603.64,272.03 L604.06,269.27 L604.48,268.21 L604.90,267.19 L605.32,268.20 L605.74,267.95 L606.16,265.94 L606.58,263.92 L607.00,265.31 L607.42,263.48 L607.84,263.39 L608.26,260.45 L608.68,259.23 L609.10,260.56 L609.52,257.35 L609.94,261.42 L610.36,258.76 L610.78,258.84 L611.20,262.06 L611.62,260.18 L612.04,261.10 L612.46,259.85 L612.88,262.24 L613.30,260.34 L613.72,258.40 L614.14,258.79 L614.56,259.52 L614.98,259.84 L615.40,255.84 L615.82,257.12 L616.24,254.37 L616.66,257.12 L617.08,253.78 L617.50,253.11 L617.92,250.69 L618.34,252.30 L618.76,248.89 L619.18,251.61 L619.60,250.26 L620.02,253.28 L620.44,249.21 L620.86,249.88 L621.28,246.63 L621.70,249.57 L622.12,255.40 L622.54,257.45 L622.96,258.35 L623.38,262.55 L623.80,265.71 L624.22,268.57 L624.64,268.79 L625.06,272.88 L625.48,274.28 L625.90,274.74 L626.32,275.21 L626.74,275.67 L627.16,276.14 L627.58,276.60 L628.00,276.63 L628.42,276.66 L628.84,276.69 L629.26,276.72 L629.68,276.75 L630.10,276.79 L630.52,276.82 L630.94,276.85 L631.36,276.88 L631.78,276.91 L632.20,276.94 L632.62,276.94 L633.04,276.94 L633.46,276.94 L633.88,276.94 L634.30,276.94 L634.72,276.94 L635.14,276.94 L635.56,276.94 L635.98,276.94 L636.40,276.94 L636.82,276.94 L637.24,276.94 L637.66,276.94 L638.08,276.94 L638.50,276.94 L638.92,276.94 L639.34,276.94 L639.76,276.94 L640.18,276.94 L640.60,276.94 L641.02,276.94 L641.44,276.94 L641.86,276.94 L642.28,276.94 L642.70,276.94 L643.12,276.94 L643.54,276.94 L643.96,276.94 L644.38,276.94 L644.80,276.94 L645.22,276.94 L645.64,276.94 L646.06,276.94 L646.48,276.94 L646.90,276.94 L647.32,276.94 L647.74,276.94 L648.16,276.94 L648.58,276.94 L649.00,276.94 L649.42,276.94 L649.84,276.94 L650.26,276.94 L650.68,276.94 L651.10,276.94 L651.52,276.94 L651.94,276.94 L652.36,276.94 L652.78,276.94 L653.20,276.94 L653.62,276.94 L654.04,276.94 L654.46,276.94 L654.88,276.94 L655.30,276.94 L655.72,276.94 L656.14,276.94 L656.56,276.94 L656.98,276.94 L657.40,276.94 L657.82,276.80 L658.24,276.67 L658.66,276.54 L659.08,276.40 L659.50,276.27 L659.92,276.40 L660.34,276.54 L660.76,276.67 L661.18,276.80 L661.60,276.94 L662.02,276.94 L662.44,276.94 L662.86,276.94 L663.28,276.94 L663.70,276.94 L664.12,276.94 L664.54,276.94 L664.96,276.94 L665.38,276.94 L665.80,276.94 L666.22,276.94 L666.64,276.94 L667.06,276.94 L667.48,276.94 L667.90,276.94 L668.32,276.94 L668.74,276.94 L669.16,276.94 L669.58,276.94 L670.00,276.94 L670.42,276.94 L670.84,276.94 L671.26,276.94 L671.68,276.94 L672.10,276.94 L672.52,276.94 L672.94,276.94 L673.36,276.94 L673.78,276.94 L674.20,276.94 L674.62,276.94 L675.04,276.94 L675.46,276.94 L675.88,276.94 L676.30,276.94 L676.72,276.94 L677.14,276.94 L677.56,276.94 L677.98,276.94 L678.40,276.94 L678.82,276.94 L679.24,276.94 L679.40,276.94" fill="none" stroke="#111" stroke-width="0.85" stroke-linejoin="round"/>
<path d="M573.00,171.40 L679.40,171.40 L679.40,277.60" fill="none" stroke="#999" stroke-width="0.9"/>
<line x1="573.00" y1="171.40" x2="573.00" y2="278.00" stroke="#666" stroke-width="0.8"/>
<line x1="572.60" y1="277.60" x2="679.40" y2="277.60" stroke="#444" stroke-width="0.8"/>
<line x1="570.20" y1="277.60" x2="573.00" y2="277.60" stroke="#333" stroke-width="0.6"/>
<text x="568.80" y="280.00" font-size="7.0" text-anchor="end" fill="#222" stroke="#222" stroke-width="0.1">0</text>
<line x1="570.20" y1="244.40" x2="573.00" y2="244.40" stroke="#333" stroke-width="0.6"/>
<text x="568.80" y="246.80" font-size="7.0" text-anchor="end" fill="#222" stroke="#222" stroke-width="0.1">100</text>
<line x1="570.20" y1="211.20" x2="573.00" y2="211.20" stroke="#333" stroke-width="0.6"/>
<text x="568.80" y="213.60" font-size="7.0" text-anchor="end" fill="#222" stroke="#222" stroke-width="0.1">200</text>
<line x1="570.20" y1="178.00" x2="573.00" y2="178.00" stroke="#333" stroke-width="0.6"/>
<text x="568.80" y="180.40" font-size="7.0" text-anchor="end" fill="#222" stroke="#222" stroke-width="0.1">300</text>
<line x1="571.50" y1="269.30" x2="573.00" y2="269.30" stroke="#333" stroke-width="0.6"/>
<line x1="571.50" y1="261.00" x2="573.00" y2="261.00" stroke="#333" stroke-width="0.6"/>
<line x1="571.50" y1="252.70" x2="573.00" y2="252.70" stroke="#333" stroke-width="0.6"/>
<line x1="571.50" y1="244.40" x2="573.00" y2="244.40" stroke="#333" stroke-width="0.6"/>
<line x1="571.50" y1="236.10" x2="573.00" y2="236.10" stroke="#333" stroke-width="0.6"/>
<line x1="571.50" y1="227.80" x2="573.00" y2="227.80" stroke="#333" stroke-width="0.6"/>
<line x1="571.50" y1="219.50" x2="573.00" y2="219.50" stroke="#333" stroke-width="0.6"/>
<line x1="571.50" y1="211.20" x2="573.00" y2="211.20" stroke="#333" stroke-width="0.6"/>
<line x1="571.50" y1="202.90" x2="573.00" y2="202.90" stroke="#333" stroke-width="0.6"/>
<line x1="571.50" y1="194.60" x2="573.00" y2="194.60" stroke="#333" stroke-width="0.6"/>
<line x1="571.50" y1="186.30" x2="573.00" y2="186.30" stroke="#333" stroke-width="0.6"/>
<line x1="571.50" y1="178.00" x2="573.00" y2="178.00" stroke="#333" stroke-width="0.6"/>
<line x1="573.40" y1="277.60" x2="573.40" y2="280.40" stroke="#333" stroke-width="0.6"/>
<text x="573.40" y="287.90" font-size="7.0" text-anchor="middle" fill="#222" stroke="#222" stroke-width="0.1">0</text>
<line x1="593.60" y1="277.60" x2="593.60" y2="280.40" stroke="#333" stroke-width="0.6"/>
<text x="593.60" y="287.90" font-size="7.0" text-anchor="middle" fill="#222" stroke="#222" stroke-width="0.1">50K</text>
<line x1="613.80" y1="277.60" x2="613.80" y2="280.40" stroke="#333" stroke-width="0.6"/>
<text x="613.80" y="287.90" font-size="7.0" text-anchor="middle" fill="#222" stroke="#222" stroke-width="0.1">100K</text>
<line x1="634.00" y1="277.60" x2="634.00" y2="280.40" stroke="#333" stroke-width="0.6"/>
<text x="634.00" y="287.90" font-size="7.0" text-anchor="middle" fill="#222" stroke="#222" stroke-width="0.1">150K</text>
<line x1="654.20" y1="277.60" x2="654.20" y2="280.40" stroke="#333" stroke-width="0.6"/>
<text x="654.20" y="287.90" font-size="7.0" text-anchor="middle" fill="#222" stroke="#222" stroke-width="0.1">200K</text>
<line x1="674.40" y1="277.60" x2="674.40" y2="280.40" stroke="#333" stroke-width="0.6"/>
<text x="674.40" y="287.90" font-size="7.0" text-anchor="middle" fill="#222" stroke="#222" stroke-width="0.1">250K</text>
<line x1="577.44" y1="277.60" x2="577.44" y2="279.10" stroke="#333" stroke-width="0.6"/>
<line x1="581.48" y1="277.60" x2="581.48" y2="279.10" stroke="#333" stroke-width="0.6"/>
<line x1="585.52" y1="277.60" x2="585.52" y2="279.10" stroke="#333" stroke-width="0.6"/>
<line x1="589.56" y1="277.60" x2="589.56" y2="279.10" stroke="#333" stroke-width="0.6"/>
<line x1="593.60" y1="277.60" x2="593.60" y2="279.10" stroke="#333" stroke-width="0.6"/>
<line x1="597.64" y1="277.60" x2="597.64" y2="279.10" stroke="#333" stroke-width="0.6"/>
<line x1="601.68" y1="277.60" x2="601.68" y2="279.10" stroke="#333" stroke-width="0.6"/>
<line x1="605.72" y1="277.60" x2="605.72" y2="279.10" stroke="#333" stroke-width="0.6"/>
<line x1="609.76" y1="277.60" x2="609.76" y2="279.10" stroke="#333" stroke-width="0.6"/>
<line x1="613.80" y1="277.60" x2="613.80" y2="279.10" stroke="#333" stroke-width="0.6"/>
<line x1="617.84" y1="277.60" x2="617.84" y2="279.10" stroke="#333" stroke-width="0.6"/>
<line x1="621.88" y1="277.60" x2="621.88" y2="279.10" stroke="#333" stroke-width="0.6"/>
<line x1="625.92" y1="277.60" x2="625.92" y2="279.10" stroke="#333" stroke-width="0.6"/>
<line x1="629.96" y1="277.60" x2="629.96" y2="279.10" stroke="#333" stroke-width="0.6"/>
<line x1="634.00" y1="277.60" x2="634.00" y2="279.10" stroke="#333" stroke-width="0.6"/>
<line x1="638.04" y1="277.60" x2="638.04" y2="279.10" stroke="#333" stroke-width="0.6"/>
<line x1="642.08" y1="277.60" x2="642.08" y2="279.10" stroke="#333" stroke-width="0.6"/>
<line x1="646.12" y1="277.60" x2="646.12" y2="279.10" stroke="#333" stroke-width="0.6"/>
<line x1="650.16" y1="277.60" x2="650.16" y2="279.10" stroke="#333" stroke-width="0.6"/>
<line x1="654.20" y1="277.60" x2="654.20" y2="279.10" stroke="#333" stroke-width="0.6"/>
<line x1="658.24" y1="277.60" x2="658.24" y2="279.10" stroke="#333" stroke-width="0.6"/>
<line x1="662.28" y1="277.60" x2="662.28" y2="279.10" stroke="#333" stroke-width="0.6"/>
<line x1="666.32" y1="277.60" x2="666.32" y2="279.10" stroke="#333" stroke-width="0.6"/>
<line x1="670.36" y1="277.60" x2="670.36" y2="279.10" stroke="#333" stroke-width="0.6"/>
<line x1="674.40" y1="277.60" x2="674.40" y2="279.10" stroke="#333" stroke-width="0.6"/>
<line x1="678.44" y1="277.60" x2="678.44" y2="279.10" stroke="#333" stroke-width="0.6"/>
<text x="626.20" y="297.00" font-size="7.3" text-anchor="middle" fill="#222" stroke="#222" stroke-width="0.1">DAPI-A :: DNA</text>
<text x="554.00" y="225.00" font-size="7.0" text-anchor="middle" fill="#222" stroke="#222" stroke-width="0.1" transform="rotate(-90 554.00 225.00)">Count</text>
<line x1="603.40" y1="196.60" x2="616.60" y2="196.60" stroke="#333" stroke-width="0.8"/>
<line x1="603.40" y1="194.90" x2="603.40" y2="198.30" stroke="#333" stroke-width="0.8"/>
<line x1="616.60" y1="194.90" x2="616.60" y2="198.30" stroke="#333" stroke-width="0.8"/>
<text x="610.00" y="185.00" font-size="7.2" text-anchor="middle" fill="#222" stroke="#222" stroke-width="0.1">S</text>
<text x="610.00" y="191.60" font-size="7.2" text-anchor="middle" fill="#222" stroke="#222" stroke-width="0.1">21.6%</text>
<line x1="589.00" y1="222.40" x2="603.40" y2="222.40" stroke="#333" stroke-width="0.8"/>
<line x1="589.00" y1="220.70" x2="589.00" y2="224.10" stroke="#333" stroke-width="0.8"/>
<line x1="603.40" y1="220.70" x2="603.40" y2="224.10" stroke="#333" stroke-width="0.8"/>
<text x="596.00" y="211.60" font-size="7.2" text-anchor="middle" fill="#222" stroke="#222" stroke-width="0.1">G1</text>
<text x="596.00" y="218.60" font-size="7.2" text-anchor="middle" fill="#222" stroke="#222" stroke-width="0.1">51.2%</text>
<line x1="616.60" y1="225.00" x2="636.00" y2="225.00" stroke="#333" stroke-width="0.8"/>
<line x1="616.60" y1="223.30" x2="616.60" y2="226.70" stroke="#333" stroke-width="0.8"/>
<line x1="636.00" y1="223.30" x2="636.00" y2="226.70" stroke="#333" stroke-width="0.8"/>
<text x="626.40" y="213.00" font-size="7.2" text-anchor="middle" fill="#222" stroke="#222" stroke-width="0.1">G2_M</text>
<text x="626.40" y="220.20" font-size="7.2" text-anchor="middle" fill="#222" stroke="#222" stroke-width="0.1">24.8%</text>
<path d="M57.40,450.00 L57.40,449.57 L57.82,449.57 L58.23,449.57 L58.65,449.57 L59.07,449.57 L59.48,449.57 L59.90,449.57 L60.32,449.57 L60.74,449.57 L61.15,449.57 L61.57,449.57 L61.99,449.57 L62.40,449.57 L62.82,449.57 L63.24,449.57 L63.66,449.57 L64.07,449.57 L64.49,449.57 L64.91,449.57 L65.32,449.57 L65.74,449.57 L66.16,449.57 L66.57,449.57 L66.99,449.57 L67.41,449.57 L67.83,449.57 L68.24,449.57 L68.66,449.57 L69.08,449.57 L69.49,449.57 L69.91,449.57 L70.33,449.57 L70.74,449.57 L71.16,449.57 L71.58,449.57 L72.00,449.57 L72.41,449.57 L72.83,449.57 L73.25,449.57 L73.66,449.57 L74.08,449.57 L74.50,449.57 L74.91,449.57 L75.33,449.57 L75.75,449.57 L76.16,449.57 L76.58,449.57 L77.00,449.57 L77.42,449.57 L77.83,449.57 L78.25,449.57 L78.67,449.57 L79.08,449.57 L79.50,449.57 L79.92,449.57 L80.33,449.57 L80.75,449.57 L81.17,449.57 L81.59,449.57 L82.00,449.57 L82.42,449.53 L82.84,449.05 L83.25,448.44 L83.67,447.33 L84.09,445.59 L84.50,443.01 L84.92,439.32 L85.34,434.32 L85.76,427.84 L86.17,419.85 L86.59,410.54 L87.01,400.31 L87.42,389.74 L87.84,379.44 L88.26,369.27 L88.67,358.65 L89.09,350.28 L89.51,350.46 L89.93,360.13 L90.34,373.03 L90.76,385.85 L91.18,398.56 L91.59,410.77 L92.01,421.64 L92.43,430.58 L92.84,436.40 L93.26,435.38 L93.68,435.78 L94.10,437.21 L94.51,437.93 L94.93,438.95 L95.35,437.49 L95.76,439.67 L96.18,440.28 L96.60,440.18 L97.01,440.39 L97.43,440.42 L97.85,440.80 L98.27,441.46 L98.68,441.07 L99.10,441.32 L99.52,440.82 L99.93,442.06 L100.35,442.63 L100.77,442.38 L101.19,441.55 L101.60,442.09 L102.02,441.24 L102.44,441.16 L102.85,442.36 L103.27,443.35 L103.69,441.71 L104.10,441.75 L104.52,442.86 L104.94,442.25 L105.35,443.36 L105.77,441.76 L106.19,442.10 L106.61,442.33 L107.02,441.99 L107.44,444.11 L107.86,443.43 L108.27,443.10 L108.69,443.09 L109.11,444.42 L109.53,445.31 L109.94,444.14 L110.36,445.77 L110.78,444.32 L111.19,445.73 L111.61,443.97 L112.03,443.40 L112.44,443.89 L112.86,442.38 L113.28,441.81 L113.69,441.67 L114.11,439.70 L114.53,439.46 L114.95,439.07 L115.36,440.54 L115.78,440.83 L116.20,439.54 L116.61,439.95 L117.03,437.71 L117.45,438.35 L117.86,438.14 L118.28,437.12 L118.70,437.47 L119.12,437.23 L119.53,438.68 L119.95,439.81 L120.37,439.45 L120.78,442.19 L121.20,442.72 L121.62,442.37 L122.03,443.18 L122.45,445.93 L122.87,446.60 L123.29,446.35 L123.70,446.88 L124.12,447.86 L124.54,448.23 L124.95,448.61 L125.37,448.98 L125.79,449.36 L126.20,449.39 L126.62,449.43 L127.04,449.46 L127.46,449.50 L127.87,449.54 L128.29,449.57 L128.71,449.57 L129.12,449.57 L129.54,449.57 L129.96,449.57 L130.38,449.57 L130.79,449.57 L131.21,449.57 L131.63,449.57 L132.04,449.57 L132.46,449.57 L132.88,449.57 L133.29,449.57 L133.71,449.57 L134.13,449.57 L134.54,449.57 L134.96,449.57 L135.38,449.57 L135.80,449.57 L136.21,449.57 L136.63,449.57 L137.05,449.57 L137.46,449.57 L137.88,449.57 L138.30,449.57 L138.72,449.57 L139.13,449.57 L139.55,449.57 L139.97,449.57 L140.38,449.57 L140.80,449.57 L141.22,449.57 L141.63,449.57 L142.05,449.57 L142.47,449.57 L142.88,449.57 L143.30,449.57 L143.72,449.57 L144.14,449.57 L144.55,449.57 L144.97,449.57 L145.39,449.57 L145.80,449.57 L146.22,449.57 L146.64,449.57 L147.06,449.57 L147.47,449.57 L147.89,449.57 L148.31,449.57 L148.72,449.57 L149.14,449.57 L149.56,449.57 L149.97,449.57 L150.39,449.57 L150.81,449.57 L151.22,449.57 L151.64,449.57 L152.06,449.57 L152.48,449.57 L152.89,449.57 L153.31,449.57 L153.73,449.57 L154.14,449.57 L154.56,449.57 L154.98,449.57 L155.39,449.57 L155.81,449.57 L156.23,449.57 L156.65,449.57 L157.06,449.57 L157.48,449.57 L157.90,449.57 L158.31,449.57 L158.73,449.57 L159.15,449.57 L159.56,449.57 L159.98,449.57 L160.40,449.57 L160.82,449.57 L161.23,449.57 L161.65,449.57 L162.07,449.57 L162.48,449.57 L162.90,449.57 L163.32,449.57 L163.60,449.57 L163.60,450.00 Z" fill="#9a9a9a" stroke="none"/>
<path d="M57.40,449.57 L57.82,449.57 L58.23,449.57 L58.65,449.57 L59.07,449.57 L59.48,449.57 L59.90,449.57 L60.32,449.57 L60.74,449.57 L61.15,449.57 L61.57,449.57 L61.99,449.57 L62.40,449.57 L62.82,449.57 L63.24,449.57 L63.66,449.57 L64.07,449.57 L64.49,449.57 L64.91,449.57 L65.32,449.57 L65.74,449.57 L66.16,449.57 L66.57,449.57 L66.99,449.57 L67.41,449.57 L67.83,449.57 L68.24,449.57 L68.66,449.57 L69.08,449.57 L69.49,449.57 L69.91,449.57 L70.33,449.57 L70.74,449.57 L71.16,449.57 L71.58,449.57 L72.00,449.57 L72.41,449.57 L72.83,449.57 L73.25,449.57 L73.66,449.57 L74.08,449.57 L74.50,449.57 L74.91,449.57 L75.33,449.57 L75.75,449.57 L76.16,449.57 L76.58,449.57 L77.00,449.57 L77.42,449.57 L77.83,449.57 L78.25,449.57 L78.67,449.57 L79.08,449.57 L79.50,449.57 L79.92,449.57 L80.33,449.57 L80.75,449.57 L81.17,449.57 L81.59,449.57 L82.00,449.57 L82.42,449.53 L82.84,449.05 L83.25,448.44 L83.67,447.33 L84.09,445.59 L84.50,443.01 L84.92,439.32 L85.34,434.32 L85.76,427.84 L86.17,419.85 L86.59,410.54 L87.01,400.31 L87.42,389.74 L87.84,379.44 L88.26,369.27 L88.67,358.65 L89.09,350.28 L89.51,350.46 L89.93,360.13 L90.34,373.03 L90.76,385.85 L91.18,398.56 L91.59,410.77 L92.01,421.64 L92.43,430.58 L92.84,436.40 L93.26,435.38 L93.68,435.78 L94.10,437.21 L94.51,437.93 L94.93,438.95 L95.35,437.49 L95.76,439.67 L96.18,440.28 L96.60,440.18 L97.01,440.39 L97.43,440.42 L97.85,440.80 L98.27,441.46 L98.68,441.07 L99.10,441.32 L99.52,440.82 L99.93,442.06 L100.35,442.63 L100.77,442.38 L101.19,441.55 L101.60,442.09 L102.02,441.24 L102.44,441.16 L102.85,442.36 L103.27,443.35 L103.69,441.71 L104.10,441.75 L104.52,442.86 L104.94,442.25 L105.35,443.36 L105.77,441.76 L106.19,442.10 L106.61,442.33 L107.02,441.99 L107.44,444.11 L107.86,443.43 L108.27,443.10 L108.69,443.09 L109.11,444.42 L109.53,445.31 L109.94,444.14 L110.36,445.77 L110.78,444.32 L111.19,445.73 L111.61,443.97 L112.03,443.40 L112.44,443.89 L112.86,442.38 L113.28,441.81 L113.69,441.67 L114.11,439.70 L114.53,439.46 L114.95,439.07 L115.36,440.54 L115.78,440.83 L116.20,439.54 L116.61,439.95 L117.03,437.71 L117.45,438.35 L117.86,438.14 L118.28,437.12 L118.70,437.47 L119.12,437.23 L119.53,438.68 L119.95,439.81 L120.37,439.45 L120.78,442.19 L121.20,442.72 L121.62,442.37 L122.03,443.18 L122.45,445.93 L122.87,446.60 L123.29,446.35 L123.70,446.88 L124.12,447.86 L124.54,448.23 L124.95,448.61 L125.37,448.98 L125.79,449.36 L126.20,449.39 L126.62,449.43 L127.04,449.46 L127.46,449.50 L127.87,449.54 L128.29,449.57 L128.71,449.57 L129.12,449.57 L129.54,449.57 L129.96,449.57 L130.38,449.57 L130.79,449.57 L131.21,449.57 L131.63,449.57 L132.04,449.57 L132.46,449.57 L132.88,449.57 L133.29,449.57 L133.71,449.57 L134.13,449.57 L134.54,449.57 L134.96,449.57 L135.38,449.57 L135.80,449.57 L136.21,449.57 L136.63,449.57 L137.05,449.57 L137.46,449.57 L137.88,449.57 L138.30,449.57 L138.72,449.57 L139.13,449.57 L139.55,449.57 L139.97,449.57 L140.38,449.57 L140.80,449.57 L141.22,449.57 L141.63,449.57 L142.05,449.57 L142.47,449.57 L142.88,449.57 L143.30,449.57 L143.72,449.57 L144.14,449.57 L144.55,449.57 L144.97,449.57 L145.39,449.57 L145.80,449.57 L146.22,449.57 L146.64,449.57 L147.06,449.57 L147.47,449.57 L147.89,449.57 L148.31,449.57 L148.72,449.57 L149.14,449.57 L149.56,449.57 L149.97,449.57 L150.39,449.57 L150.81,449.57 L151.22,449.57 L151.64,449.57 L152.06,449.57 L152.48,449.57 L152.89,449.57 L153.31,449.57 L153.73,449.57 L154.14,449.57 L154.56,449.57 L154.98,449.57 L155.39,449.57 L155.81,449.57 L156.23,449.57 L156.65,449.57 L157.06,449.57 L157.48,449.57 L157.90,449.57 L158.31,449.57 L158.73,449.57 L159.15,449.57 L159.56,449.57 L159.98,449.57 L160.40,449.57 L160.82,449.57 L161.23,449.57 L161.65,449.57 L162.07,449.57 L162.48,449.57 L162.90,449.57 L163.32,449.57 L163.60,449.57" fill="none" stroke="#111" stroke-width="0.85" stroke-linejoin="round"/>
<path d="M57.40,344.40 L163.60,344.40 L163.60,450.00" fill="none" stroke="#aaa" stroke-width="0.9"/>
<line x1="57.40" y1="344.40" x2="57.40" y2="450.40" stroke="#666" stroke-width="0.8"/>
<line x1="57.00" y1="450.00" x2="163.60" y2="450.00" stroke="#444" stroke-width="0.8"/>
<line x1="54.60" y1="450.00" x2="57.40" y2="450.00" stroke="#333" stroke-width="0.6"/>
<text x="53.20" y="452.40" font-size="7.0" text-anchor="end" fill="#222" stroke="#222" stroke-width="0.1">0</text>
<line x1="54.60" y1="428.60" x2="57.40" y2="428.60" stroke="#333" stroke-width="0.6"/>
<text x="53.20" y="431.00" font-size="7.0" text-anchor="end" fill="#222" stroke="#222" stroke-width="0.1">100</text>
<line x1="54.60" y1="407.20" x2="57.40" y2="407.20" stroke="#333" stroke-width="0.6"/>
<text x="53.20" y="409.60" font-size="7.0" text-anchor="end" fill="#222" stroke="#222" stroke-width="0.1">200</text>
<line x1="54.60" y1="385.80" x2="57.40" y2="385.80" stroke="#333" stroke-width="0.6"/>
<text x="53.20" y="388.20" font-size="7.0" text-anchor="end" fill="#222" stroke="#222" stroke-width="0.1">300</text>
<line x1="54.60" y1="364.40" x2="57.40" y2="364.40" stroke="#333" stroke-width="0.6"/>
<text x="53.20" y="366.80" font-size="7.0" text-anchor="end" fill="#222" stroke="#222" stroke-width="0.1">400</text>
<line x1="55.90" y1="444.65" x2="57.40" y2="444.65" stroke="#333" stroke-width="0.6"/>
<line x1="55.90" y1="439.30" x2="57.40" y2="439.30" stroke="#333" stroke-width="0.6"/>
<line x1="55.90" y1="433.95" x2="57.40" y2="433.95" stroke="#333" stroke-width="0.6"/>
<line x1="55.90" y1="428.60" x2="57.40" y2="428.60" stroke="#333" stroke-width="0.6"/>
<line x1="55.90" y1="423.25" x2="57.40" y2="423.25" stroke="#333" stroke-width="0.6"/>
<line x1="55.90" y1="417.90" x2="57.40" y2="417.90" stroke="#333" stroke-width="0.6"/>
<line x1="55.90" y1="412.55" x2="57.40" y2="412.55" stroke="#333" stroke-width="0.6"/>
<line x1="55.90" y1="407.20" x2="57.40" y2="407.20" stroke="#333" stroke-width="0.6"/>
<line x1="55.90" y1="401.85" x2="57.40" y2="401.85" stroke="#333" stroke-width="0.6"/>
<line x1="55.90" y1="396.50" x2="57.40" y2="396.50" stroke="#333" stroke-width="0.6"/>
<line x1="55.90" y1="391.15" x2="57.40" y2="391.15" stroke="#333" stroke-width="0.6"/>
<line x1="55.90" y1="385.80" x2="57.40" y2="385.80" stroke="#333" stroke-width="0.6"/>
<line x1="55.90" y1="380.45" x2="57.40" y2="380.45" stroke="#333" stroke-width="0.6"/>
<line x1="55.90" y1="375.10" x2="57.40" y2="375.10" stroke="#333" stroke-width="0.6"/>
<line x1="55.90" y1="369.75" x2="57.40" y2="369.75" stroke="#333" stroke-width="0.6"/>
<line x1="55.90" y1="364.40" x2="57.40" y2="364.40" stroke="#333" stroke-width="0.6"/>
<line x1="55.90" y1="359.05" x2="57.40" y2="359.05" stroke="#333" stroke-width="0.6"/>
<line x1="55.90" y1="353.70" x2="57.40" y2="353.70" stroke="#333" stroke-width="0.6"/>
<line x1="55.90" y1="348.35" x2="57.40" y2="348.35" stroke="#333" stroke-width="0.6"/>
<line x1="57.40" y1="450.00" x2="57.40" y2="452.80" stroke="#333" stroke-width="0.6"/>
<text x="57.40" y="460.30" font-size="7.0" text-anchor="middle" fill="#222" stroke="#222" stroke-width="0.1">0</text>
<line x1="77.50" y1="450.00" x2="77.50" y2="452.80" stroke="#333" stroke-width="0.6"/>
<text x="77.50" y="460.30" font-size="7.0" text-anchor="middle" fill="#222" stroke="#222" stroke-width="0.1">50K</text>
<line x1="97.60" y1="450.00" x2="97.60" y2="452.80" stroke="#333" stroke-width="0.6"/>
<text x="97.60" y="460.30" font-size="7.0" text-anchor="middle" fill="#222" stroke="#222" stroke-width="0.1">100K</text>
<line x1="117.70" y1="450.00" x2="117.70" y2="452.80" stroke="#333" stroke-width="0.6"/>
<text x="117.70" y="460.30" font-size="7.0" text-anchor="middle" fill="#222" stroke="#222" stroke-width="0.1">150K</text>
<line x1="137.80" y1="450.00" x2="137.80" y2="452.80" stroke="#333" stroke-width="0.6"/>
<text x="137.80" y="460.30" font-size="7.0" text-anchor="middle" fill="#222" stroke="#222" stroke-width="0.1">200K</text>
<line x1="157.90" y1="450.00" x2="157.90" y2="452.80" stroke="#333" stroke-width="0.6"/>
<text x="157.90" y="460.30" font-size="7.0" text-anchor="middle" fill="#222" stroke="#222" stroke-width="0.1">250K</text>
<line x1="61.42" y1="450.00" x2="61.42" y2="451.50" stroke="#333" stroke-width="0.6"/>
<line x1="65.44" y1="450.00" x2="65.44" y2="451.50" stroke="#333" stroke-width="0.6"/>
<line x1="69.46" y1="450.00" x2="69.46" y2="451.50" stroke="#333" stroke-width="0.6"/>
<line x1="73.48" y1="450.00" x2="73.48" y2="451.50" stroke="#333" stroke-width="0.6"/>
<line x1="77.50" y1="450.00" x2="77.50" y2="451.50" stroke="#333" stroke-width="0.6"/>
<line x1="81.52" y1="450.00" x2="81.52" y2="451.50" stroke="#333" stroke-width="0.6"/>
<line x1="85.54" y1="450.00" x2="85.54" y2="451.50" stroke="#333" stroke-width="0.6"/>
<line x1="89.56" y1="450.00" x2="89.56" y2="451.50" stroke="#333" stroke-width="0.6"/>
<line x1="93.58" y1="450.00" x2="93.58" y2="451.50" stroke="#333" stroke-width="0.6"/>
<line x1="97.60" y1="450.00" x2="97.60" y2="451.50" stroke="#333" stroke-width="0.6"/>
<line x1="101.62" y1="450.00" x2="101.62" y2="451.50" stroke="#333" stroke-width="0.6"/>
<line x1="105.64" y1="450.00" x2="105.64" y2="451.50" stroke="#333" stroke-width="0.6"/>
<line x1="109.66" y1="450.00" x2="109.66" y2="451.50" stroke="#333" stroke-width="0.6"/>
<line x1="113.68" y1="450.00" x2="113.68" y2="451.50" stroke="#333" stroke-width="0.6"/>
<line x1="117.70" y1="450.00" x2="117.70" y2="451.50" stroke="#333" stroke-width="0.6"/>
<line x1="121.72" y1="450.00" x2="121.72" y2="451.50" stroke="#333" stroke-width="0.6"/>
<line x1="125.74" y1="450.00" x2="125.74" y2="451.50" stroke="#333" stroke-width="0.6"/>
<line x1="129.76" y1="450.00" x2="129.76" y2="451.50" stroke="#333" stroke-width="0.6"/>
<line x1="133.78" y1="450.00" x2="133.78" y2="451.50" stroke="#333" stroke-width="0.6"/>
<line x1="137.80" y1="450.00" x2="137.80" y2="451.50" stroke="#333" stroke-width="0.6"/>
<line x1="141.82" y1="450.00" x2="141.82" y2="451.50" stroke="#333" stroke-width="0.6"/>
<line x1="145.84" y1="450.00" x2="145.84" y2="451.50" stroke="#333" stroke-width="0.6"/>
<line x1="149.86" y1="450.00" x2="149.86" y2="451.50" stroke="#333" stroke-width="0.6"/>
<line x1="153.88" y1="450.00" x2="153.88" y2="451.50" stroke="#333" stroke-width="0.6"/>
<line x1="157.90" y1="450.00" x2="157.90" y2="451.50" stroke="#333" stroke-width="0.6"/>
<line x1="161.92" y1="450.00" x2="161.92" y2="451.50" stroke="#333" stroke-width="0.6"/>
<text x="110.50" y="469.40" font-size="7.3" text-anchor="middle" fill="#222" stroke="#222" stroke-width="0.1">DAPI-A :: DNA</text>
<text x="35.50" y="400.00" font-size="7.0" text-anchor="middle" fill="#222" stroke="#222" stroke-width="0.1" transform="rotate(-90 35.50 400.00)">Count</text>
<line x1="95.00" y1="362.40" x2="111.60" y2="362.40" stroke="#333" stroke-width="0.8"/>
<line x1="95.00" y1="360.70" x2="95.00" y2="364.10" stroke="#333" stroke-width="0.8"/>
<line x1="111.60" y1="360.70" x2="111.60" y2="364.10" stroke="#333" stroke-width="0.8"/>
<text x="103.40" y="351.60" font-size="7.2" text-anchor="middle" fill="#222" stroke="#222" stroke-width="0.1">S</text>
<text x="103.40" y="359.20" font-size="7.2" text-anchor="middle" fill="#222" stroke="#222" stroke-width="0.1">17.7%</text>
<line x1="74.60" y1="374.40" x2="94.40" y2="374.40" stroke="#333" stroke-width="0.8"/>
<line x1="74.60" y1="372.70" x2="74.60" y2="376.10" stroke="#333" stroke-width="0.8"/>
<line x1="94.40" y1="372.70" x2="94.40" y2="376.10" stroke="#333" stroke-width="0.8"/>
<text x="84.00" y="363.00" font-size="7.2" text-anchor="middle" fill="#222" stroke="#222" stroke-width="0.1">G1</text>
<text x="84.00" y="371.60" font-size="7.2" text-anchor="middle" fill="#222" stroke="#222" stroke-width="0.1">66.0%</text>
<line x1="112.40" y1="395.60" x2="126.40" y2="395.60" stroke="#333" stroke-width="0.8"/>
<line x1="112.40" y1="393.90" x2="112.40" y2="397.30" stroke="#333" stroke-width="0.8"/>
<line x1="126.40" y1="393.90" x2="126.40" y2="397.30" stroke="#333" stroke-width="0.8"/>
<text x="119.40" y="384.00" font-size="7.2" text-anchor="middle" fill="#222" stroke="#222" stroke-width="0.1">G2_M</text>
<text x="119.40" y="392.20" font-size="7.2" text-anchor="middle" fill="#222" stroke="#222" stroke-width="0.1">14.3%</text>
<path d="M192.40,450.60 L192.40,450.20 L192.81,450.20 L193.23,450.20 L193.64,450.20 L194.05,450.20 L194.47,450.20 L194.88,450.20 L195.29,450.20 L195.70,450.20 L196.12,450.20 L196.53,450.20 L196.94,450.20 L197.36,450.20 L197.77,450.20 L198.18,450.20 L198.59,450.20 L199.01,450.20 L199.42,450.20 L199.83,450.20 L200.25,450.20 L200.66,450.20 L201.07,450.20 L201.49,450.20 L201.90,450.20 L202.31,450.20 L202.72,450.20 L203.14,450.20 L203.55,450.20 L203.96,450.20 L204.38,450.20 L204.79,450.20 L205.20,450.20 L205.62,450.20 L206.03,450.20 L206.44,450.20 L206.86,450.20 L207.27,450.20 L207.68,450.20 L208.09,450.20 L208.51,450.20 L208.92,450.20 L209.33,450.20 L209.75,450.20 L210.16,450.20 L210.57,450.20 L210.99,450.20 L211.40,450.20 L211.81,450.20 L212.22,450.20 L212.64,450.20 L213.05,450.20 L213.46,450.20 L213.88,450.20 L214.29,450.20 L214.70,449.95 L215.12,449.42 L215.53,448.55 L215.94,447.15 L216.35,445.02 L216.77,441.92 L217.18,437.60 L217.59,431.87 L218.01,424.63 L218.42,415.95 L218.83,406.11 L219.25,395.63 L219.66,385.14 L220.07,374.99 L220.48,364.58 L220.90,354.39 L221.31,349.60 L221.72,354.87 L222.14,366.37 L222.55,378.58 L222.96,390.62 L223.38,402.65 L223.79,414.06 L224.20,424.09 L224.61,432.30 L225.03,437.75 L225.44,439.09 L225.85,438.53 L226.27,439.26 L226.68,440.20 L227.09,441.39 L227.50,440.38 L227.92,440.61 L228.33,441.52 L228.74,441.80 L229.16,442.66 L229.57,443.43 L229.98,442.88 L230.40,442.67 L230.81,444.08 L231.22,442.74 L231.63,444.24 L232.05,444.50 L232.46,445.19 L232.87,443.18 L233.29,443.85 L233.70,443.65 L234.11,444.32 L234.53,445.71 L234.94,445.15 L235.35,444.88 L235.76,445.83 L236.18,444.08 L236.59,445.47 L237.00,446.04 L237.42,444.68 L237.83,446.31 L238.24,444.63 L238.66,445.56 L239.07,445.22 L239.48,445.57 L239.90,445.13 L240.31,445.67 L240.72,445.60 L241.13,443.37 L241.55,444.36 L241.96,442.75 L242.37,443.61 L242.79,441.73 L243.20,441.70 L243.61,441.80 L244.03,441.59 L244.44,441.79 L244.85,441.26 L245.26,442.40 L245.68,441.34 L246.09,440.28 L246.50,441.38 L246.92,439.50 L247.33,439.30 L247.74,439.82 L248.16,439.39 L248.57,438.66 L248.98,439.31 L249.39,438.46 L249.81,441.35 L250.22,443.68 L250.63,445.07 L251.05,444.83 L251.46,445.55 L251.87,447.59 L252.28,448.20 L252.70,448.79 L253.11,449.40 L253.52,450.00 L253.94,450.03 L254.35,450.05 L254.76,450.08 L255.18,450.11 L255.59,450.14 L256.00,450.17 L256.42,450.20 L256.83,450.20 L257.24,450.20 L257.65,450.20 L258.07,450.20 L258.48,450.20 L258.89,450.20 L259.31,450.20 L259.72,450.20 L260.13,450.20 L260.55,450.20 L260.96,450.20 L261.37,450.20 L261.78,450.20 L262.20,450.20 L262.61,450.20 L263.02,450.20 L263.44,450.20 L263.85,450.20 L264.26,450.20 L264.68,450.20 L265.09,450.20 L265.50,450.20 L265.91,450.20 L266.33,450.20 L266.74,450.20 L267.15,450.20 L267.57,450.20 L267.98,450.20 L268.39,450.20 L268.81,450.20 L269.22,450.20 L269.63,450.20 L270.04,450.20 L270.46,450.20 L270.87,450.20 L271.28,450.20 L271.70,450.20 L272.11,450.20 L272.52,450.20 L272.94,450.20 L273.35,450.20 L273.76,450.20 L274.17,450.20 L274.59,450.20 L275.00,450.20 L275.41,450.20 L275.83,450.20 L276.24,450.20 L276.65,450.20 L277.06,450.20 L277.48,450.20 L277.89,450.20 L278.30,450.20 L278.72,450.20 L279.13,450.20 L279.54,450.20 L279.96,450.20 L280.37,450.20 L280.78,450.20 L281.19,450.20 L281.61,450.20 L282.02,450.20 L282.43,450.20 L282.85,450.20 L283.26,450.20 L283.67,450.20 L284.09,450.20 L284.50,450.20 L284.91,450.20 L285.32,450.20 L285.74,450.20 L286.15,450.20 L286.56,450.20 L286.98,450.20 L287.39,450.20 L287.80,450.20 L288.22,450.20 L288.63,450.20 L289.04,450.20 L289.45,450.20 L289.87,450.20 L290.28,450.20 L290.69,450.20 L291.11,450.20 L291.52,450.20 L291.93,450.20 L292.35,450.20 L292.76,450.20 L293.17,450.20 L293.58,450.20 L294.00,450.20 L294.41,450.20 L294.82,450.20 L295.24,450.20 L295.65,450.20 L296.06,450.20 L296.48,450.20 L296.89,450.20 L297.30,450.20 L297.40,450.20 L297.40,450.60 Z" fill="#9a9a9a" stroke="none"/>
<path d="M192.40,450.20 L192.81,450.20 L193.23,450.20 L193.64,450.20 L194.05,450.20 L194.47,450.20 L194.88,450.20 L195.29,450.20 L195.70,450.20 L196.12,450.20 L196.53,450.20 L196.94,450.20 L197.36,450.20 L197.77,450.20 L198.18,450.20 L198.59,450.20 L199.01,450.20 L199.42,450.20 L199.83,450.20 L200.25,450.20 L200.66,450.20 L201.07,450.20 L201.49,450.20 L201.90,450.20 L202.31,450.20 L202.72,450.20 L203.14,450.20 L203.55,450.20 L203.96,450.20 L204.38,450.20 L204.79,450.20 L205.20,450.20 L205.62,450.20 L206.03,450.20 L206.44,450.20 L206.86,450.20 L207.27,450.20 L207.68,450.20 L208.09,450.20 L208.51,450.20 L208.92,450.20 L209.33,450.20 L209.75,450.20 L210.16,450.20 L210.57,450.20 L210.99,450.20 L211.40,450.20 L211.81,450.20 L212.22,450.20 L212.64,450.20 L213.05,450.20 L213.46,450.20 L213.88,450.20 L214.29,450.20 L214.70,449.95 L215.12,449.42 L215.53,448.55 L215.94,447.15 L216.35,445.02 L216.77,441.92 L217.18,437.60 L217.59,431.87 L218.01,424.63 L218.42,415.95 L218.83,406.11 L219.25,395.63 L219.66,385.14 L220.07,374.99 L220.48,364.58 L220.90,354.39 L221.31,349.60 L221.72,354.87 L222.14,366.37 L222.55,378.58 L222.96,390.62 L223.38,402.65 L223.79,414.06 L224.20,424.09 L224.61,432.30 L225.03,437.75 L225.44,439.09 L225.85,438.53 L226.27,439.26 L226.68,440.20 L227.09,441.39 L227.50,440.38 L227.92,440.61 L228.33,441.52 L228.74,441.80 L229.16,442.66 L229.57,443.43 L229.98,442.88 L230.40,442.67 L230.81,444.08 L231.22,442.74 L231.63,444.24 L232.05,444.50 L232.46,445.19 L232.87,443.18 L233.29,443.85 L233.70,443.65 L234.11,444.32 L234.53,445.71 L234.94,445.15 L235.35,444.88 L235.76,445.83 L236.18,444.08 L236.59,445.47 L237.00,446.04 L237.42,444.68 L237.83,446.31 L238.24,444.63 L238.66,445.56 L239.07,445.22 L239.48,445.57 L239.90,445.13 L240.31,445.67 L240.72,445.60 L241.13,443.37 L241.55,444.36 L241.96,442.75 L242.37,443.61 L242.79,441.73 L243.20,441.70 L243.61,441.80 L244.03,441.59 L244.44,441.79 L244.85,441.26 L245.26,442.40 L245.68,441.34 L246.09,440.28 L246.50,441.38 L246.92,439.50 L247.33,439.30 L247.74,439.82 L248.16,439.39 L248.57,438.66 L248.98,439.31 L249.39,438.46 L249.81,441.35 L250.22,443.68 L250.63,445.07 L251.05,444.83 L251.46,445.55 L251.87,447.59 L252.28,448.20 L252.70,448.79 L253.11,449.40 L253.52,450.00 L253.94,450.03 L254.35,450.05 L254.76,450.08 L255.18,450.11 L255.59,450.14 L256.00,450.17 L256.42,450.20 L256.83,450.20 L257.24,450.20 L257.65,450.20 L258.07,450.20 L258.48,450.20 L258.89,450.20 L259.31,450.20 L259.72,450.20 L260.13,450.20 L260.55,450.20 L260.96,450.20 L261.37,450.20 L261.78,450.20 L262.20,450.20 L262.61,450.20 L263.02,450.20 L263.44,450.20 L263.85,450.20 L264.26,450.20 L264.68,450.20 L265.09,450.20 L265.50,450.20 L265.91,450.20 L266.33,450.20 L266.74,450.20 L267.15,450.20 L267.57,450.20 L267.98,450.20 L268.39,450.20 L268.81,450.20 L269.22,450.20 L269.63,450.20 L270.04,450.20 L270.46,450.20 L270.87,450.20 L271.28,450.20 L271.70,450.20 L272.11,450.20 L272.52,450.20 L272.94,450.20 L273.35,450.20 L273.76,450.20 L274.17,450.20 L274.59,450.20 L275.00,450.20 L275.41,450.20 L275.83,450.20 L276.24,450.20 L276.65,450.20 L277.06,450.20 L277.48,450.20 L277.89,450.20 L278.30,450.20 L278.72,450.20 L279.13,450.20 L279.54,450.20 L279.96,450.20 L280.37,450.20 L280.78,450.20 L281.19,450.20 L281.61,450.20 L282.02,450.20 L282.43,450.20 L282.85,450.20 L283.26,450.20 L283.67,450.20 L284.09,450.20 L284.50,450.20 L284.91,450.20 L285.32,450.20 L285.74,450.20 L286.15,450.20 L286.56,450.20 L286.98,450.20 L287.39,450.20 L287.80,450.20 L288.22,450.20 L288.63,450.20 L289.04,450.20 L289.45,450.20 L289.87,450.20 L290.28,450.20 L290.69,450.20 L291.11,450.20 L291.52,450.20 L291.93,450.20 L292.35,450.20 L292.76,450.20 L293.17,450.20 L293.58,450.20 L294.00,450.20 L294.41,450.20 L294.82,450.20 L295.24,450.20 L295.65,450.20 L296.06,450.20 L296.48,450.20 L296.89,450.20 L297.30,450.20 L297.40,450.20" fill="none" stroke="#111" stroke-width="0.85" stroke-linejoin="round"/>
<path d="M191.60,344.40 L297.40,344.40 L297.40,450.60" fill="none" stroke="#aaa" stroke-width="0.9"/>
<line x1="191.60" y1="344.40" x2="191.60" y2="451.00" stroke="#666" stroke-width="0.8"/>
<line x1="191.20" y1="450.60" x2="297.40" y2="450.60" stroke="#444" stroke-width="0.8"/>
<line x1="188.80" y1="450.60" x2="191.60" y2="450.60" stroke="#333" stroke-width="0.6"/>
<text x="187.40" y="453.00" font-size="7.0" text-anchor="end" fill="#222" stroke="#222" stroke-width="0.1">0</text>
<line x1="188.80" y1="430.52" x2="191.60" y2="430.52" stroke="#333" stroke-width="0.6"/>
<text x="187.40" y="432.92" font-size="7.0" text-anchor="end" fill="#222" stroke="#222" stroke-width="0.1">100</text>
<line x1="188.80" y1="410.44" x2="191.60" y2="410.44" stroke="#333" stroke-width="0.6"/>
<text x="187.40" y="412.84" font-size="7.0" text-anchor="end" fill="#222" stroke="#222" stroke-width="0.1">200</text>
<line x1="188.80" y1="390.36" x2="191.60" y2="390.36" stroke="#333" stroke-width="0.6"/>
<text x="187.40" y="392.76" font-size="7.0" text-anchor="end" fill="#222" stroke="#222" stroke-width="0.1">300</text>
<line x1="188.80" y1="370.28" x2="191.60" y2="370.28" stroke="#333" stroke-width="0.6"/>
<text x="187.40" y="372.68" font-size="7.0" text-anchor="end" fill="#222" stroke="#222" stroke-width="0.1">400</text>
<line x1="188.80" y1="350.20" x2="191.60" y2="350.20" stroke="#333" stroke-width="0.6"/>
<text x="187.40" y="352.60" font-size="7.0" text-anchor="end" fill="#222" stroke="#222" stroke-width="0.1">500</text>
<line x1="190.10" y1="445.58" x2="191.60" y2="445.58" stroke="#333" stroke-width="0.6"/>
<line x1="190.10" y1="440.56" x2="191.60" y2="440.56" stroke="#333" stroke-width="0.6"/>
<line x1="190.10" y1="435.54" x2="191.60" y2="435.54" stroke="#333" stroke-width="0.6"/>
<line x1="190.10" y1="430.52" x2="191.60" y2="430.52" stroke="#333" stroke-width="0.6"/>
<line x1="190.10" y1="425.50" x2="191.60" y2="425.50" stroke="#333" stroke-width="0.6"/>
<line x1="190.10" y1="420.48" x2="191.60" y2="420.48" stroke="#333" stroke-width="0.6"/>
<line x1="190.10" y1="415.46" x2="191.60" y2="415.46" stroke="#333" stroke-width="0.6"/>
<line x1="190.10" y1="410.44" x2="191.60" y2="410.44" stroke="#333" stroke-width="0.6"/>
<line x1="190.10" y1="405.42" x2="191.60" y2="405.42" stroke="#333" stroke-width="0.6"/>
<line x1="190.10" y1="400.40" x2="191.60" y2="400.40" stroke="#333" stroke-width="0.6"/>
<line x1="190.10" y1="395.38" x2="191.60" y2="395.38" stroke="#333" stroke-width="0.6"/>
<line x1="190.10" y1="390.36" x2="191.60" y2="390.36" stroke="#333" stroke-width="0.6"/>
<line x1="190.10" y1="385.34" x2="191.60" y2="385.34" stroke="#333" stroke-width="0.6"/>
<line x1="190.10" y1="380.32" x2="191.60" y2="380.32" stroke="#333" stroke-width="0.6"/>
<line x1="190.10" y1="375.30" x2="191.60" y2="375.30" stroke="#333" stroke-width="0.6"/>
<line x1="190.10" y1="370.28" x2="191.60" y2="370.28" stroke="#333" stroke-width="0.6"/>
<line x1="190.10" y1="365.26" x2="191.60" y2="365.26" stroke="#333" stroke-width="0.6"/>
<line x1="190.10" y1="360.24" x2="191.60" y2="360.24" stroke="#333" stroke-width="0.6"/>
<line x1="190.10" y1="355.22" x2="191.60" y2="355.22" stroke="#333" stroke-width="0.6"/>
<line x1="190.10" y1="350.20" x2="191.60" y2="350.20" stroke="#333" stroke-width="0.6"/>
<line x1="192.40" y1="450.60" x2="192.40" y2="453.40" stroke="#333" stroke-width="0.6"/>
<text x="192.40" y="460.90" font-size="7.0" text-anchor="middle" fill="#222" stroke="#222" stroke-width="0.1">0</text>
<line x1="212.60" y1="450.60" x2="212.60" y2="453.40" stroke="#333" stroke-width="0.6"/>
<text x="212.60" y="460.90" font-size="7.0" text-anchor="middle" fill="#222" stroke="#222" stroke-width="0.1">50K</text>
<line x1="232.80" y1="450.60" x2="232.80" y2="453.40" stroke="#333" stroke-width="0.6"/>
<text x="232.80" y="460.90" font-size="7.0" text-anchor="middle" fill="#222" stroke="#222" stroke-width="0.1">100K</text>
<line x1="253.00" y1="450.60" x2="253.00" y2="453.40" stroke="#333" stroke-width="0.6"/>
<text x="253.00" y="460.90" font-size="7.0" text-anchor="middle" fill="#222" stroke="#222" stroke-width="0.1">150K</text>
<line x1="273.20" y1="450.60" x2="273.20" y2="453.40" stroke="#333" stroke-width="0.6"/>
<text x="273.20" y="460.90" font-size="7.0" text-anchor="middle" fill="#222" stroke="#222" stroke-width="0.1">200K</text>
<line x1="293.40" y1="450.60" x2="293.40" y2="453.40" stroke="#333" stroke-width="0.6"/>
<text x="293.40" y="460.90" font-size="7.0" text-anchor="middle" fill="#222" stroke="#222" stroke-width="0.1">250K</text>
<line x1="196.44" y1="450.60" x2="196.44" y2="452.10" stroke="#333" stroke-width="0.6"/>
<line x1="200.48" y1="450.60" x2="200.48" y2="452.10" stroke="#333" stroke-width="0.6"/>
<line x1="204.52" y1="450.60" x2="204.52" y2="452.10" stroke="#333" stroke-width="0.6"/>
<line x1="208.56" y1="450.60" x2="208.56" y2="452.10" stroke="#333" stroke-width="0.6"/>
<line x1="212.60" y1="450.60" x2="212.60" y2="452.10" stroke="#333" stroke-width="0.6"/>
<line x1="216.64" y1="450.60" x2="216.64" y2="452.10" stroke="#333" stroke-width="0.6"/>
<line x1="220.68" y1="450.60" x2="220.68" y2="452.10" stroke="#333" stroke-width="0.6"/>
<line x1="224.72" y1="450.60" x2="224.72" y2="452.10" stroke="#333" stroke-width="0.6"/>
<line x1="228.76" y1="450.60" x2="228.76" y2="452.10" stroke="#333" stroke-width="0.6"/>
<line x1="232.80" y1="450.60" x2="232.80" y2="452.10" stroke="#333" stroke-width="0.6"/>
<line x1="236.84" y1="450.60" x2="236.84" y2="452.10" stroke="#333" stroke-width="0.6"/>
<line x1="240.88" y1="450.60" x2="240.88" y2="452.10" stroke="#333" stroke-width="0.6"/>
<line x1="244.92" y1="450.60" x2="244.92" y2="452.10" stroke="#333" stroke-width="0.6"/>
<line x1="248.96" y1="450.60" x2="248.96" y2="452.10" stroke="#333" stroke-width="0.6"/>
<line x1="253.00" y1="450.60" x2="253.00" y2="452.10" stroke="#333" stroke-width="0.6"/>
<line x1="257.04" y1="450.60" x2="257.04" y2="452.10" stroke="#333" stroke-width="0.6"/>
<line x1="261.08" y1="450.60" x2="261.08" y2="452.10" stroke="#333" stroke-width="0.6"/>
<line x1="265.12" y1="450.60" x2="265.12" y2="452.10" stroke="#333" stroke-width="0.6"/>
<line x1="269.16" y1="450.60" x2="269.16" y2="452.10" stroke="#333" stroke-width="0.6"/>
<line x1="273.20" y1="450.60" x2="273.20" y2="452.10" stroke="#333" stroke-width="0.6"/>
<line x1="277.24" y1="450.60" x2="277.24" y2="452.10" stroke="#333" stroke-width="0.6"/>
<line x1="281.28" y1="450.60" x2="281.28" y2="452.10" stroke="#333" stroke-width="0.6"/>
<line x1="285.32" y1="450.60" x2="285.32" y2="452.10" stroke="#333" stroke-width="0.6"/>
<line x1="289.36" y1="450.60" x2="289.36" y2="452.10" stroke="#333" stroke-width="0.6"/>
<line x1="293.40" y1="450.60" x2="293.40" y2="452.10" stroke="#333" stroke-width="0.6"/>
<text x="244.50" y="470.00" font-size="7.3" text-anchor="middle" fill="#222" stroke="#222" stroke-width="0.1">DAPI-A :: DNA</text>
<text x="172.40" y="400.00" font-size="7.0" text-anchor="middle" fill="#222" stroke="#222" stroke-width="0.1" transform="rotate(-90 172.40 400.00)">Count</text>
<line x1="229.40" y1="363.00" x2="246.40" y2="363.00" stroke="#333" stroke-width="0.8"/>
<line x1="229.40" y1="361.30" x2="229.40" y2="364.70" stroke="#333" stroke-width="0.8"/>
<line x1="246.40" y1="361.30" x2="246.40" y2="364.70" stroke="#333" stroke-width="0.8"/>
<text x="238.00" y="352.60" font-size="7.2" text-anchor="middle" fill="#222" stroke="#222" stroke-width="0.1">S</text>
<text x="238.00" y="360.00" font-size="7.2" text-anchor="middle" fill="#222" stroke="#222" stroke-width="0.1">17.9%</text>
<line x1="209.60" y1="375.00" x2="229.40" y2="375.00" stroke="#333" stroke-width="0.8"/>
<line x1="209.60" y1="373.30" x2="209.60" y2="376.70" stroke="#333" stroke-width="0.8"/>
<line x1="229.40" y1="373.30" x2="229.40" y2="376.70" stroke="#333" stroke-width="0.8"/>
<text x="219.00" y="364.20" font-size="7.2" text-anchor="middle" fill="#222" stroke="#222" stroke-width="0.1">G1</text>
<text x="219.00" y="372.00" font-size="7.2" text-anchor="middle" fill="#222" stroke="#222" stroke-width="0.1">71.8%</text>
<line x1="246.40" y1="396.40" x2="260.60" y2="396.40" stroke="#333" stroke-width="0.8"/>
<line x1="246.40" y1="394.70" x2="246.40" y2="398.10" stroke="#333" stroke-width="0.8"/>
<line x1="260.60" y1="394.70" x2="260.60" y2="398.10" stroke="#333" stroke-width="0.8"/>
<text x="253.40" y="384.60" font-size="7.2" text-anchor="middle" fill="#222" stroke="#222" stroke-width="0.1">G2_M</text>
<text x="253.40" y="393.00" font-size="7.2" text-anchor="middle" fill="#222" stroke="#222" stroke-width="0.1">8.52%</text>
<path d="M57.40,583.40 L57.40,582.08 L57.82,582.11 L58.23,582.14 L58.65,582.16 L59.07,582.19 L59.48,582.21 L59.90,582.24 L60.32,582.27 L60.74,582.29 L61.15,582.32 L61.57,582.35 L61.99,582.36 L62.40,582.37 L62.82,582.39 L63.24,582.40 L63.66,582.41 L64.07,582.43 L64.49,582.44 L64.91,582.45 L65.32,582.46 L65.74,582.48 L66.16,582.49 L66.57,582.50 L66.99,582.52 L67.41,582.53 L67.83,582.54 L68.24,582.56 L68.66,582.57 L69.08,582.58 L69.49,582.60 L69.91,582.61 L70.33,582.60 L70.74,582.58 L71.16,582.57 L71.58,582.56 L72.00,582.54 L72.41,582.53 L72.83,582.52 L73.25,582.50 L73.66,582.49 L74.08,582.48 L74.50,582.46 L74.91,582.45 L75.33,582.44 L75.75,582.43 L76.16,582.41 L76.58,582.40 L77.00,582.39 L77.42,582.37 L77.83,582.36 L78.25,582.35 L78.67,582.30 L79.08,582.26 L79.50,582.21 L79.92,582.17 L80.33,582.13 L80.75,582.08 L81.17,581.65 L81.59,581.00 L82.00,579.70 L82.42,577.84 L82.84,575.29 L83.25,571.90 L83.67,567.52 L84.09,562.09 L84.50,555.58 L84.92,548.07 L85.34,539.76 L85.76,530.98 L86.17,522.16 L86.59,513.73 L87.01,505.80 L87.42,497.49 L87.84,488.60 L88.26,483.58 L88.67,488.18 L89.09,500.35 L89.51,513.97 L89.93,527.37 L90.34,540.36 L90.76,552.19 L91.18,562.08 L91.59,569.67 L92.01,568.94 L92.43,568.42 L92.84,569.21 L93.26,572.57 L93.68,571.42 L94.10,572.59 L94.51,572.82 L94.93,574.79 L95.35,575.17 L95.76,574.89 L96.18,575.82 L96.60,575.18 L97.01,576.82 L97.43,576.77 L97.85,574.80 L98.27,575.95 L98.68,575.80 L99.10,575.20 L99.52,576.65 L99.93,577.84 L100.35,575.52 L100.77,576.35 L101.19,576.27 L101.60,576.48 L102.02,575.40 L102.44,577.50 L102.85,576.28 L103.27,577.63 L103.69,577.06 L104.10,576.86 L104.52,578.02 L104.94,578.79 L105.35,577.68 L105.77,576.62 L106.19,576.72 L106.61,576.91 L107.02,575.96 L107.44,577.24 L107.86,576.97 L108.27,576.18 L108.69,574.20 L109.11,576.04 L109.53,576.03 L109.94,575.68 L110.36,575.49 L110.78,574.29 L111.19,572.87 L111.61,571.63 L112.03,572.91 L112.44,572.38 L112.86,572.27 L113.28,571.60 L113.69,569.36 L114.11,569.53 L114.53,569.91 L114.95,569.81 L115.36,566.88 L115.78,567.71 L116.20,567.87 L116.61,570.46 L117.03,569.98 L117.45,569.27 L117.86,570.96 L118.28,570.73 L118.70,574.38 L119.12,572.59 L119.53,576.72 L119.95,576.46 L120.37,578.70 L120.78,577.28 L121.20,578.31 L121.62,578.41 L122.03,579.49 L122.45,580.02 L122.87,581.29 L123.29,581.62 L123.70,581.95 L124.12,582.28 L124.54,582.61 L124.95,582.64 L125.37,582.67 L125.79,582.70 L126.20,582.73 L126.62,582.76 L127.04,582.79 L127.46,582.81 L127.87,582.84 L128.29,582.87 L128.71,582.87 L129.12,582.87 L129.54,582.87 L129.96,582.87 L130.38,582.87 L130.79,582.87 L131.21,582.87 L131.63,582.87 L132.04,582.87 L132.46,582.87 L132.88,582.87 L133.29,582.87 L133.71,582.87 L134.13,582.87 L134.54,582.87 L134.96,582.87 L135.38,582.87 L135.80,582.87 L136.21,582.87 L136.63,582.87 L137.05,582.87 L137.46,582.87 L137.88,582.87 L138.30,582.87 L138.72,582.87 L139.13,582.87 L139.55,582.87 L139.97,582.87 L140.38,582.87 L140.80,582.87 L141.22,582.87 L141.63,582.87 L142.05,582.87 L142.47,582.87 L142.88,582.87 L143.30,582.87 L143.72,582.87 L144.14,582.87 L144.55,582.87 L144.97,582.87 L145.39,582.87 L145.80,582.87 L146.22,582.87 L146.64,582.87 L147.06,582.87 L147.47,582.87 L147.89,582.87 L148.31,582.87 L148.72,582.87 L149.14,582.87 L149.56,582.87 L149.97,582.87 L150.39,582.87 L150.81,582.87 L151.22,582.87 L151.64,582.87 L152.06,582.87 L152.48,582.87 L152.89,582.87 L153.31,582.87 L153.73,582.87 L154.14,582.87 L154.56,582.87 L154.98,582.87 L155.39,582.87 L155.81,582.87 L156.23,582.87 L156.65,582.87 L157.06,582.87 L157.48,582.87 L157.90,582.87 L158.31,582.87 L158.73,582.87 L159.15,582.87 L159.56,582.87 L159.98,582.87 L160.40,582.87 L160.82,582.87 L161.23,582.87 L161.65,582.87 L162.07,582.87 L162.48,582.87 L162.90,582.87 L163.32,582.87 L163.60,582.87 L163.60,583.40 Z" fill="#9a9a9a" stroke="none"/>
<path d="M57.40,582.08 L57.82,582.11 L58.23,582.14 L58.65,582.16 L59.07,582.19 L59.48,582.21 L59.90,582.24 L60.32,582.27 L60.74,582.29 L61.15,582.32 L61.57,582.35 L61.99,582.36 L62.40,582.37 L62.82,582.39 L63.24,582.40 L63.66,582.41 L64.07,582.43 L64.49,582.44 L64.91,582.45 L65.32,582.46 L65.74,582.48 L66.16,582.49 L66.57,582.50 L66.99,582.52 L67.41,582.53 L67.83,582.54 L68.24,582.56 L68.66,582.57 L69.08,582.58 L69.49,582.60 L69.91,582.61 L70.33,582.60 L70.74,582.58 L71.16,582.57 L71.58,582.56 L72.00,582.54 L72.41,582.53 L72.83,582.52 L73.25,582.50 L73.66,582.49 L74.08,582.48 L74.50,582.46 L74.91,582.45 L75.33,582.44 L75.75,582.43 L76.16,582.41 L76.58,582.40 L77.00,582.39 L77.42,582.37 L77.83,582.36 L78.25,582.35 L78.67,582.30 L79.08,582.26 L79.50,582.21 L79.92,582.17 L80.33,582.13 L80.75,582.08 L81.17,581.65 L81.59,581.00 L82.00,579.70 L82.42,577.84 L82.84,575.29 L83.25,571.90 L83.67,567.52 L84.09,562.09 L84.50,555.58 L84.92,548.07 L85.34,539.76 L85.76,530.98 L86.17,522.16 L86.59,513.73 L87.01,505.80 L87.42,497.49 L87.84,488.60 L88.26,483.58 L88.67,488.18 L89.09,500.35 L89.51,513.97 L89.93,527.37 L90.34,540.36 L90.76,552.19 L91.18,562.08 L91.59,569.67 L92.01,568.94 L92.43,568.42 L92.84,569.21 L93.26,572.57 L93.68,571.42 L94.10,572.59 L94.51,572.82 L94.93,574.79 L95.35,575.17 L95.76,574.89 L96.18,575.82 L96.60,575.18 L97.01,576.82 L97.43,576.77 L97.85,574.80 L98.27,575.95 L98.68,575.80 L99.10,575.20 L99.52,576.65 L99.93,577.84 L100.35,575.52 L100.77,576.35 L101.19,576.27 L101.60,576.48 L102.02,575.40 L102.44,577.50 L102.85,576.28 L103.27,577.63 L103.69,577.06 L104.10,576.86 L104.52,578.02 L104.94,578.79 L105.35,577.68 L105.77,576.62 L106.19,576.72 L106.61,576.91 L107.02,575.96 L107.44,577.24 L107.86,576.97 L108.27,576.18 L108.69,574.20 L109.11,576.04 L109.53,576.03 L109.94,575.68 L110.36,575.49 L110.78,574.29 L111.19,572.87 L111.61,571.63 L112.03,572.91 L112.44,572.38 L112.86,572.27 L113.28,571.60 L113.69,569.36 L114.11,569.53 L114.53,569.91 L114.95,569.81 L115.36,566.88 L115.78,567.71 L116.20,567.87 L116.61,570.46 L117.03,569.98 L117.45,569.27 L117.86,570.96 L118.28,570.73 L118.70,574.38 L119.12,572.59 L119.53,576.72 L119.95,576.46 L120.37,578.70 L120.78,577.28 L121.20,578.31 L121.62,578.41 L122.03,579.49 L122.45,580.02 L122.87,581.29 L123.29,581.62 L123.70,581.95 L124.12,582.28 L124.54,582.61 L124.95,582.64 L125.37,582.67 L125.79,582.70 L126.20,582.73 L126.62,582.76 L127.04,582.79 L127.46,582.81 L127.87,582.84 L128.29,582.87 L128.71,582.87 L129.12,582.87 L129.54,582.87 L129.96,582.87 L130.38,582.87 L130.79,582.87 L131.21,582.87 L131.63,582.87 L132.04,582.87 L132.46,582.87 L132.88,582.87 L133.29,582.87 L133.71,582.87 L134.13,582.87 L134.54,582.87 L134.96,582.87 L135.38,582.87 L135.80,582.87 L136.21,582.87 L136.63,582.87 L137.05,582.87 L137.46,582.87 L137.88,582.87 L138.30,582.87 L138.72,582.87 L139.13,582.87 L139.55,582.87 L139.97,582.87 L140.38,582.87 L140.80,582.87 L141.22,582.87 L141.63,582.87 L142.05,582.87 L142.47,582.87 L142.88,582.87 L143.30,582.87 L143.72,582.87 L144.14,582.87 L144.55,582.87 L144.97,582.87 L145.39,582.87 L145.80,582.87 L146.22,582.87 L146.64,582.87 L147.06,582.87 L147.47,582.87 L147.89,582.87 L148.31,582.87 L148.72,582.87 L149.14,582.87 L149.56,582.87 L149.97,582.87 L150.39,582.87 L150.81,582.87 L151.22,582.87 L151.64,582.87 L152.06,582.87 L152.48,582.87 L152.89,582.87 L153.31,582.87 L153.73,582.87 L154.14,582.87 L154.56,582.87 L154.98,582.87 L155.39,582.87 L155.81,582.87 L156.23,582.87 L156.65,582.87 L157.06,582.87 L157.48,582.87 L157.90,582.87 L158.31,582.87 L158.73,582.87 L159.15,582.87 L159.56,582.87 L159.98,582.87 L160.40,582.87 L160.82,582.87 L161.23,582.87 L161.65,582.87 L162.07,582.87 L162.48,582.87 L162.90,582.87 L163.32,582.87 L163.60,582.87" fill="none" stroke="#111" stroke-width="0.85" stroke-linejoin="round"/>
<path d="M57.40,478.00 L163.60,478.00 L163.60,583.40" fill="none" stroke="#aaa" stroke-width="0.9"/>
<line x1="57.40" y1="478.00" x2="57.40" y2="583.80" stroke="#666" stroke-width="0.8"/>
<line x1="57.00" y1="583.40" x2="163.60" y2="583.40" stroke="#444" stroke-width="0.8"/>
<line x1="54.60" y1="583.40" x2="57.40" y2="583.40" stroke="#333" stroke-width="0.6"/>
<text x="53.20" y="585.80" font-size="7.0" text-anchor="end" fill="#222" stroke="#222" stroke-width="0.1">0</text>
<line x1="54.60" y1="557.05" x2="57.40" y2="557.05" stroke="#333" stroke-width="0.6"/>
<text x="53.20" y="559.45" font-size="7.0" text-anchor="end" fill="#222" stroke="#222" stroke-width="0.1">100</text>
<line x1="54.60" y1="530.70" x2="57.40" y2="530.70" stroke="#333" stroke-width="0.6"/>
<text x="53.20" y="533.10" font-size="7.0" text-anchor="end" fill="#222" stroke="#222" stroke-width="0.1">200</text>
<line x1="54.60" y1="504.35" x2="57.40" y2="504.35" stroke="#333" stroke-width="0.6"/>
<text x="53.20" y="506.75" font-size="7.0" text-anchor="end" fill="#222" stroke="#222" stroke-width="0.1">300</text>
<line x1="54.60" y1="478.00" x2="57.40" y2="478.00" stroke="#333" stroke-width="0.6"/>
<text x="53.20" y="480.40" font-size="7.0" text-anchor="end" fill="#222" stroke="#222" stroke-width="0.1">400</text>
<line x1="55.90" y1="576.81" x2="57.40" y2="576.81" stroke="#333" stroke-width="0.6"/>
<line x1="55.90" y1="570.23" x2="57.40" y2="570.23" stroke="#333" stroke-width="0.6"/>
<line x1="55.90" y1="563.64" x2="57.40" y2="563.64" stroke="#333" stroke-width="0.6"/>
<line x1="55.90" y1="557.05" x2="57.40" y2="557.05" stroke="#333" stroke-width="0.6"/>
<line x1="55.90" y1="550.46" x2="57.40" y2="550.46" stroke="#333" stroke-width="0.6"/>
<line x1="55.90" y1="543.88" x2="57.40" y2="543.88" stroke="#333" stroke-width="0.6"/>
<line x1="55.90" y1="537.29" x2="57.40" y2="537.29" stroke="#333" stroke-width="0.6"/>
<line x1="55.90" y1="530.70" x2="57.40" y2="530.70" stroke="#333" stroke-width="0.6"/>
<line x1="55.90" y1="524.11" x2="57.40" y2="524.11" stroke="#333" stroke-width="0.6"/>
<line x1="55.90" y1="517.52" x2="57.40" y2="517.52" stroke="#333" stroke-width="0.6"/>
<line x1="55.90" y1="510.94" x2="57.40" y2="510.94" stroke="#333" stroke-width="0.6"/>
<line x1="55.90" y1="504.35" x2="57.40" y2="504.35" stroke="#333" stroke-width="0.6"/>
<line x1="55.90" y1="497.76" x2="57.40" y2="497.76" stroke="#333" stroke-width="0.6"/>
<line x1="55.90" y1="491.17" x2="57.40" y2="491.17" stroke="#333" stroke-width="0.6"/>
<line x1="55.90" y1="484.59" x2="57.40" y2="484.59" stroke="#333" stroke-width="0.6"/>
<line x1="57.40" y1="583.40" x2="57.40" y2="586.20" stroke="#333" stroke-width="0.6"/>
<text x="57.40" y="593.70" font-size="7.0" text-anchor="middle" fill="#222" stroke="#222" stroke-width="0.1">0</text>
<line x1="77.50" y1="583.40" x2="77.50" y2="586.20" stroke="#333" stroke-width="0.6"/>
<text x="77.50" y="593.70" font-size="7.0" text-anchor="middle" fill="#222" stroke="#222" stroke-width="0.1">50K</text>
<line x1="97.60" y1="583.40" x2="97.60" y2="586.20" stroke="#333" stroke-width="0.6"/>
<text x="97.60" y="593.70" font-size="7.0" text-anchor="middle" fill="#222" stroke="#222" stroke-width="0.1">100K</text>
<line x1="117.70" y1="583.40" x2="117.70" y2="586.20" stroke="#333" stroke-width="0.6"/>
<text x="117.70" y="593.70" font-size="7.0" text-anchor="middle" fill="#222" stroke="#222" stroke-width="0.1">150K</text>
<line x1="137.80" y1="583.40" x2="137.80" y2="586.20" stroke="#333" stroke-width="0.6"/>
<text x="137.80" y="593.70" font-size="7.0" text-anchor="middle" fill="#222" stroke="#222" stroke-width="0.1">200K</text>
<line x1="157.90" y1="583.40" x2="157.90" y2="586.20" stroke="#333" stroke-width="0.6"/>
<text x="157.90" y="593.70" font-size="7.0" text-anchor="middle" fill="#222" stroke="#222" stroke-width="0.1">250K</text>
<line x1="61.42" y1="583.40" x2="61.42" y2="584.90" stroke="#333" stroke-width="0.6"/>
<line x1="65.44" y1="583.40" x2="65.44" y2="584.90" stroke="#333" stroke-width="0.6"/>
<line x1="69.46" y1="583.40" x2="69.46" y2="584.90" stroke="#333" stroke-width="0.6"/>
<line x1="73.48" y1="583.40" x2="73.48" y2="584.90" stroke="#333" stroke-width="0.6"/>
<line x1="77.50" y1="583.40" x2="77.50" y2="584.90" stroke="#333" stroke-width="0.6"/>
<line x1="81.52" y1="583.40" x2="81.52" y2="584.90" stroke="#333" stroke-width="0.6"/>
<line x1="85.54" y1="583.40" x2="85.54" y2="584.90" stroke="#333" stroke-width="0.6"/>
<line x1="89.56" y1="583.40" x2="89.56" y2="584.90" stroke="#333" stroke-width="0.6"/>
<line x1="93.58" y1="583.40" x2="93.58" y2="584.90" stroke="#333" stroke-width="0.6"/>
<line x1="97.60" y1="583.40" x2="97.60" y2="584.90" stroke="#333" stroke-width="0.6"/>
<line x1="101.62" y1="583.40" x2="101.62" y2="584.90" stroke="#333" stroke-width="0.6"/>
<line x1="105.64" y1="583.40" x2="105.64" y2="584.90" stroke="#333" stroke-width="0.6"/>
<line x1="109.66" y1="583.40" x2="109.66" y2="584.90" stroke="#333" stroke-width="0.6"/>
<line x1="113.68" y1="583.40" x2="113.68" y2="584.90" stroke="#333" stroke-width="0.6"/>
<line x1="117.70" y1="583.40" x2="117.70" y2="584.90" stroke="#333" stroke-width="0.6"/>
<line x1="121.72" y1="583.40" x2="121.72" y2="584.90" stroke="#333" stroke-width="0.6"/>
<line x1="125.74" y1="583.40" x2="125.74" y2="584.90" stroke="#333" stroke-width="0.6"/>
<line x1="129.76" y1="583.40" x2="129.76" y2="584.90" stroke="#333" stroke-width="0.6"/>
<line x1="133.78" y1="583.40" x2="133.78" y2="584.90" stroke="#333" stroke-width="0.6"/>
<line x1="137.80" y1="583.40" x2="137.80" y2="584.90" stroke="#333" stroke-width="0.6"/>
<line x1="141.82" y1="583.40" x2="141.82" y2="584.90" stroke="#333" stroke-width="0.6"/>
<line x1="145.84" y1="583.40" x2="145.84" y2="584.90" stroke="#333" stroke-width="0.6"/>
<line x1="149.86" y1="583.40" x2="149.86" y2="584.90" stroke="#333" stroke-width="0.6"/>
<line x1="153.88" y1="583.40" x2="153.88" y2="584.90" stroke="#333" stroke-width="0.6"/>
<line x1="157.90" y1="583.40" x2="157.90" y2="584.90" stroke="#333" stroke-width="0.6"/>
<line x1="161.92" y1="583.40" x2="161.92" y2="584.90" stroke="#333" stroke-width="0.6"/>
<text x="110.50" y="602.80" font-size="7.3" text-anchor="middle" fill="#222" stroke="#222" stroke-width="0.1">DAPI-A :: DNA</text>
<text x="35.50" y="531.00" font-size="7.0" text-anchor="middle" fill="#222" stroke="#222" stroke-width="0.1" transform="rotate(-90 35.50 531.00)">Count</text>
<line x1="74.60" y1="504.40" x2="92.60" y2="504.40" stroke="#333" stroke-width="0.8"/>
<line x1="74.60" y1="502.70" x2="74.60" y2="506.10" stroke="#333" stroke-width="0.8"/>
<line x1="92.60" y1="502.70" x2="92.60" y2="506.10" stroke="#333" stroke-width="0.8"/>
<text x="83.30" y="493.00" font-size="7.2" text-anchor="middle" fill="#222" stroke="#222" stroke-width="0.1">G1</text>
<text x="83.30" y="500.20" font-size="7.2" text-anchor="middle" fill="#222" stroke="#222" stroke-width="0.1">62.1%</text>
<line x1="92.40" y1="530.40" x2="109.00" y2="530.40" stroke="#333" stroke-width="0.8"/>
<line x1="92.40" y1="528.70" x2="92.40" y2="532.10" stroke="#333" stroke-width="0.8"/>
<line x1="109.00" y1="528.70" x2="109.00" y2="532.10" stroke="#333" stroke-width="0.8"/>
<text x="101.00" y="518.60" font-size="7.2" text-anchor="middle" fill="#222" stroke="#222" stroke-width="0.1">S</text>
<text x="101.00" y="526.20" font-size="7.2" text-anchor="middle" fill="#222" stroke="#222" stroke-width="0.1">18.2%</text>
<line x1="108.40" y1="554.00" x2="126.00" y2="554.00" stroke="#333" stroke-width="0.8"/>
<line x1="108.40" y1="552.30" x2="108.40" y2="555.70" stroke="#333" stroke-width="0.8"/>
<line x1="126.00" y1="552.30" x2="126.00" y2="555.70" stroke="#333" stroke-width="0.8"/>
<text x="117.40" y="542.60" font-size="7.2" text-anchor="middle" fill="#222" stroke="#222" stroke-width="0.1">G2_M</text>
<text x="117.40" y="550.60" font-size="7.2" text-anchor="middle" fill="#222" stroke="#222" stroke-width="0.1">18.1%</text>
<path d="M191.00,583.40 L191.00,581.82 L191.42,581.47 L191.84,581.12 L192.26,580.76 L192.68,581.29 L193.10,581.82 L193.52,582.35 L193.94,582.36 L194.36,582.38 L194.78,582.40 L195.20,582.42 L195.62,582.44 L196.04,582.46 L196.46,582.48 L196.88,582.50 L197.30,582.52 L197.72,582.53 L198.14,582.55 L198.56,582.57 L198.98,582.59 L199.40,582.61 L199.82,582.61 L200.24,582.61 L200.66,582.61 L201.08,582.61 L201.50,582.61 L201.92,582.61 L202.34,582.61 L202.76,582.61 L203.18,582.61 L203.60,582.61 L204.02,582.61 L204.44,582.61 L204.86,582.61 L205.28,582.61 L205.70,582.61 L206.12,582.61 L206.54,582.61 L206.96,582.61 L207.38,582.61 L207.80,582.61 L208.22,582.61 L208.64,582.61 L209.06,582.61 L209.48,582.61 L209.90,582.61 L210.32,582.61 L210.74,582.61 L211.16,582.61 L211.58,582.61 L212.00,582.61 L212.42,582.61 L212.84,582.61 L213.26,582.61 L213.68,582.61 L214.10,582.14 L214.52,581.35 L214.94,580.16 L215.36,578.43 L215.78,575.99 L216.20,572.69 L216.62,568.37 L217.04,562.92 L217.46,556.32 L217.88,548.64 L218.30,540.09 L218.72,531.02 L219.14,521.88 L219.56,513.17 L219.98,504.85 L220.40,495.99 L220.82,487.14 L221.24,483.61 L221.66,491.62 L222.08,507.53 L222.50,524.71 L222.92,540.84 L223.34,554.86 L223.76,565.82 L224.18,573.47 L224.60,578.25 L225.02,580.56 L225.44,580.76 L225.86,580.78 L226.28,580.79 L226.70,580.81 L227.12,580.82 L227.54,580.84 L227.96,580.85 L228.38,580.87 L228.80,580.88 L229.22,580.90 L229.64,580.91 L230.06,580.93 L230.48,580.94 L230.90,580.96 L231.32,580.97 L231.74,580.98 L232.16,581.00 L232.58,581.01 L233.00,581.03 L233.42,580.98 L233.84,580.92 L234.26,580.87 L234.68,580.82 L235.10,580.76 L235.52,580.25 L235.94,580.28 L236.36,580.93 L236.78,580.13 L237.20,580.34 L237.62,580.99 L238.04,579.85 L238.46,580.64 L238.88,580.53 L239.30,580.33 L239.72,579.90 L240.14,580.34 L240.56,579.29 L240.98,578.82 L241.40,579.12 L241.82,578.39 L242.24,578.25 L242.66,577.39 L243.08,578.39 L243.50,577.58 L243.92,576.89 L244.34,577.28 L244.76,574.41 L245.18,574.71 L245.60,575.55 L246.02,573.70 L246.44,573.35 L246.86,573.15 L247.28,572.44 L247.70,570.86 L248.12,571.58 L248.54,569.98 L248.96,570.26 L249.38,572.14 L249.80,571.02 L250.22,574.07 L250.64,575.04 L251.06,574.66 L251.48,577.55 L251.90,577.84 L252.32,578.41 L252.74,579.49 L253.16,580.25 L253.58,580.83 L254.00,581.42 L254.42,582.02 L254.84,582.61 L255.26,582.64 L255.68,582.68 L256.10,582.71 L256.52,582.74 L256.94,582.77 L257.36,582.81 L257.78,582.84 L258.20,582.87 L258.62,582.87 L259.04,582.87 L259.46,582.87 L259.88,582.87 L260.30,582.87 L260.72,582.87 L261.14,582.87 L261.56,582.87 L261.98,582.87 L262.40,582.87 L262.82,582.87 L263.24,582.87 L263.66,582.87 L264.08,582.87 L264.50,582.87 L264.92,582.87 L265.34,582.87 L265.76,582.87 L266.18,582.87 L266.60,582.87 L267.02,582.87 L267.44,582.87 L267.86,582.87 L268.28,582.87 L268.70,582.87 L269.12,582.87 L269.54,582.87 L269.96,582.87 L270.38,582.87 L270.80,582.87 L271.22,582.87 L271.64,582.87 L272.06,582.87 L272.48,582.87 L272.90,582.87 L273.32,582.87 L273.74,582.87 L274.16,582.87 L274.58,582.87 L275.00,582.87 L275.42,582.87 L275.84,582.87 L276.26,582.87 L276.68,582.87 L277.10,582.87 L277.52,582.87 L277.94,582.87 L278.36,582.87 L278.78,582.87 L279.20,582.87 L279.62,582.87 L280.04,582.87 L280.46,582.87 L280.88,582.87 L281.30,582.87 L281.72,582.87 L282.14,582.87 L282.56,582.87 L282.98,582.87 L283.40,582.87 L283.82,582.87 L284.24,582.87 L284.66,582.87 L285.08,582.87 L285.50,582.87 L285.92,582.87 L286.34,582.87 L286.76,582.87 L287.18,582.87 L287.60,582.87 L288.02,582.87 L288.44,582.87 L288.86,582.87 L289.28,582.87 L289.70,582.87 L290.12,582.87 L290.54,582.87 L290.96,582.87 L291.38,582.87 L291.80,582.87 L292.22,582.87 L292.64,582.87 L293.06,582.87 L293.48,582.87 L293.90,582.87 L294.32,582.87 L294.74,582.87 L295.16,582.87 L295.58,582.87 L296.00,582.87 L296.42,582.87 L296.84,582.87 L297.26,582.87 L297.40,582.87 L297.40,583.40 Z" fill="#9a9a9a" stroke="none"/>
<path d="M191.00,581.82 L191.42,581.47 L191.84,581.12 L192.26,580.76 L192.68,581.29 L193.10,581.82 L193.52,582.35 L193.94,582.36 L194.36,582.38 L194.78,582.40 L195.20,582.42 L195.62,582.44 L196.04,582.46 L196.46,582.48 L196.88,582.50 L197.30,582.52 L197.72,582.53 L198.14,582.55 L198.56,582.57 L198.98,582.59 L199.40,582.61 L199.82,582.61 L200.24,582.61 L200.66,582.61 L201.08,582.61 L201.50,582.61 L201.92,582.61 L202.34,582.61 L202.76,582.61 L203.18,582.61 L203.60,582.61 L204.02,582.61 L204.44,582.61 L204.86,582.61 L205.28,582.61 L205.70,582.61 L206.12,582.61 L206.54,582.61 L206.96,582.61 L207.38,582.61 L207.80,582.61 L208.22,582.61 L208.64,582.61 L209.06,582.61 L209.48,582.61 L209.90,582.61 L210.32,582.61 L210.74,582.61 L211.16,582.61 L211.58,582.61 L212.00,582.61 L212.42,582.61 L212.84,582.61 L213.26,582.61 L213.68,582.61 L214.10,582.14 L214.52,581.35 L214.94,580.16 L215.36,578.43 L215.78,575.99 L216.20,572.69 L216.62,568.37 L217.04,562.92 L217.46,556.32 L217.88,548.64 L218.30,540.09 L218.72,531.02 L219.14,521.88 L219.56,513.17 L219.98,504.85 L220.40,495.99 L220.82,487.14 L221.24,483.61 L221.66,491.62 L222.08,507.53 L222.50,524.71 L222.92,540.84 L223.34,554.86 L223.76,565.82 L224.18,573.47 L224.60,578.25 L225.02,580.56 L225.44,580.76 L225.86,580.78 L226.28,580.79 L226.70,580.81 L227.12,580.82 L227.54,580.84 L227.96,580.85 L228.38,580.87 L228.80,580.88 L229.22,580.90 L229.64,580.91 L230.06,580.93 L230.48,580.94 L230.90,580.96 L231.32,580.97 L231.74,580.98 L232.16,581.00 L232.58,581.01 L233.00,581.03 L233.42,580.98 L233.84,580.92 L234.26,580.87 L234.68,580.82 L235.10,580.76 L235.52,580.25 L235.94,580.28 L236.36,580.93 L236.78,580.13 L237.20,580.34 L237.62,580.99 L238.04,579.85 L238.46,580.64 L238.88,580.53 L239.30,580.33 L239.72,579.90 L240.14,580.34 L240.56,579.29 L240.98,578.82 L241.40,579.12 L241.82,578.39 L242.24,578.25 L242.66,577.39 L243.08,578.39 L243.50,577.58 L243.92,576.89 L244.34,577.28 L244.76,574.41 L245.18,574.71 L245.60,575.55 L246.02,573.70 L246.44,573.35 L246.86,573.15 L247.28,572.44 L247.70,570.86 L248.12,571.58 L248.54,569.98 L248.96,570.26 L249.38,572.14 L249.80,571.02 L250.22,574.07 L250.64,575.04 L251.06,574.66 L251.48,577.55 L251.90,577.84 L252.32,578.41 L252.74,579.49 L253.16,580.25 L253.58,580.83 L254.00,581.42 L254.42,582.02 L254.84,582.61 L255.26,582.64 L255.68,582.68 L256.10,582.71 L256.52,582.74 L256.94,582.77 L257.36,582.81 L257.78,582.84 L258.20,582.87 L258.62,582.87 L259.04,582.87 L259.46,582.87 L259.88,582.87 L260.30,582.87 L260.72,582.87 L261.14,582.87 L261.56,582.87 L261.98,582.87 L262.40,582.87 L262.82,582.87 L263.24,582.87 L263.66,582.87 L264.08,582.87 L264.50,582.87 L264.92,582.87 L265.34,582.87 L265.76,582.87 L266.18,582.87 L266.60,582.87 L267.02,582.87 L267.44,582.87 L267.86,582.87 L268.28,582.87 L268.70,582.87 L269.12,582.87 L269.54,582.87 L269.96,582.87 L270.38,582.87 L270.80,582.87 L271.22,582.87 L271.64,582.87 L272.06,582.87 L272.48,582.87 L272.90,582.87 L273.32,582.87 L273.74,582.87 L274.16,582.87 L274.58,582.87 L275.00,582.87 L275.42,582.87 L275.84,582.87 L276.26,582.87 L276.68,582.87 L277.10,582.87 L277.52,582.87 L277.94,582.87 L278.36,582.87 L278.78,582.87 L279.20,582.87 L279.62,582.87 L280.04,582.87 L280.46,582.87 L280.88,582.87 L281.30,582.87 L281.72,582.87 L282.14,582.87 L282.56,582.87 L282.98,582.87 L283.40,582.87 L283.82,582.87 L284.24,582.87 L284.66,582.87 L285.08,582.87 L285.50,582.87 L285.92,582.87 L286.34,582.87 L286.76,582.87 L287.18,582.87 L287.60,582.87 L288.02,582.87 L288.44,582.87 L288.86,582.87 L289.28,582.87 L289.70,582.87 L290.12,582.87 L290.54,582.87 L290.96,582.87 L291.38,582.87 L291.80,582.87 L292.22,582.87 L292.64,582.87 L293.06,582.87 L293.48,582.87 L293.90,582.87 L294.32,582.87 L294.74,582.87 L295.16,582.87 L295.58,582.87 L296.00,582.87 L296.42,582.87 L296.84,582.87 L297.26,582.87 L297.40,582.87" fill="none" stroke="#111" stroke-width="0.85" stroke-linejoin="round"/>
<path d="M190.60,478.00 L297.40,478.00 L297.40,583.40" fill="none" stroke="#666" stroke-width="0.9"/>
<line x1="190.60" y1="478.00" x2="190.60" y2="583.80" stroke="#666" stroke-width="0.8"/>
<line x1="190.20" y1="583.40" x2="297.40" y2="583.40" stroke="#444" stroke-width="0.8"/>
<line x1="187.80" y1="583.40" x2="190.60" y2="583.40" stroke="#333" stroke-width="0.6"/>
<text x="186.40" y="585.80" font-size="7.0" text-anchor="end" fill="#222" stroke="#222" stroke-width="0.1">0</text>
<line x1="187.80" y1="557.05" x2="190.60" y2="557.05" stroke="#333" stroke-width="0.6"/>
<text x="186.40" y="559.45" font-size="7.0" text-anchor="end" fill="#222" stroke="#222" stroke-width="0.1">100</text>
<line x1="187.80" y1="530.70" x2="190.60" y2="530.70" stroke="#333" stroke-width="0.6"/>
<text x="186.40" y="533.10" font-size="7.0" text-anchor="end" fill="#222" stroke="#222" stroke-width="0.1">200</text>
<line x1="187.80" y1="504.35" x2="190.60" y2="504.35" stroke="#333" stroke-width="0.6"/>
<text x="186.40" y="506.75" font-size="7.0" text-anchor="end" fill="#222" stroke="#222" stroke-width="0.1">300</text>
<line x1="187.80" y1="478.00" x2="190.60" y2="478.00" stroke="#333" stroke-width="0.6"/>
<text x="186.40" y="480.40" font-size="7.0" text-anchor="end" fill="#222" stroke="#222" stroke-width="0.1">400</text>
<line x1="189.10" y1="576.81" x2="190.60" y2="576.81" stroke="#333" stroke-width="0.6"/>
<line x1="189.10" y1="570.23" x2="190.60" y2="570.23" stroke="#333" stroke-width="0.6"/>
<line x1="189.10" y1="563.64" x2="190.60" y2="563.64" stroke="#333" stroke-width="0.6"/>
<line x1="189.10" y1="557.05" x2="190.60" y2="557.05" stroke="#333" stroke-width="0.6"/>
<line x1="189.10" y1="550.46" x2="190.60" y2="550.46" stroke="#333" stroke-width="0.6"/>
<line x1="189.10" y1="543.88" x2="190.60" y2="543.88" stroke="#333" stroke-width="0.6"/>
<line x1="189.10" y1="537.29" x2="190.60" y2="537.29" stroke="#333" stroke-width="0.6"/>
<line x1="189.10" y1="530.70" x2="190.60" y2="530.70" stroke="#333" stroke-width="0.6"/>
<line x1="189.10" y1="524.11" x2="190.60" y2="524.11" stroke="#333" stroke-width="0.6"/>
<line x1="189.10" y1="517.52" x2="190.60" y2="517.52" stroke="#333" stroke-width="0.6"/>
<line x1="189.10" y1="510.94" x2="190.60" y2="510.94" stroke="#333" stroke-width="0.6"/>
<line x1="189.10" y1="504.35" x2="190.60" y2="504.35" stroke="#333" stroke-width="0.6"/>
<line x1="189.10" y1="497.76" x2="190.60" y2="497.76" stroke="#333" stroke-width="0.6"/>
<line x1="189.10" y1="491.17" x2="190.60" y2="491.17" stroke="#333" stroke-width="0.6"/>
<line x1="189.10" y1="484.59" x2="190.60" y2="484.59" stroke="#333" stroke-width="0.6"/>
<line x1="191.00" y1="583.40" x2="191.00" y2="586.20" stroke="#333" stroke-width="0.6"/>
<text x="191.00" y="593.70" font-size="7.0" text-anchor="middle" fill="#222" stroke="#222" stroke-width="0.1">0</text>
<line x1="211.20" y1="583.40" x2="211.20" y2="586.20" stroke="#333" stroke-width="0.6"/>
<text x="211.20" y="593.70" font-size="7.0" text-anchor="middle" fill="#222" stroke="#222" stroke-width="0.1">50K</text>
<line x1="231.40" y1="583.40" x2="231.40" y2="586.20" stroke="#333" stroke-width="0.6"/>
<text x="231.40" y="593.70" font-size="7.0" text-anchor="middle" fill="#222" stroke="#222" stroke-width="0.1">100K</text>
<line x1="251.60" y1="583.40" x2="251.60" y2="586.20" stroke="#333" stroke-width="0.6"/>
<text x="251.60" y="593.70" font-size="7.0" text-anchor="middle" fill="#222" stroke="#222" stroke-width="0.1">150K</text>
<line x1="271.80" y1="583.40" x2="271.80" y2="586.20" stroke="#333" stroke-width="0.6"/>
<text x="271.80" y="593.70" font-size="7.0" text-anchor="middle" fill="#222" stroke="#222" stroke-width="0.1">200K</text>
<line x1="292.00" y1="583.40" x2="292.00" y2="586.20" stroke="#333" stroke-width="0.6"/>
<text x="292.00" y="593.70" font-size="7.0" text-anchor="middle" fill="#222" stroke="#222" stroke-width="0.1">250K</text>
<line x1="195.04" y1="583.40" x2="195.04" y2="584.90" stroke="#333" stroke-width="0.6"/>
<line x1="199.08" y1="583.40" x2="199.08" y2="584.90" stroke="#333" stroke-width="0.6"/>
<line x1="203.12" y1="583.40" x2="203.12" y2="584.90" stroke="#333" stroke-width="0.6"/>
<line x1="207.16" y1="583.40" x2="207.16" y2="584.90" stroke="#333" stroke-width="0.6"/>
<line x1="211.20" y1="583.40" x2="211.20" y2="584.90" stroke="#333" stroke-width="0.6"/>
<line x1="215.24" y1="583.40" x2="215.24" y2="584.90" stroke="#333" stroke-width="0.6"/>
<line x1="219.28" y1="583.40" x2="219.28" y2="584.90" stroke="#333" stroke-width="0.6"/>
<line x1="223.32" y1="583.40" x2="223.32" y2="584.90" stroke="#333" stroke-width="0.6"/>
<line x1="227.36" y1="583.40" x2="227.36" y2="584.90" stroke="#333" stroke-width="0.6"/>
<line x1="231.40" y1="583.40" x2="231.40" y2="584.90" stroke="#333" stroke-width="0.6"/>
<line x1="235.44" y1="583.40" x2="235.44" y2="584.90" stroke="#333" stroke-width="0.6"/>
<line x1="239.48" y1="583.40" x2="239.48" y2="584.90" stroke="#333" stroke-width="0.6"/>
<line x1="243.52" y1="583.40" x2="243.52" y2="584.90" stroke="#333" stroke-width="0.6"/>
<line x1="247.56" y1="583.40" x2="247.56" y2="584.90" stroke="#333" stroke-width="0.6"/>
<line x1="251.60" y1="583.40" x2="251.60" y2="584.90" stroke="#333" stroke-width="0.6"/>
<line x1="255.64" y1="583.40" x2="255.64" y2="584.90" stroke="#333" stroke-width="0.6"/>
<line x1="259.68" y1="583.40" x2="259.68" y2="584.90" stroke="#333" stroke-width="0.6"/>
<line x1="263.72" y1="583.40" x2="263.72" y2="584.90" stroke="#333" stroke-width="0.6"/>
<line x1="267.76" y1="583.40" x2="267.76" y2="584.90" stroke="#333" stroke-width="0.6"/>
<line x1="271.80" y1="583.40" x2="271.80" y2="584.90" stroke="#333" stroke-width="0.6"/>
<line x1="275.84" y1="583.40" x2="275.84" y2="584.90" stroke="#333" stroke-width="0.6"/>
<line x1="279.88" y1="583.40" x2="279.88" y2="584.90" stroke="#333" stroke-width="0.6"/>
<line x1="283.92" y1="583.40" x2="283.92" y2="584.90" stroke="#333" stroke-width="0.6"/>
<line x1="287.96" y1="583.40" x2="287.96" y2="584.90" stroke="#333" stroke-width="0.6"/>
<line x1="292.00" y1="583.40" x2="292.00" y2="584.90" stroke="#333" stroke-width="0.6"/>
<line x1="296.04" y1="583.40" x2="296.04" y2="584.90" stroke="#333" stroke-width="0.6"/>
<text x="244.00" y="602.80" font-size="7.3" text-anchor="middle" fill="#222" stroke="#222" stroke-width="0.1">DAPI-A :: DNA</text>
<text x="172.40" y="531.00" font-size="7.0" text-anchor="middle" fill="#222" stroke="#222" stroke-width="0.1" transform="rotate(-90 172.40 531.00)">Count</text>
<line x1="208.60" y1="504.40" x2="226.00" y2="504.40" stroke="#333" stroke-width="0.8"/>
<line x1="208.60" y1="502.70" x2="208.60" y2="506.10" stroke="#333" stroke-width="0.8"/>
<line x1="226.00" y1="502.70" x2="226.00" y2="506.10" stroke="#333" stroke-width="0.8"/>
<text x="216.80" y="493.00" font-size="7.2" text-anchor="middle" fill="#222" stroke="#222" stroke-width="0.1">G1</text>
<text x="216.80" y="500.60" font-size="7.2" text-anchor="middle" fill="#222" stroke="#222" stroke-width="0.1">77.6%</text>
<line x1="226.00" y1="530.00" x2="242.40" y2="530.00" stroke="#333" stroke-width="0.8"/>
<line x1="226.00" y1="528.30" x2="226.00" y2="531.70" stroke="#333" stroke-width="0.8"/>
<line x1="242.40" y1="528.30" x2="242.40" y2="531.70" stroke="#333" stroke-width="0.8"/>
<text x="234.00" y="518.60" font-size="7.2" text-anchor="middle" fill="#222" stroke="#222" stroke-width="0.1">S</text>
<text x="234.00" y="526.60" font-size="7.2" text-anchor="middle" fill="#222" stroke="#222" stroke-width="0.1">3.91%</text>
<line x1="242.60" y1="553.60" x2="259.40" y2="553.60" stroke="#333" stroke-width="0.8"/>
<line x1="242.60" y1="551.90" x2="242.60" y2="555.30" stroke="#333" stroke-width="0.8"/>
<line x1="259.40" y1="551.90" x2="259.40" y2="555.30" stroke="#333" stroke-width="0.8"/>
<text x="251.00" y="542.60" font-size="7.2" text-anchor="middle" fill="#222" stroke="#222" stroke-width="0.1">G2_M</text>
<text x="251.00" y="550.60" font-size="7.2" text-anchor="middle" fill="#222" stroke="#222" stroke-width="0.1">16.4%</text>
<line x1="31.10" y1="61.30" x2="31.10" y2="141.75" stroke="#1a1a1a" stroke-width="1.0"/>
<line x1="27.90" y1="141.30" x2="31.10" y2="141.30" stroke="#1a1a1a" stroke-width="0.9"/>
<text x="26.60" y="143.80" font-size="9.2" text-anchor="end" fill="#1a1a1a" stroke="#1a1a1a" stroke-width="0.1">0</text>
<line x1="27.90" y1="121.30" x2="31.10" y2="121.30" stroke="#1a1a1a" stroke-width="0.9"/>
<text x="26.60" y="123.80" font-size="9.2" text-anchor="end" fill="#1a1a1a" stroke="#1a1a1a" stroke-width="0.1">100</text>
<line x1="27.90" y1="101.30" x2="31.10" y2="101.30" stroke="#1a1a1a" stroke-width="0.9"/>
<text x="26.60" y="103.80" font-size="9.2" text-anchor="end" fill="#1a1a1a" stroke="#1a1a1a" stroke-width="0.1">200</text>
<line x1="27.90" y1="81.30" x2="31.10" y2="81.30" stroke="#1a1a1a" stroke-width="0.9"/>
<text x="26.60" y="83.80" font-size="9.2" text-anchor="end" fill="#1a1a1a" stroke="#1a1a1a" stroke-width="0.1">300</text>
<line x1="27.90" y1="61.30" x2="31.10" y2="61.30" stroke="#1a1a1a" stroke-width="0.9"/>
<text x="26.60" y="63.80" font-size="9.2" text-anchor="end" fill="#1a1a1a" stroke="#1a1a1a" stroke-width="0.1">400</text>
<line x1="28.50" y1="141.30" x2="84.70" y2="141.30" stroke="#1a1a1a" stroke-width="0.9"/>
<line x1="42.00" y1="141.30" x2="42.00" y2="143.80" stroke="#1a1a1a" stroke-width="0.8"/>
<line x1="57.70" y1="141.30" x2="57.70" y2="143.80" stroke="#1a1a1a" stroke-width="0.8"/>
<line x1="73.70" y1="141.30" x2="73.70" y2="143.80" stroke="#1a1a1a" stroke-width="0.8"/>
<path d="M36.50,141.30 L36.50,80.10 L47.40,80.10 L47.40,141.30" fill="#fff" stroke="#1a1a1a" stroke-width="0.9"/>
<path d="M52.60,141.30 L52.60,72.70 L63.50,72.70 L63.50,141.30" fill="#fff" stroke="#e8282c" stroke-width="0.9"/>
<path d="M68.60,141.30 L68.60,72.70 L79.50,72.70 L79.50,141.30" fill="#fff" stroke="#e83ce8" stroke-width="0.9"/>
<circle cx="39.40" cy="80.60" r="1.2" stroke="#1a1a1a" stroke-width="0.9" fill="none"/>
<circle cx="41.20" cy="79.80" r="1.2" stroke="#1a1a1a" stroke-width="0.9" fill="none"/>
<circle cx="43.00" cy="79.60" r="1.2" stroke="#1a1a1a" stroke-width="0.9" fill="none"/>
<circle cx="44.80" cy="80.20" r="1.2" stroke="#1a1a1a" stroke-width="0.9" fill="none"/>
<circle cx="55.40" cy="72.00" r="1.2" stroke="#ee2c1c" stroke-width="0.9" fill="none"/>
<circle cx="57.00" cy="71.00" r="1.2" stroke="#ee2c1c" stroke-width="0.9" fill="none"/>
<circle cx="58.80" cy="73.00" r="1.2" stroke="#ee2c1c" stroke-width="0.9" fill="none"/>
<circle cx="60.40" cy="72.40" r="1.2" stroke="#ee2c1c" stroke-width="0.9" fill="none"/>
<circle cx="58.00" cy="70.60" r="1.2" stroke="#ee2c1c" stroke-width="0.9" fill="none"/>
<circle cx="56.50" cy="74.00" r="1.2" stroke="#ee2c1c" stroke-width="0.9" fill="none"/>
<circle cx="71.20" cy="72.60" r="1.2" stroke="#e83ce8" stroke-width="0.9" fill="none"/>
<circle cx="73.00" cy="72.00" r="1.2" stroke="#e83ce8" stroke-width="0.9" fill="none"/>
<circle cx="75.00" cy="72.00" r="1.2" stroke="#e83ce8" stroke-width="0.9" fill="none"/>
<circle cx="76.80" cy="72.60" r="1.2" stroke="#e83ce8" stroke-width="0.9" fill="none"/>
<text x="57.50" y="33.60" font-size="9.2" text-anchor="middle" fill="#1a1a1a" stroke="#1a1a1a" stroke-width="0.1">γH2AX</text>
<text x="8.20" y="100.00" font-size="9.2" text-anchor="middle" fill="#1a1a1a" stroke="#1a1a1a" stroke-width="0.1" transform="rotate(-90 8.20 100.00)">γH2AX(MFI)</text>
<polyline points="41.60,55.50 41.60,44.10 74.50,44.10 74.50,48.60" stroke="#444" stroke-width="0.9" fill="none"/>
<text x="58.05" y="43.50" font-size="9.2" text-anchor="middle" fill="#1a1a1a" stroke="#1a1a1a" stroke-width="0.1">**</text>
<polyline points="41.60,73.70 41.60,61.00 56.60,61.00 56.60,65.70" stroke="#444" stroke-width="0.9" fill="none"/>
<text x="49.10" y="61.00" font-size="9.2" text-anchor="middle" fill="#1a1a1a" stroke="#1a1a1a" stroke-width="0.1">*</text>
<polyline points="59.10,65.70 59.10,61.00 74.50,61.00 74.50,67.00" stroke="#444" stroke-width="0.9" fill="none"/>
<text x="66.80" y="57.80" font-size="9.2" text-anchor="middle" fill="#1a1a1a" stroke="#1a1a1a" stroke-width="0.1">ns</text>
<line x1="32.40" y1="183.00" x2="32.40" y2="263.75" stroke="#1a1a1a" stroke-width="1.0"/>
<line x1="29.20" y1="263.30" x2="32.40" y2="263.30" stroke="#1a1a1a" stroke-width="0.9"/>
<text x="27.90" y="265.80" font-size="9.2" text-anchor="end" fill="#1a1a1a" stroke="#1a1a1a" stroke-width="0.1">0</text>
<line x1="29.20" y1="247.24" x2="32.40" y2="247.24" stroke="#1a1a1a" stroke-width="0.9"/>
<text x="27.90" y="249.74" font-size="9.2" text-anchor="end" fill="#1a1a1a" stroke="#1a1a1a" stroke-width="0.1">20</text>
<line x1="29.20" y1="231.18" x2="32.40" y2="231.18" stroke="#1a1a1a" stroke-width="0.9"/>
<text x="27.90" y="233.68" font-size="9.2" text-anchor="end" fill="#1a1a1a" stroke="#1a1a1a" stroke-width="0.1">40</text>
<line x1="29.20" y1="215.12" x2="32.40" y2="215.12" stroke="#1a1a1a" stroke-width="0.9"/>
<text x="27.90" y="217.62" font-size="9.2" text-anchor="end" fill="#1a1a1a" stroke="#1a1a1a" stroke-width="0.1">60</text>
<line x1="29.20" y1="199.06" x2="32.40" y2="199.06" stroke="#1a1a1a" stroke-width="0.9"/>
<text x="27.90" y="201.56" font-size="9.2" text-anchor="end" fill="#1a1a1a" stroke="#1a1a1a" stroke-width="0.1">80</text>
<line x1="29.20" y1="183.00" x2="32.40" y2="183.00" stroke="#1a1a1a" stroke-width="0.9"/>
<text x="27.90" y="185.50" font-size="9.2" text-anchor="end" fill="#1a1a1a" stroke="#1a1a1a" stroke-width="0.1">100</text>
<line x1="29.20" y1="263.30" x2="85.40" y2="263.30" stroke="#1a1a1a" stroke-width="0.9"/>
<line x1="42.50" y1="263.30" x2="42.50" y2="265.80" stroke="#1a1a1a" stroke-width="0.8"/>
<line x1="59.10" y1="263.30" x2="59.10" y2="265.80" stroke="#1a1a1a" stroke-width="0.8"/>
<line x1="75.60" y1="263.30" x2="75.60" y2="265.80" stroke="#1a1a1a" stroke-width="0.8"/>
<path d="M37.70,263.30 L37.70,195.05 L48.50,195.05 L48.50,263.30" fill="#fff" stroke="#1a1a1a" stroke-width="1.0"/>
<line x1="43.10" y1="183.00" x2="43.10" y2="207.00" stroke="#1a1a1a" stroke-width="0.9"/>
<line x1="41.10" y1="183.00" x2="45.10" y2="183.00" stroke="#1a1a1a" stroke-width="0.9"/>
<line x1="41.10" y1="207.00" x2="45.10" y2="207.00" stroke="#1a1a1a" stroke-width="0.9"/>
<circle cx="40.10" cy="205.00" r="1.2" stroke="#1a1a1a" stroke-width="0.9" fill="none"/>
<circle cx="42.10" cy="205.50" r="1.2" stroke="#1a1a1a" stroke-width="0.9" fill="none"/>
<circle cx="44.10" cy="205.00" r="1.2" stroke="#1a1a1a" stroke-width="0.9" fill="none"/>
<circle cx="46.10" cy="204.50" r="1.2" stroke="#1a1a1a" stroke-width="0.9" fill="none"/>
<circle cx="43.10" cy="199.50" r="1.2" stroke="#1a1a1a" stroke-width="0.9" fill="none"/>
<circle cx="43.10" cy="191.00" r="1.2" stroke="#1a1a1a" stroke-width="0.9" fill="none"/>
<circle cx="43.10" cy="185.50" r="1.2" stroke="#1a1a1a" stroke-width="0.9" fill="none"/>
<circle cx="43.10" cy="183.50" r="1.2" stroke="#1a1a1a" stroke-width="0.9" fill="none"/>
<path d="M54.00,263.30 L54.00,262.50 L64.80,262.50 L64.80,263.30" fill="#fff" stroke="#e8282c" stroke-width="1.0"/>
<circle cx="56.40" cy="263.00" r="1.3" stroke="#ee2c1c" stroke-width="0.9" fill="#ee2c1c"/>
<circle cx="57.90" cy="262.20" r="1.3" stroke="#ee2c1c" stroke-width="0.9" fill="#ee2c1c"/>
<circle cx="59.40" cy="263.00" r="1.3" stroke="#ee2c1c" stroke-width="0.9" fill="#ee2c1c"/>
<circle cx="60.90" cy="262.20" r="1.3" stroke="#ee2c1c" stroke-width="0.9" fill="#ee2c1c"/>
<circle cx="62.40" cy="263.00" r="1.3" stroke="#ee2c1c" stroke-width="0.9" fill="#ee2c1c"/>
<path d="M70.20,263.30 L70.20,261.00 L81.00,261.00 L81.00,263.30" fill="#fff" stroke="#e83ce8" stroke-width="1.0"/>
<line x1="75.60" y1="256.00" x2="75.60" y2="263.00" stroke="#e83ce8" stroke-width="0.9"/>
<line x1="73.60" y1="256.00" x2="77.60" y2="256.00" stroke="#e83ce8" stroke-width="0.9"/>
<line x1="73.60" y1="263.00" x2="77.60" y2="263.00" stroke="#e83ce8" stroke-width="0.9"/>
<circle cx="72.60" cy="262.60" r="1.2" stroke="#e83ce8" stroke-width="0.9" fill="none"/>
<circle cx="74.60" cy="262.00" r="1.2" stroke="#e83ce8" stroke-width="0.9" fill="none"/>
<circle cx="76.60" cy="262.60" r="1.2" stroke="#e83ce8" stroke-width="0.9" fill="none"/>
<circle cx="78.60" cy="262.60" r="1.2" stroke="#e83ce8" stroke-width="0.9" fill="none"/>
<circle cx="75.60" cy="251.60" r="1.2" stroke="#e83ce8" stroke-width="0.9" fill="none"/>
<text x="8.60" y="223.00" font-size="9.2" text-anchor="middle" fill="#1a1a1a" stroke="#1a1a1a" stroke-width="0.1" transform="rotate(-90 8.60 223.00)">LDHB%</text>
<polyline points="42.30,164.70 42.30,160.00 75.60,160.00 75.60,228.70" stroke="#444" stroke-width="0.9" fill="none"/>
<text x="58.95" y="158.40" font-size="9.2" text-anchor="middle" fill="#1a1a1a" stroke="#1a1a1a" stroke-width="0.1">****</text>
<polyline points="42.30,180.00 42.30,174.20 59.60,174.20 59.60,227.00" stroke="#444" stroke-width="0.9" fill="none"/>
<text x="50.95" y="172.50" font-size="9.2" text-anchor="middle" fill="#1a1a1a" stroke="#1a1a1a" stroke-width="0.1">****</text>
<polyline points="59.10,256.00 59.10,233.10 75.60,233.10 75.60,247.30" stroke="#444" stroke-width="0.9" fill="none"/>
<text x="67.35" y="229.90" font-size="9.2" text-anchor="middle" fill="#1a1a1a" stroke="#1a1a1a" stroke-width="0.1">ns</text>
<text x="46.50" y="274.50" font-size="9.2" text-anchor="end" fill="#1a1a1a" stroke="#1a1a1a" stroke-width="0.1" transform="rotate(-45 46.50 274.50)">shCTRL</text>
<text x="63.00" y="274.00" font-size="9.2" text-anchor="end" fill="#1a1a1a" stroke="#1a1a1a" stroke-width="0.1" transform="rotate(-45 63.00 274.00)">shLDHB-1</text>
<text x="81.30" y="274.00" font-size="9.2" text-anchor="end" fill="#1a1a1a" stroke="#1a1a1a" stroke-width="0.1" transform="rotate(-45 81.30 274.00)">shLDHB-2</text>
<line x1="342.00" y1="432.65" x2="342.00" y2="523.45" stroke="#1a1a1a" stroke-width="1.0"/>
<line x1="338.80" y1="523.00" x2="342.00" y2="523.00" stroke="#1a1a1a" stroke-width="0.9"/>
<text x="337.50" y="525.50" font-size="9" text-anchor="end" fill="#1a1a1a" stroke="#1a1a1a" stroke-width="0.1">0</text>
<line x1="338.80" y1="504.93" x2="342.00" y2="504.93" stroke="#1a1a1a" stroke-width="0.9"/>
<text x="337.50" y="507.43" font-size="9" text-anchor="end" fill="#1a1a1a" stroke="#1a1a1a" stroke-width="0.1">20</text>
<line x1="338.80" y1="486.86" x2="342.00" y2="486.86" stroke="#1a1a1a" stroke-width="0.9"/>
<text x="337.50" y="489.36" font-size="9" text-anchor="end" fill="#1a1a1a" stroke="#1a1a1a" stroke-width="0.1">40</text>
<line x1="338.80" y1="468.79" x2="342.00" y2="468.79" stroke="#1a1a1a" stroke-width="0.9"/>
<text x="337.50" y="471.29" font-size="9" text-anchor="end" fill="#1a1a1a" stroke="#1a1a1a" stroke-width="0.1">60</text>
<line x1="338.80" y1="450.72" x2="342.00" y2="450.72" stroke="#1a1a1a" stroke-width="0.9"/>
<text x="337.50" y="453.22" font-size="9" text-anchor="end" fill="#1a1a1a" stroke="#1a1a1a" stroke-width="0.1">80</text>
<line x1="338.80" y1="432.65" x2="342.00" y2="432.65" stroke="#1a1a1a" stroke-width="0.9"/>
<text x="337.50" y="435.15" font-size="9" text-anchor="end" fill="#1a1a1a" stroke="#1a1a1a" stroke-width="0.1">100</text>
<line x1="338.00" y1="523.00" x2="478.60" y2="523.00" stroke="#1a1a1a" stroke-width="0.9"/>
<path d="M346.10,523.00 L346.10,454.79 L351.50,454.79 L351.50,523.00" fill="#fff" stroke="#1a1a1a" stroke-width="1.0"/>
<line x1="348.80" y1="453.88" x2="348.80" y2="455.69" stroke="#1a1a1a" stroke-width="0.9"/>
<line x1="347.00" y1="453.88" x2="350.60" y2="453.88" stroke="#1a1a1a" stroke-width="0.9"/>
<line x1="347.00" y1="455.69" x2="350.60" y2="455.69" stroke="#1a1a1a" stroke-width="0.9"/>
<circle cx="347.20" cy="454.51" r="1.2" stroke="#1a1a1a" stroke-width="0.9" fill="none"/>
<circle cx="350.40" cy="455.06" r="1.2" stroke="#1a1a1a" stroke-width="0.9" fill="none"/>
<circle cx="348.80" cy="453.88" r="1.2" stroke="#1a1a1a" stroke-width="0.9" fill="none"/>
<path d="M355.90,523.00 L355.90,456.77 L361.30,456.77 L361.30,523.00" fill="#fff" stroke="#e8282c" stroke-width="1.0"/>
<line x1="358.60" y1="453.61" x2="358.60" y2="459.94" stroke="#e8282c" stroke-width="0.9"/>
<line x1="356.80" y1="453.61" x2="360.40" y2="453.61" stroke="#e8282c" stroke-width="0.9"/>
<line x1="356.80" y1="459.94" x2="360.40" y2="459.94" stroke="#e8282c" stroke-width="0.9"/>
<circle cx="357.00" cy="455.82" r="1.2" stroke="#e8282c" stroke-width="0.9" fill="none"/>
<circle cx="360.20" cy="457.72" r="1.2" stroke="#e8282c" stroke-width="0.9" fill="none"/>
<circle cx="358.60" cy="453.61" r="1.2" stroke="#e8282c" stroke-width="0.9" fill="none"/>
<path d="M365.90,523.00 L365.90,455.69 L371.30,455.69 L371.30,523.00" fill="#fff" stroke="#2424e6" stroke-width="1.0"/>
<line x1="368.60" y1="453.43" x2="368.60" y2="457.95" stroke="#2424e6" stroke-width="0.9"/>
<line x1="366.80" y1="453.43" x2="370.40" y2="453.43" stroke="#2424e6" stroke-width="0.9"/>
<line x1="366.80" y1="457.95" x2="370.40" y2="457.95" stroke="#2424e6" stroke-width="0.9"/>
<circle cx="367.00" cy="455.01" r="1.2" stroke="#2424e6" stroke-width="0.9" fill="none"/>
<circle cx="370.20" cy="456.37" r="1.2" stroke="#2424e6" stroke-width="0.9" fill="none"/>
<circle cx="368.60" cy="453.43" r="1.2" stroke="#2424e6" stroke-width="0.9" fill="none"/>
<path d="M375.90,523.00 L375.90,454.79 L381.30,454.79 L381.30,523.00" fill="#fff" stroke="#a87a3c" stroke-width="1.0"/>
<line x1="378.60" y1="452.98" x2="378.60" y2="456.59" stroke="#a87a3c" stroke-width="0.9"/>
<line x1="376.80" y1="452.98" x2="380.40" y2="452.98" stroke="#a87a3c" stroke-width="0.9"/>
<line x1="376.80" y1="456.59" x2="380.40" y2="456.59" stroke="#a87a3c" stroke-width="0.9"/>
<circle cx="377.00" cy="454.24" r="1.2" stroke="#a87a3c" stroke-width="0.9" fill="none"/>
<circle cx="380.20" cy="455.33" r="1.2" stroke="#a87a3c" stroke-width="0.9" fill="none"/>
<circle cx="378.60" cy="452.98" r="1.2" stroke="#a87a3c" stroke-width="0.9" fill="none"/>
<line x1="363.70" y1="523.00" x2="363.70" y2="525.40" stroke="#1a1a1a" stroke-width="0.8"/>
<text x="363.70" y="535.40" font-size="9" text-anchor="middle" fill="#1a1a1a" stroke="#1a1a1a" stroke-width="0.1">G1</text>
<polyline points="348.40,447.60 348.40,441.60 358.60,441.60 358.60,446.00" stroke="#444" stroke-width="0.9" fill="none"/>
<text x="353.50" y="438.40" font-size="9" text-anchor="middle" fill="#1a1a1a" stroke="#1a1a1a" stroke-width="0.1">ns</text>
<polyline points="348.40,432.00 348.40,425.60 368.60,425.60 368.60,448.00" stroke="#444" stroke-width="0.9" fill="none"/>
<text x="358.50" y="422.40" font-size="9" text-anchor="middle" fill="#1a1a1a" stroke="#1a1a1a" stroke-width="0.1">ns</text>
<polyline points="348.40,420.00 348.40,409.40 378.60,409.40 378.60,448.00" stroke="#444" stroke-width="0.9" fill="none"/>
<text x="365.90" y="406.20" font-size="9" text-anchor="middle" fill="#1a1a1a" stroke="#1a1a1a" stroke-width="0.1">ns</text>
<path d="M392.90,523.00 L392.90,512.16 L398.30,512.16 L398.30,523.00" fill="#fff" stroke="#1a1a1a" stroke-width="1.0"/>
<line x1="395.60" y1="509.45" x2="395.60" y2="514.87" stroke="#1a1a1a" stroke-width="0.9"/>
<line x1="393.80" y1="509.45" x2="397.40" y2="509.45" stroke="#1a1a1a" stroke-width="0.9"/>
<line x1="393.80" y1="514.87" x2="397.40" y2="514.87" stroke="#1a1a1a" stroke-width="0.9"/>
<circle cx="394.00" cy="511.34" r="1.2" stroke="#1a1a1a" stroke-width="0.9" fill="none"/>
<circle cx="397.20" cy="512.97" r="1.2" stroke="#1a1a1a" stroke-width="0.9" fill="none"/>
<circle cx="395.60" cy="509.45" r="1.2" stroke="#1a1a1a" stroke-width="0.9" fill="none"/>
<path d="M402.90,523.00 L402.90,510.80 L408.30,510.80 L408.30,523.00" fill="#fff" stroke="#e8282c" stroke-width="1.0"/>
<line x1="405.60" y1="508.09" x2="405.60" y2="513.51" stroke="#e8282c" stroke-width="0.9"/>
<line x1="403.80" y1="508.09" x2="407.40" y2="508.09" stroke="#e8282c" stroke-width="0.9"/>
<line x1="403.80" y1="513.51" x2="407.40" y2="513.51" stroke="#e8282c" stroke-width="0.9"/>
<circle cx="404.00" cy="509.99" r="1.2" stroke="#e8282c" stroke-width="0.9" fill="none"/>
<circle cx="407.20" cy="511.62" r="1.2" stroke="#e8282c" stroke-width="0.9" fill="none"/>
<circle cx="405.60" cy="508.09" r="1.2" stroke="#e8282c" stroke-width="0.9" fill="none"/>
<path d="M412.70,523.00 L412.70,511.71 L418.10,511.71 L418.10,523.00" fill="#fff" stroke="#2424e6" stroke-width="1.0"/>
<line x1="415.40" y1="509.90" x2="415.40" y2="513.51" stroke="#2424e6" stroke-width="0.9"/>
<line x1="413.60" y1="509.90" x2="417.20" y2="509.90" stroke="#2424e6" stroke-width="0.9"/>
<line x1="413.60" y1="513.51" x2="417.20" y2="513.51" stroke="#2424e6" stroke-width="0.9"/>
<circle cx="413.80" cy="511.16" r="1.2" stroke="#2424e6" stroke-width="0.9" fill="none"/>
<circle cx="417.00" cy="512.25" r="1.2" stroke="#2424e6" stroke-width="0.9" fill="none"/>
<circle cx="415.40" cy="509.90" r="1.2" stroke="#2424e6" stroke-width="0.9" fill="none"/>
<path d="M422.90,523.00 L422.90,513.06 L428.30,513.06 L428.30,523.00" fill="#fff" stroke="#a87a3c" stroke-width="1.0"/>
<line x1="425.60" y1="510.35" x2="425.60" y2="515.77" stroke="#a87a3c" stroke-width="0.9"/>
<line x1="423.80" y1="510.35" x2="427.40" y2="510.35" stroke="#a87a3c" stroke-width="0.9"/>
<line x1="423.80" y1="515.77" x2="427.40" y2="515.77" stroke="#a87a3c" stroke-width="0.9"/>
<circle cx="424.00" cy="512.25" r="1.2" stroke="#a87a3c" stroke-width="0.9" fill="none"/>
<circle cx="427.20" cy="513.87" r="1.2" stroke="#a87a3c" stroke-width="0.9" fill="none"/>
<circle cx="425.60" cy="510.35" r="1.2" stroke="#a87a3c" stroke-width="0.9" fill="none"/>
<line x1="410.60" y1="523.00" x2="410.60" y2="525.40" stroke="#1a1a1a" stroke-width="0.8"/>
<text x="410.60" y="535.40" font-size="9" text-anchor="middle" fill="#1a1a1a" stroke="#1a1a1a" stroke-width="0.1">S</text>
<polyline points="395.00,504.00 395.00,498.00 405.40,498.00 405.40,503.00" stroke="#444" stroke-width="0.9" fill="none"/>
<text x="400.20" y="494.80" font-size="9" text-anchor="middle" fill="#1a1a1a" stroke="#1a1a1a" stroke-width="0.1">ns</text>
<polyline points="395.00,488.00 395.00,482.40 415.40,482.40 415.40,505.00" stroke="#444" stroke-width="0.9" fill="none"/>
<text x="405.20" y="479.20" font-size="9" text-anchor="middle" fill="#1a1a1a" stroke="#1a1a1a" stroke-width="0.1">ns</text>
<polyline points="395.00,471.00 395.00,465.40 425.40,465.40 425.40,505.00" stroke="#444" stroke-width="0.9" fill="none"/>
<text x="410.20" y="462.20" font-size="9" text-anchor="middle" fill="#1a1a1a" stroke="#1a1a1a" stroke-width="0.1">ns</text>
<path d="M439.10,523.00 L439.10,513.06 L444.50,513.06 L444.50,523.00" fill="#fff" stroke="#1a1a1a" stroke-width="1.0"/>
<line x1="441.80" y1="509.45" x2="441.80" y2="516.68" stroke="#1a1a1a" stroke-width="0.9"/>
<line x1="440.00" y1="509.45" x2="443.60" y2="509.45" stroke="#1a1a1a" stroke-width="0.9"/>
<line x1="440.00" y1="516.68" x2="443.60" y2="516.68" stroke="#1a1a1a" stroke-width="0.9"/>
<circle cx="440.20" cy="511.98" r="1.2" stroke="#1a1a1a" stroke-width="0.9" fill="none"/>
<circle cx="443.40" cy="514.15" r="1.2" stroke="#1a1a1a" stroke-width="0.9" fill="none"/>
<circle cx="441.80" cy="509.45" r="1.2" stroke="#1a1a1a" stroke-width="0.9" fill="none"/>
<path d="M449.10,523.00 L449.10,513.06 L454.50,513.06 L454.50,523.00" fill="#fff" stroke="#e8282c" stroke-width="1.0"/>
<line x1="451.80" y1="509.45" x2="451.80" y2="516.68" stroke="#e8282c" stroke-width="0.9"/>
<line x1="450.00" y1="509.45" x2="453.60" y2="509.45" stroke="#e8282c" stroke-width="0.9"/>
<line x1="450.00" y1="516.68" x2="453.60" y2="516.68" stroke="#e8282c" stroke-width="0.9"/>
<circle cx="450.20" cy="511.98" r="1.2" stroke="#e8282c" stroke-width="0.9" fill="none"/>
<circle cx="453.40" cy="514.15" r="1.2" stroke="#e8282c" stroke-width="0.9" fill="none"/>
<circle cx="451.80" cy="509.45" r="1.2" stroke="#e8282c" stroke-width="0.9" fill="none"/>
<path d="M459.10,523.00 L459.10,513.06 L464.50,513.06 L464.50,523.00" fill="#fff" stroke="#2424e6" stroke-width="1.0"/>
<line x1="461.80" y1="510.35" x2="461.80" y2="515.77" stroke="#2424e6" stroke-width="0.9"/>
<line x1="460.00" y1="510.35" x2="463.60" y2="510.35" stroke="#2424e6" stroke-width="0.9"/>
<line x1="460.00" y1="515.77" x2="463.60" y2="515.77" stroke="#2424e6" stroke-width="0.9"/>
<circle cx="460.20" cy="512.25" r="1.2" stroke="#2424e6" stroke-width="0.9" fill="none"/>
<circle cx="463.40" cy="513.87" r="1.2" stroke="#2424e6" stroke-width="0.9" fill="none"/>
<circle cx="461.80" cy="510.35" r="1.2" stroke="#2424e6" stroke-width="0.9" fill="none"/>
<path d="M469.10,523.00 L469.10,513.06 L474.50,513.06 L474.50,523.00" fill="#fff" stroke="#a87a3c" stroke-width="1.0"/>
<line x1="471.80" y1="510.35" x2="471.80" y2="515.77" stroke="#a87a3c" stroke-width="0.9"/>
<line x1="470.00" y1="510.35" x2="473.60" y2="510.35" stroke="#a87a3c" stroke-width="0.9"/>
<line x1="470.00" y1="515.77" x2="473.60" y2="515.77" stroke="#a87a3c" stroke-width="0.9"/>
<circle cx="470.20" cy="512.25" r="1.2" stroke="#a87a3c" stroke-width="0.9" fill="none"/>
<circle cx="473.40" cy="513.87" r="1.2" stroke="#a87a3c" stroke-width="0.9" fill="none"/>
<circle cx="471.80" cy="510.35" r="1.2" stroke="#a87a3c" stroke-width="0.9" fill="none"/>
<line x1="456.80" y1="523.00" x2="456.80" y2="525.40" stroke="#1a1a1a" stroke-width="0.8"/>
<text x="456.80" y="535.40" font-size="9" text-anchor="middle" fill="#1a1a1a" stroke="#1a1a1a" stroke-width="0.1">G2_M</text>
<polyline points="442.00,498.00 442.00,492.40 452.00,492.40 452.00,503.00" stroke="#444" stroke-width="0.9" fill="none"/>
<text x="447.00" y="489.20" font-size="9" text-anchor="middle" fill="#1a1a1a" stroke="#1a1a1a" stroke-width="0.1">ns</text>
<polyline points="442.00,477.00 442.00,471.00 462.00,471.00 462.00,505.00" stroke="#444" stroke-width="0.9" fill="none"/>
<text x="452.00" y="467.80" font-size="9" text-anchor="middle" fill="#1a1a1a" stroke="#1a1a1a" stroke-width="0.1">ns</text>
<polyline points="442.00,461.00 442.00,455.60 472.00,455.60 472.00,505.00" stroke="#444" stroke-width="0.9" fill="none"/>
<text x="457.00" y="452.40" font-size="9" text-anchor="middle" fill="#1a1a1a" stroke="#1a1a1a" stroke-width="0.1">ns</text>
<text x="413.40" y="545.00" font-size="9.2" text-anchor="middle" fill="#1a1a1a" stroke="#1a1a1a" stroke-width="0.1">Cell Cycle</text>
<text x="319.50" y="478.00" font-size="9" text-anchor="middle" fill="#1a1a1a" stroke="#1a1a1a" stroke-width="0.1" transform="rotate(-90 319.50 478.00)">%</text>
<text x="382.00" y="381.50" font-size="8.95" text-anchor="start" fill="#1a1a1a" stroke="#1a1a1a" stroke-width="0.1">Cell cycle-30 min</text>
<circle cx="396.00" cy="398.40" r="1.45" stroke="#1a1a1a" stroke-width="0.9" fill="none"/>
<text x="399.00" y="401.40" font-size="9.5" text-anchor="start" fill="#1a1a1a" stroke="#1a1a1a" stroke-width="0.1">A549shCTRL_0Gy</text>
<circle cx="396.00" cy="409.60" r="1.45" stroke="#e8282c" stroke-width="0.9" fill="none"/>
<text x="399.00" y="412.60" font-size="9.5" text-anchor="start" fill="#1a1a1a" stroke="#1a1a1a" stroke-width="0.1">A549shLDHB-1_0Gy</text>
<circle cx="396.00" cy="421.00" r="1.45" stroke="#2424e6" stroke-width="0.9" fill="none"/>
<text x="399.00" y="424.00" font-size="9.5" text-anchor="start" fill="#1a1a1a" stroke="#1a1a1a" stroke-width="0.1">A549shCTRL_4Gy</text>
<circle cx="396.00" cy="432.40" r="1.45" stroke="#a87a3c" stroke-width="0.9" fill="none"/>
<text x="399.00" y="435.40" font-size="9.5" text-anchor="start" fill="#1a1a1a" stroke="#1a1a1a" stroke-width="0.1">A549shLDHB-1_4Gy</text>
<line x1="526.60" y1="431.00" x2="526.60" y2="522.45" stroke="#1a1a1a" stroke-width="1.0"/>
<line x1="523.40" y1="522.00" x2="526.60" y2="522.00" stroke="#1a1a1a" stroke-width="0.9"/>
<text x="522.10" y="524.50" font-size="9" text-anchor="end" fill="#1a1a1a" stroke="#1a1a1a" stroke-width="0.1">0</text>
<line x1="523.40" y1="499.25" x2="526.60" y2="499.25" stroke="#1a1a1a" stroke-width="0.9"/>
<text x="522.10" y="501.75" font-size="9" text-anchor="end" fill="#1a1a1a" stroke="#1a1a1a" stroke-width="0.1">20</text>
<line x1="523.40" y1="476.50" x2="526.60" y2="476.50" stroke="#1a1a1a" stroke-width="0.9"/>
<text x="522.10" y="479.00" font-size="9" text-anchor="end" fill="#1a1a1a" stroke="#1a1a1a" stroke-width="0.1">40</text>
<line x1="523.40" y1="453.75" x2="526.60" y2="453.75" stroke="#1a1a1a" stroke-width="0.9"/>
<text x="522.10" y="456.25" font-size="9" text-anchor="end" fill="#1a1a1a" stroke="#1a1a1a" stroke-width="0.1">60</text>
<line x1="523.40" y1="431.00" x2="526.60" y2="431.00" stroke="#1a1a1a" stroke-width="0.9"/>
<text x="522.10" y="433.50" font-size="9" text-anchor="end" fill="#1a1a1a" stroke="#1a1a1a" stroke-width="0.1">80</text>
<line x1="523.60" y1="522.00" x2="663.00" y2="522.00" stroke="#1a1a1a" stroke-width="0.9"/>
<path d="M529.90,522.00 L529.90,446.93 L535.90,446.93 L535.90,522.00" fill="#fff" stroke="#1a1a1a" stroke-width="1.0"/>
<line x1="532.90" y1="444.08" x2="532.90" y2="449.77" stroke="#1a1a1a" stroke-width="0.9"/>
<line x1="531.10" y1="444.08" x2="534.70" y2="444.08" stroke="#1a1a1a" stroke-width="0.9"/>
<line x1="531.10" y1="449.77" x2="534.70" y2="449.77" stroke="#1a1a1a" stroke-width="0.9"/>
<circle cx="531.30" cy="446.07" r="1.2" stroke="#1a1a1a" stroke-width="0.9" fill="none"/>
<circle cx="534.50" cy="447.78" r="1.2" stroke="#1a1a1a" stroke-width="0.9" fill="none"/>
<circle cx="532.90" cy="444.08" r="1.2" stroke="#1a1a1a" stroke-width="0.9" fill="none"/>
<path d="M539.90,522.00 L539.90,451.48 L545.90,451.48 L545.90,522.00" fill="#fff" stroke="#e8282c" stroke-width="1.0"/>
<line x1="542.90" y1="449.77" x2="542.90" y2="453.18" stroke="#e8282c" stroke-width="0.9"/>
<line x1="541.10" y1="449.77" x2="544.70" y2="449.77" stroke="#e8282c" stroke-width="0.9"/>
<line x1="541.10" y1="453.18" x2="544.70" y2="453.18" stroke="#e8282c" stroke-width="0.9"/>
<circle cx="541.30" cy="450.96" r="1.2" stroke="#e8282c" stroke-width="0.9" fill="none"/>
<circle cx="544.50" cy="451.99" r="1.2" stroke="#e8282c" stroke-width="0.9" fill="none"/>
<circle cx="542.90" cy="449.77" r="1.2" stroke="#e8282c" stroke-width="0.9" fill="none"/>
<path d="M549.50,522.00 L549.50,458.30 L555.50,458.30 L555.50,522.00" fill="#fff" stroke="#2424e6" stroke-width="1.0"/>
<line x1="552.50" y1="454.89" x2="552.50" y2="461.71" stroke="#2424e6" stroke-width="0.9"/>
<line x1="550.70" y1="454.89" x2="554.30" y2="454.89" stroke="#2424e6" stroke-width="0.9"/>
<line x1="550.70" y1="461.71" x2="554.30" y2="461.71" stroke="#2424e6" stroke-width="0.9"/>
<circle cx="550.90" cy="457.28" r="1.2" stroke="#2424e6" stroke-width="0.9" fill="none"/>
<circle cx="554.10" cy="459.32" r="1.2" stroke="#2424e6" stroke-width="0.9" fill="none"/>
<circle cx="552.50" cy="454.89" r="1.2" stroke="#2424e6" stroke-width="0.9" fill="none"/>
<path d="M559.90,522.00 L559.90,463.42 L565.90,463.42 L565.90,522.00" fill="#fff" stroke="#a87a3c" stroke-width="1.0"/>
<line x1="562.90" y1="461.14" x2="562.90" y2="465.69" stroke="#a87a3c" stroke-width="0.9"/>
<line x1="561.10" y1="461.14" x2="564.70" y2="461.14" stroke="#a87a3c" stroke-width="0.9"/>
<line x1="561.10" y1="465.69" x2="564.70" y2="465.69" stroke="#a87a3c" stroke-width="0.9"/>
<circle cx="561.30" cy="462.74" r="1.2" stroke="#a87a3c" stroke-width="0.9" fill="none"/>
<circle cx="564.50" cy="464.10" r="1.2" stroke="#a87a3c" stroke-width="0.9" fill="none"/>
<circle cx="562.90" cy="461.14" r="1.2" stroke="#a87a3c" stroke-width="0.9" fill="none"/>
<line x1="547.90" y1="522.00" x2="547.90" y2="524.40" stroke="#1a1a1a" stroke-width="0.8"/>
<text x="547.90" y="534.40" font-size="9" text-anchor="middle" fill="#1a1a1a" stroke="#1a1a1a" stroke-width="0.1">G1</text>
<polyline points="533.00,438.00 533.00,432.40 543.00,432.40 543.00,445.00" stroke="#444" stroke-width="0.9" fill="none"/>
<text x="538.00" y="429.20" font-size="9" text-anchor="middle" fill="#1a1a1a" stroke="#1a1a1a" stroke-width="0.1">ns</text>
<polyline points="533.00,422.00 533.00,416.60 553.00,416.60 553.00,451.00" stroke="#444" stroke-width="0.9" fill="none"/>
<text x="543.00" y="415.30" font-size="9" text-anchor="middle" fill="#1a1a1a" stroke="#1a1a1a" stroke-width="0.1">*</text>
<polyline points="533.00,410.50 533.00,400.40 563.00,400.40 563.00,456.00" stroke="#444" stroke-width="0.9" fill="none"/>
<text x="548.00" y="399.10" font-size="9" text-anchor="middle" fill="#1a1a1a" stroke="#1a1a1a" stroke-width="0.1">**</text>
<path d="M576.50,522.00 L576.50,503.23 L582.50,503.23 L582.50,522.00" fill="#fff" stroke="#1a1a1a" stroke-width="1.0"/>
<line x1="579.50" y1="499.25" x2="579.50" y2="507.21" stroke="#1a1a1a" stroke-width="0.9"/>
<line x1="577.70" y1="499.25" x2="581.30" y2="499.25" stroke="#1a1a1a" stroke-width="0.9"/>
<line x1="577.70" y1="507.21" x2="581.30" y2="507.21" stroke="#1a1a1a" stroke-width="0.9"/>
<circle cx="577.90" cy="502.04" r="1.2" stroke="#1a1a1a" stroke-width="0.9" fill="none"/>
<circle cx="581.10" cy="504.43" r="1.2" stroke="#1a1a1a" stroke-width="0.9" fill="none"/>
<circle cx="579.50" cy="499.25" r="1.2" stroke="#1a1a1a" stroke-width="0.9" fill="none"/>
<path d="M586.50,522.00 L586.50,503.80 L592.50,503.80 L592.50,522.00" fill="#fff" stroke="#e8282c" stroke-width="1.0"/>
<line x1="589.50" y1="499.82" x2="589.50" y2="507.78" stroke="#e8282c" stroke-width="0.9"/>
<line x1="587.70" y1="499.82" x2="591.30" y2="499.82" stroke="#e8282c" stroke-width="0.9"/>
<line x1="587.70" y1="507.78" x2="591.30" y2="507.78" stroke="#e8282c" stroke-width="0.9"/>
<circle cx="587.90" cy="502.61" r="1.2" stroke="#e8282c" stroke-width="0.9" fill="none"/>
<circle cx="591.10" cy="504.99" r="1.2" stroke="#e8282c" stroke-width="0.9" fill="none"/>
<circle cx="589.50" cy="499.82" r="1.2" stroke="#e8282c" stroke-width="0.9" fill="none"/>
<path d="M596.50,522.00 L596.50,502.09 L602.50,502.09 L602.50,522.00" fill="#fff" stroke="#2424e6" stroke-width="1.0"/>
<line x1="599.50" y1="499.82" x2="599.50" y2="504.37" stroke="#2424e6" stroke-width="0.9"/>
<line x1="597.70" y1="499.82" x2="601.30" y2="499.82" stroke="#2424e6" stroke-width="0.9"/>
<line x1="597.70" y1="504.37" x2="601.30" y2="504.37" stroke="#2424e6" stroke-width="0.9"/>
<circle cx="597.90" cy="501.41" r="1.2" stroke="#2424e6" stroke-width="0.9" fill="none"/>
<circle cx="601.10" cy="502.78" r="1.2" stroke="#2424e6" stroke-width="0.9" fill="none"/>
<circle cx="599.50" cy="499.82" r="1.2" stroke="#2424e6" stroke-width="0.9" fill="none"/>
<path d="M606.50,522.00 L606.50,506.64 L612.50,506.64 L612.50,522.00" fill="#fff" stroke="#a87a3c" stroke-width="1.0"/>
<line x1="609.50" y1="497.54" x2="609.50" y2="515.74" stroke="#a87a3c" stroke-width="0.9"/>
<line x1="607.70" y1="497.54" x2="611.30" y2="497.54" stroke="#a87a3c" stroke-width="0.9"/>
<line x1="607.70" y1="515.74" x2="611.30" y2="515.74" stroke="#a87a3c" stroke-width="0.9"/>
<circle cx="607.90" cy="503.91" r="1.2" stroke="#a87a3c" stroke-width="0.9" fill="none"/>
<circle cx="611.10" cy="509.37" r="1.2" stroke="#a87a3c" stroke-width="0.9" fill="none"/>
<circle cx="609.50" cy="497.54" r="1.2" stroke="#a87a3c" stroke-width="0.9" fill="none"/>
<line x1="594.50" y1="522.00" x2="594.50" y2="524.40" stroke="#1a1a1a" stroke-width="0.8"/>
<text x="594.50" y="534.40" font-size="9" text-anchor="middle" fill="#1a1a1a" stroke="#1a1a1a" stroke-width="0.1">S</text>
<polyline points="579.40,494.00 579.40,488.60 589.60,488.60 589.60,495.00" stroke="#444" stroke-width="0.9" fill="none"/>
<text x="584.50" y="485.40" font-size="9" text-anchor="middle" fill="#1a1a1a" stroke="#1a1a1a" stroke-width="0.1">ns</text>
<polyline points="579.40,474.00 579.40,468.60 599.60,468.60 599.60,495.00" stroke="#444" stroke-width="0.9" fill="none"/>
<text x="589.50" y="465.40" font-size="9" text-anchor="middle" fill="#1a1a1a" stroke="#1a1a1a" stroke-width="0.1">ns</text>
<polyline points="579.40,461.00 579.40,455.00 609.40,455.00 609.40,491.00" stroke="#444" stroke-width="0.9" fill="none"/>
<text x="594.40" y="451.80" font-size="9" text-anchor="middle" fill="#1a1a1a" stroke="#1a1a1a" stroke-width="0.1">ns</text>
<path d="M623.50,522.00 L623.50,504.37 L629.50,504.37 L629.50,522.00" fill="#fff" stroke="#1a1a1a" stroke-width="1.0"/>
<line x1="626.50" y1="502.66" x2="626.50" y2="506.07" stroke="#1a1a1a" stroke-width="0.9"/>
<line x1="624.70" y1="502.66" x2="628.30" y2="502.66" stroke="#1a1a1a" stroke-width="0.9"/>
<line x1="624.70" y1="506.07" x2="628.30" y2="506.07" stroke="#1a1a1a" stroke-width="0.9"/>
<circle cx="624.90" cy="503.86" r="1.2" stroke="#1a1a1a" stroke-width="0.9" fill="none"/>
<circle cx="628.10" cy="504.88" r="1.2" stroke="#1a1a1a" stroke-width="0.9" fill="none"/>
<circle cx="626.50" cy="502.66" r="1.2" stroke="#1a1a1a" stroke-width="0.9" fill="none"/>
<path d="M633.50,522.00 L633.50,499.25 L639.50,499.25 L639.50,522.00" fill="#fff" stroke="#e8282c" stroke-width="1.0"/>
<line x1="636.50" y1="495.84" x2="636.50" y2="502.66" stroke="#e8282c" stroke-width="0.9"/>
<line x1="634.70" y1="495.84" x2="638.30" y2="495.84" stroke="#e8282c" stroke-width="0.9"/>
<line x1="634.70" y1="502.66" x2="638.30" y2="502.66" stroke="#e8282c" stroke-width="0.9"/>
<circle cx="634.90" cy="498.23" r="1.2" stroke="#e8282c" stroke-width="0.9" fill="none"/>
<circle cx="638.10" cy="500.27" r="1.2" stroke="#e8282c" stroke-width="0.9" fill="none"/>
<circle cx="636.50" cy="495.84" r="1.2" stroke="#e8282c" stroke-width="0.9" fill="none"/>
<path d="M643.10,522.00 L643.10,496.41 L649.10,496.41 L649.10,522.00" fill="#fff" stroke="#2424e6" stroke-width="1.0"/>
<line x1="646.10" y1="489.58" x2="646.10" y2="503.23" stroke="#2424e6" stroke-width="0.9"/>
<line x1="644.30" y1="489.58" x2="647.90" y2="489.58" stroke="#2424e6" stroke-width="0.9"/>
<line x1="644.30" y1="503.23" x2="647.90" y2="503.23" stroke="#2424e6" stroke-width="0.9"/>
<circle cx="644.50" cy="494.36" r="1.2" stroke="#2424e6" stroke-width="0.9" fill="none"/>
<circle cx="647.70" cy="498.45" r="1.2" stroke="#2424e6" stroke-width="0.9" fill="none"/>
<circle cx="646.10" cy="489.58" r="1.2" stroke="#2424e6" stroke-width="0.9" fill="none"/>
<path d="M653.10,522.00 L653.10,487.88 L659.10,487.88 L659.10,522.00" fill="#fff" stroke="#a87a3c" stroke-width="1.0"/>
<line x1="656.10" y1="483.32" x2="656.10" y2="492.43" stroke="#a87a3c" stroke-width="0.9"/>
<line x1="654.30" y1="483.32" x2="657.90" y2="483.32" stroke="#a87a3c" stroke-width="0.9"/>
<line x1="654.30" y1="492.43" x2="657.90" y2="492.43" stroke="#a87a3c" stroke-width="0.9"/>
<circle cx="654.50" cy="486.51" r="1.2" stroke="#a87a3c" stroke-width="0.9" fill="none"/>
<circle cx="657.70" cy="489.24" r="1.2" stroke="#a87a3c" stroke-width="0.9" fill="none"/>
<circle cx="656.10" cy="483.32" r="1.2" stroke="#a87a3c" stroke-width="0.9" fill="none"/>
<line x1="641.30" y1="522.00" x2="641.30" y2="524.40" stroke="#1a1a1a" stroke-width="0.8"/>
<text x="641.30" y="534.40" font-size="9" text-anchor="middle" fill="#1a1a1a" stroke="#1a1a1a" stroke-width="0.1">G2_M</text>
<polyline points="626.00,487.00 626.00,481.60 636.40,481.60 636.40,494.00" stroke="#444" stroke-width="0.9" fill="none"/>
<text x="631.20" y="478.40" font-size="9" text-anchor="middle" fill="#1a1a1a" stroke="#1a1a1a" stroke-width="0.1">ns</text>
<polyline points="626.00,474.00 626.00,468.00 646.40,468.00 646.40,487.00" stroke="#444" stroke-width="0.9" fill="none"/>
<text x="636.20" y="464.80" font-size="9" text-anchor="middle" fill="#1a1a1a" stroke="#1a1a1a" stroke-width="0.1">ns</text>
<polyline points="626.00,460.00 626.00,454.00 656.60,454.00 656.60,476.00" stroke="#444" stroke-width="0.9" fill="none"/>
<text x="641.30" y="452.70" font-size="9" text-anchor="middle" fill="#1a1a1a" stroke="#1a1a1a" stroke-width="0.1">*</text>
<text x="607.00" y="544.50" font-size="9.2" text-anchor="middle" fill="#1a1a1a" stroke="#1a1a1a" stroke-width="0.1">Cell Cycle</text>
<text x="505.00" y="476.00" font-size="9" text-anchor="middle" fill="#1a1a1a" stroke="#1a1a1a" stroke-width="0.1" transform="rotate(-90 505.00 476.00)">%</text>
<text x="573.60" y="381.50" font-size="8.95" text-anchor="start" fill="#1a1a1a" stroke="#1a1a1a" stroke-width="0.1">Cell cycle-6 h</text>
<circle cx="581.60" cy="398.00" r="1.45" stroke="#1a1a1a" stroke-width="0.9" fill="none"/>
<text x="584.60" y="401.00" font-size="9.5" text-anchor="start" fill="#1a1a1a" stroke="#1a1a1a" stroke-width="0.1">A549shCTRL_0Gy</text>
<circle cx="581.60" cy="409.40" r="1.45" stroke="#e8282c" stroke-width="0.9" fill="none"/>
<text x="584.60" y="412.40" font-size="9.5" text-anchor="start" fill="#1a1a1a" stroke="#1a1a1a" stroke-width="0.1">A549shLDHB-1_0Gy</text>
<circle cx="581.60" cy="420.60" r="1.45" stroke="#2424e6" stroke-width="0.9" fill="none"/>
<text x="584.60" y="423.60" font-size="9.5" text-anchor="start" fill="#1a1a1a" stroke="#1a1a1a" stroke-width="0.1">A549shCTRL_4Gy</text>
<circle cx="581.60" cy="432.00" r="1.45" stroke="#a87a3c" stroke-width="0.9" fill="none"/>
<text x="584.60" y="435.00" font-size="9.5" text-anchor="start" fill="#1a1a1a" stroke="#1a1a1a" stroke-width="0.1">A549shLDHB-1_4Gy</text>
<line x1="37.60" y1="684.60" x2="37.60" y2="775.65" stroke="#1a1a1a" stroke-width="1.0"/>
<line x1="34.40" y1="775.20" x2="37.60" y2="775.20" stroke="#1a1a1a" stroke-width="0.9"/>
<text x="33.10" y="777.70" font-size="9" text-anchor="end" fill="#1a1a1a" stroke="#1a1a1a" stroke-width="0.1">0</text>
<line x1="34.40" y1="757.08" x2="37.60" y2="757.08" stroke="#1a1a1a" stroke-width="0.9"/>
<text x="33.10" y="759.58" font-size="9" text-anchor="end" fill="#1a1a1a" stroke="#1a1a1a" stroke-width="0.1">20</text>
<line x1="34.40" y1="738.96" x2="37.60" y2="738.96" stroke="#1a1a1a" stroke-width="0.9"/>
<text x="33.10" y="741.46" font-size="9" text-anchor="end" fill="#1a1a1a" stroke="#1a1a1a" stroke-width="0.1">40</text>
<line x1="34.40" y1="720.84" x2="37.60" y2="720.84" stroke="#1a1a1a" stroke-width="0.9"/>
<text x="33.10" y="723.34" font-size="9" text-anchor="end" fill="#1a1a1a" stroke="#1a1a1a" stroke-width="0.1">60</text>
<line x1="34.40" y1="702.72" x2="37.60" y2="702.72" stroke="#1a1a1a" stroke-width="0.9"/>
<text x="33.10" y="705.22" font-size="9" text-anchor="end" fill="#1a1a1a" stroke="#1a1a1a" stroke-width="0.1">80</text>
<line x1="34.40" y1="684.60" x2="37.60" y2="684.60" stroke="#1a1a1a" stroke-width="0.9"/>
<text x="33.10" y="687.10" font-size="9" text-anchor="end" fill="#1a1a1a" stroke="#1a1a1a" stroke-width="0.1">100</text>
<line x1="34.00" y1="775.20" x2="173.00" y2="775.20" stroke="#1a1a1a" stroke-width="0.9"/>
<path d="M41.10,775.20 L41.10,711.78 L47.10,711.78 L47.10,775.20" fill="#fff" stroke="#1a1a1a" stroke-width="1.0"/>
<line x1="44.10" y1="708.16" x2="44.10" y2="715.40" stroke="#1a1a1a" stroke-width="0.9"/>
<line x1="42.30" y1="708.16" x2="45.90" y2="708.16" stroke="#1a1a1a" stroke-width="0.9"/>
<line x1="42.30" y1="715.40" x2="45.90" y2="715.40" stroke="#1a1a1a" stroke-width="0.9"/>
<circle cx="44.10" cy="707.43" r="1.2" stroke="#1a1a1a" stroke-width="0.9" fill="#1a1a1a"/>
<circle cx="44.10" cy="715.22" r="1.2" stroke="#1a1a1a" stroke-width="0.9" fill="#1a1a1a"/>
<circle cx="44.10" cy="711.78" r="1.2" stroke="#1a1a1a" stroke-width="0.9" fill="#1a1a1a"/>
<path d="M51.10,775.20 L51.10,710.42 L57.10,710.42 L57.10,775.20" fill="#fff" stroke="#e8282c" stroke-width="1.0"/>
<line x1="54.10" y1="705.89" x2="54.10" y2="714.95" stroke="#e8282c" stroke-width="0.9"/>
<line x1="52.30" y1="705.89" x2="55.90" y2="705.89" stroke="#e8282c" stroke-width="0.9"/>
<line x1="52.30" y1="714.95" x2="55.90" y2="714.95" stroke="#e8282c" stroke-width="0.9"/>
<circle cx="54.10" cy="704.99" r="1.2" stroke="#e8282c" stroke-width="0.9" fill="#e8282c"/>
<circle cx="54.10" cy="715.22" r="1.2" stroke="#e8282c" stroke-width="0.9" fill="#e8282c"/>
<circle cx="54.10" cy="710.87" r="1.2" stroke="#e8282c" stroke-width="0.9" fill="#e8282c"/>
<path d="M60.90,775.20 L60.90,711.78 L66.90,711.78 L66.90,775.20" fill="#fff" stroke="#2424e6" stroke-width="1.0"/>
<line x1="63.90" y1="703.63" x2="63.90" y2="719.93" stroke="#2424e6" stroke-width="0.9"/>
<line x1="62.10" y1="703.63" x2="65.70" y2="703.63" stroke="#2424e6" stroke-width="0.9"/>
<line x1="62.10" y1="719.93" x2="65.70" y2="719.93" stroke="#2424e6" stroke-width="0.9"/>
<circle cx="63.90" cy="702.99" r="1.2" stroke="#2424e6" stroke-width="0.9" fill="#2424e6"/>
<circle cx="63.90" cy="711.33" r="1.2" stroke="#2424e6" stroke-width="0.9" fill="#2424e6"/>
<circle cx="63.90" cy="719.21" r="1.2" stroke="#2424e6" stroke-width="0.9" fill="#2424e6"/>
<path d="M70.90,775.20 L70.90,703.63 L76.90,703.63 L76.90,775.20" fill="#fff" stroke="#a87a3c" stroke-width="1.0"/>
<line x1="73.90" y1="701.81" x2="73.90" y2="705.44" stroke="#a87a3c" stroke-width="0.9"/>
<line x1="72.10" y1="701.81" x2="75.70" y2="701.81" stroke="#a87a3c" stroke-width="0.9"/>
<line x1="72.10" y1="705.44" x2="75.70" y2="705.44" stroke="#a87a3c" stroke-width="0.9"/>
<circle cx="72.40" cy="702.27" r="1.2" stroke="#a87a3c" stroke-width="0.9" fill="none"/>
<circle cx="75.40" cy="703.17" r="1.2" stroke="#a87a3c" stroke-width="0.9" fill="none"/>
<circle cx="73.90" cy="704.53" r="1.2" stroke="#a87a3c" stroke-width="0.9" fill="none"/>
<line x1="59.00" y1="775.20" x2="59.00" y2="777.60" stroke="#1a1a1a" stroke-width="0.8"/>
<text x="59.00" y="785.60" font-size="7" text-anchor="middle" fill="#1a1a1a" stroke="#1a1a1a" stroke-width="0.1">G1</text>
<polyline points="44.00,701.70 44.00,690.40 54.40,690.40 54.40,699.40" stroke="#444" stroke-width="0.9" fill="none"/>
<text x="49.20" y="687.20" font-size="9" text-anchor="middle" fill="#1a1a1a" stroke="#1a1a1a" stroke-width="0.1">ns</text>
<polyline points="44.00,679.60 44.00,674.00 64.40,674.00 64.40,697.70" stroke="#444" stroke-width="0.9" fill="none"/>
<text x="54.20" y="670.80" font-size="9" text-anchor="middle" fill="#1a1a1a" stroke="#1a1a1a" stroke-width="0.1">ns</text>
<polyline points="44.00,663.60 44.00,657.60 74.40,657.60 74.40,695.50" stroke="#444" stroke-width="0.9" fill="none"/>
<text x="59.20" y="654.40" font-size="9" text-anchor="middle" fill="#1a1a1a" stroke="#1a1a1a" stroke-width="0.1">ns</text>
<path d="M87.90,775.20 L87.90,764.33 L93.90,764.33 L93.90,775.20" fill="#fff" stroke="#1a1a1a" stroke-width="1.0"/>
<line x1="90.90" y1="760.70" x2="90.90" y2="767.95" stroke="#1a1a1a" stroke-width="0.9"/>
<line x1="89.10" y1="760.70" x2="92.70" y2="760.70" stroke="#1a1a1a" stroke-width="0.9"/>
<line x1="89.10" y1="767.95" x2="92.70" y2="767.95" stroke="#1a1a1a" stroke-width="0.9"/>
<circle cx="89.30" cy="763.24" r="1.2" stroke="#1a1a1a" stroke-width="0.9" fill="none"/>
<circle cx="92.50" cy="765.42" r="1.2" stroke="#1a1a1a" stroke-width="0.9" fill="none"/>
<circle cx="90.90" cy="760.70" r="1.2" stroke="#1a1a1a" stroke-width="0.9" fill="none"/>
<path d="M97.90,775.20 L97.90,765.23 L103.90,765.23 L103.90,775.20" fill="#fff" stroke="#e8282c" stroke-width="1.0"/>
<line x1="100.90" y1="760.70" x2="100.90" y2="769.76" stroke="#e8282c" stroke-width="0.9"/>
<line x1="99.10" y1="760.70" x2="102.70" y2="760.70" stroke="#e8282c" stroke-width="0.9"/>
<line x1="99.10" y1="769.76" x2="102.70" y2="769.76" stroke="#e8282c" stroke-width="0.9"/>
<circle cx="99.30" cy="763.88" r="1.2" stroke="#e8282c" stroke-width="0.9" fill="none"/>
<circle cx="102.50" cy="766.59" r="1.2" stroke="#e8282c" stroke-width="0.9" fill="none"/>
<circle cx="100.90" cy="760.70" r="1.2" stroke="#e8282c" stroke-width="0.9" fill="none"/>
<path d="M107.90,775.20 L107.90,762.52 L113.90,762.52 L113.90,775.20" fill="#fff" stroke="#2424e6" stroke-width="1.0"/>
<line x1="110.90" y1="757.99" x2="110.90" y2="767.05" stroke="#2424e6" stroke-width="0.9"/>
<line x1="109.10" y1="757.99" x2="112.70" y2="757.99" stroke="#2424e6" stroke-width="0.9"/>
<line x1="109.10" y1="767.05" x2="112.70" y2="767.05" stroke="#2424e6" stroke-width="0.9"/>
<circle cx="109.30" cy="761.16" r="1.2" stroke="#2424e6" stroke-width="0.9" fill="none"/>
<circle cx="112.50" cy="763.88" r="1.2" stroke="#2424e6" stroke-width="0.9" fill="none"/>
<circle cx="110.90" cy="757.99" r="1.2" stroke="#2424e6" stroke-width="0.9" fill="none"/>
<path d="M117.90,775.20 L117.90,773.39 L123.90,773.39 L123.90,775.20" fill="#fff" stroke="#a87a3c" stroke-width="1.0"/>
<line x1="120.90" y1="772.03" x2="120.90" y2="774.75" stroke="#a87a3c" stroke-width="0.9"/>
<line x1="119.10" y1="772.03" x2="122.70" y2="772.03" stroke="#a87a3c" stroke-width="0.9"/>
<line x1="119.10" y1="774.75" x2="122.70" y2="774.75" stroke="#a87a3c" stroke-width="0.9"/>
<circle cx="119.30" cy="772.98" r="1.2" stroke="#a87a3c" stroke-width="0.9" fill="none"/>
<circle cx="122.50" cy="773.80" r="1.2" stroke="#a87a3c" stroke-width="0.9" fill="none"/>
<circle cx="120.90" cy="772.03" r="1.2" stroke="#a87a3c" stroke-width="0.9" fill="none"/>
<line x1="105.90" y1="775.20" x2="105.90" y2="777.60" stroke="#1a1a1a" stroke-width="0.8"/>
<text x="105.90" y="785.60" font-size="7" text-anchor="middle" fill="#1a1a1a" stroke="#1a1a1a" stroke-width="0.1">S</text>
<polyline points="91.00,755.00 91.00,749.40 100.60,749.40 100.60,756.00" stroke="#444" stroke-width="0.9" fill="none"/>
<text x="95.80" y="746.20" font-size="9" text-anchor="middle" fill="#1a1a1a" stroke="#1a1a1a" stroke-width="0.1">ns</text>
<polyline points="91.00,740.00 91.00,734.40 110.60,734.40 110.60,752.00" stroke="#444" stroke-width="0.9" fill="none"/>
<text x="100.80" y="731.20" font-size="9" text-anchor="middle" fill="#1a1a1a" stroke="#1a1a1a" stroke-width="0.1">ns</text>
<polyline points="91.00,727.00 91.00,721.40 120.60,721.40 120.60,767.00" stroke="#444" stroke-width="0.9" fill="none"/>
<text x="105.80" y="720.10" font-size="9" text-anchor="middle" fill="#1a1a1a" stroke="#1a1a1a" stroke-width="0.1">*</text>
<path d="M134.90,775.20 L134.90,761.61 L140.90,761.61 L140.90,775.20" fill="#fff" stroke="#1a1a1a" stroke-width="1.0"/>
<line x1="137.90" y1="760.25" x2="137.90" y2="762.97" stroke="#1a1a1a" stroke-width="0.9"/>
<line x1="136.10" y1="760.25" x2="139.70" y2="760.25" stroke="#1a1a1a" stroke-width="0.9"/>
<line x1="136.10" y1="762.97" x2="139.70" y2="762.97" stroke="#1a1a1a" stroke-width="0.9"/>
<circle cx="136.30" cy="761.20" r="1.2" stroke="#1a1a1a" stroke-width="0.9" fill="none"/>
<circle cx="139.50" cy="762.02" r="1.2" stroke="#1a1a1a" stroke-width="0.9" fill="none"/>
<circle cx="137.90" cy="760.25" r="1.2" stroke="#1a1a1a" stroke-width="0.9" fill="none"/>
<path d="M144.90,775.20 L144.90,761.61 L150.90,761.61 L150.90,775.20" fill="#fff" stroke="#e8282c" stroke-width="1.0"/>
<line x1="147.90" y1="759.80" x2="147.90" y2="763.42" stroke="#e8282c" stroke-width="0.9"/>
<line x1="146.10" y1="759.80" x2="149.70" y2="759.80" stroke="#e8282c" stroke-width="0.9"/>
<line x1="146.10" y1="763.42" x2="149.70" y2="763.42" stroke="#e8282c" stroke-width="0.9"/>
<circle cx="146.30" cy="761.07" r="1.2" stroke="#e8282c" stroke-width="0.9" fill="none"/>
<circle cx="149.50" cy="762.15" r="1.2" stroke="#e8282c" stroke-width="0.9" fill="none"/>
<circle cx="147.90" cy="759.80" r="1.2" stroke="#e8282c" stroke-width="0.9" fill="none"/>
<path d="M154.90,775.20 L154.90,760.70 L160.90,760.70 L160.90,775.20" fill="#fff" stroke="#2424e6" stroke-width="1.0"/>
<line x1="157.90" y1="756.17" x2="157.90" y2="765.23" stroke="#2424e6" stroke-width="0.9"/>
<line x1="156.10" y1="756.17" x2="159.70" y2="756.17" stroke="#2424e6" stroke-width="0.9"/>
<line x1="156.10" y1="765.23" x2="159.70" y2="765.23" stroke="#2424e6" stroke-width="0.9"/>
<circle cx="156.30" cy="759.35" r="1.2" stroke="#2424e6" stroke-width="0.9" fill="none"/>
<circle cx="159.50" cy="762.06" r="1.2" stroke="#2424e6" stroke-width="0.9" fill="none"/>
<circle cx="157.90" cy="756.17" r="1.2" stroke="#2424e6" stroke-width="0.9" fill="none"/>
<path d="M164.50,775.20 L164.50,759.80 L170.50,759.80 L170.50,775.20" fill="#fff" stroke="#a87a3c" stroke-width="1.0"/>
<line x1="167.50" y1="757.08" x2="167.50" y2="762.52" stroke="#a87a3c" stroke-width="0.9"/>
<line x1="165.70" y1="757.08" x2="169.30" y2="757.08" stroke="#a87a3c" stroke-width="0.9"/>
<line x1="165.70" y1="762.52" x2="169.30" y2="762.52" stroke="#a87a3c" stroke-width="0.9"/>
<circle cx="165.90" cy="758.98" r="1.2" stroke="#a87a3c" stroke-width="0.9" fill="none"/>
<circle cx="169.10" cy="760.61" r="1.2" stroke="#a87a3c" stroke-width="0.9" fill="none"/>
<circle cx="167.50" cy="757.08" r="1.2" stroke="#a87a3c" stroke-width="0.9" fill="none"/>
<line x1="152.70" y1="775.20" x2="152.70" y2="777.60" stroke="#1a1a1a" stroke-width="0.8"/>
<text x="152.70" y="785.60" font-size="7" text-anchor="middle" fill="#1a1a1a" stroke="#1a1a1a" stroke-width="0.1">G2_M</text>
<polyline points="137.40,754.00 137.40,748.40 147.40,748.40 147.40,756.00" stroke="#444" stroke-width="0.9" fill="none"/>
<text x="142.40" y="745.20" font-size="9" text-anchor="middle" fill="#1a1a1a" stroke="#1a1a1a" stroke-width="0.1">ns</text>
<polyline points="137.40,741.00 137.40,735.00 157.40,735.00 157.40,752.00" stroke="#444" stroke-width="0.9" fill="none"/>
<text x="147.40" y="731.80" font-size="9" text-anchor="middle" fill="#1a1a1a" stroke="#1a1a1a" stroke-width="0.1">ns</text>
<polyline points="137.40,728.00 137.40,722.00 167.40,722.00 167.40,753.00" stroke="#444" stroke-width="0.9" fill="none"/>
<text x="152.40" y="718.80" font-size="9" text-anchor="middle" fill="#1a1a1a" stroke="#1a1a1a" stroke-width="0.1">ns</text>
<text x="105.40" y="793.40" font-size="7.3" text-anchor="middle" fill="#1a1a1a" stroke="#1a1a1a" stroke-width="0.1">Cell Cycle</text>
<text x="14.50" y="730.00" font-size="9" text-anchor="middle" fill="#1a1a1a" stroke="#1a1a1a" stroke-width="0.1" transform="rotate(-90 14.50 730.00)">%</text>
<text x="83.00" y="634.00" font-size="8.95" text-anchor="start" fill="#1a1a1a" stroke="#1a1a1a" stroke-width="0.1">Cell cycle-24 h</text>
<circle cx="91.40" cy="656.60" r="1.45" stroke="#1a1a1a" stroke-width="0.9" fill="none"/>
<text x="94.40" y="659.60" font-size="9.5" text-anchor="start" fill="#1a1a1a" stroke="#1a1a1a" stroke-width="0.1">A549shCTRL_0Gy</text>
<circle cx="91.40" cy="667.60" r="1.45" stroke="#e8282c" stroke-width="0.9" fill="none"/>
<text x="94.40" y="670.60" font-size="9.5" text-anchor="start" fill="#1a1a1a" stroke="#1a1a1a" stroke-width="0.1">A549shLDHB-1_0Gy</text>
<circle cx="91.40" cy="678.80" r="1.45" stroke="#2424e6" stroke-width="0.9" fill="none"/>
<text x="94.40" y="681.80" font-size="9.5" text-anchor="start" fill="#1a1a1a" stroke="#1a1a1a" stroke-width="0.1">A549shCTRL_4Gy</text>
<circle cx="91.40" cy="690.40" r="1.45" stroke="#a87a3c" stroke-width="0.9" fill="none"/>
<text x="94.40" y="693.40" font-size="9.5" text-anchor="start" fill="#1a1a1a" stroke="#1a1a1a" stroke-width="0.1">A549shLDHB-1_4Gy</text>
<line x1="265.00" y1="684.60" x2="265.00" y2="775.05" stroke="#1a1a1a" stroke-width="1.0"/>
<line x1="261.80" y1="774.60" x2="265.00" y2="774.60" stroke="#1a1a1a" stroke-width="0.9"/>
<text x="260.50" y="777.10" font-size="9.2" text-anchor="end" fill="#1a1a1a" stroke="#1a1a1a" stroke-width="0.1">0</text>
<line x1="261.80" y1="756.60" x2="265.00" y2="756.60" stroke="#1a1a1a" stroke-width="0.9"/>
<text x="260.50" y="759.10" font-size="9.2" text-anchor="end" fill="#1a1a1a" stroke="#1a1a1a" stroke-width="0.1">1</text>
<line x1="261.80" y1="738.60" x2="265.00" y2="738.60" stroke="#1a1a1a" stroke-width="0.9"/>
<text x="260.50" y="741.10" font-size="9.2" text-anchor="end" fill="#1a1a1a" stroke="#1a1a1a" stroke-width="0.1">2</text>
<line x1="261.80" y1="720.60" x2="265.00" y2="720.60" stroke="#1a1a1a" stroke-width="0.9"/>
<text x="260.50" y="723.10" font-size="9.2" text-anchor="end" fill="#1a1a1a" stroke="#1a1a1a" stroke-width="0.1">3</text>
<line x1="261.80" y1="702.60" x2="265.00" y2="702.60" stroke="#1a1a1a" stroke-width="0.9"/>
<text x="260.50" y="705.10" font-size="9.2" text-anchor="end" fill="#1a1a1a" stroke="#1a1a1a" stroke-width="0.1">4</text>
<line x1="261.80" y1="684.60" x2="265.00" y2="684.60" stroke="#1a1a1a" stroke-width="0.9"/>
<text x="260.50" y="687.10" font-size="9.2" text-anchor="end" fill="#1a1a1a" stroke="#1a1a1a" stroke-width="0.1">5</text>
<line x1="261.00" y1="774.60" x2="355.00" y2="774.60" stroke="#1a1a1a" stroke-width="0.9"/>
<line x1="278.60" y1="774.60" x2="278.60" y2="777.80" stroke="#1a1a1a" stroke-width="0.8"/>
<line x1="299.60" y1="774.60" x2="299.60" y2="777.80" stroke="#1a1a1a" stroke-width="0.8"/>
<line x1="320.40" y1="774.60" x2="320.40" y2="777.80" stroke="#1a1a1a" stroke-width="0.8"/>
<line x1="341.40" y1="774.60" x2="341.40" y2="777.80" stroke="#1a1a1a" stroke-width="0.8"/>
<path d="M271.00,774.60 L271.00,756.60 L285.60,756.60 L285.60,774.60" fill="#fff" stroke="#1a1a1a" stroke-width="0.9"/>
<path d="M292.40,774.60 L292.40,736.26 L307.00,736.26 L307.00,774.60" fill="#fff" stroke="#2424e6" stroke-width="0.9"/>
<path d="M313.00,774.60 L313.00,756.60 L327.60,756.60 L327.60,774.60" fill="#fff" stroke="#e8282c" stroke-width="0.9"/>
<path d="M334.40,774.60 L334.40,712.86 L349.00,712.86 L349.00,774.60" fill="#fff" stroke="#a87a3c" stroke-width="0.9"/>
<circle cx="274.60" cy="756.40" r="1.3" stroke="#1a1a1a" stroke-width="0.9" fill="none"/>
<circle cx="278.60" cy="756.40" r="1.3" stroke="#1a1a1a" stroke-width="0.9" fill="none"/>
<circle cx="282.60" cy="756.40" r="1.3" stroke="#1a1a1a" stroke-width="0.9" fill="none"/>
<line x1="299.60" y1="730.00" x2="299.60" y2="744.50" stroke="#2424e6" stroke-width="0.9"/>
<line x1="297.20" y1="730.00" x2="302.00" y2="730.00" stroke="#2424e6" stroke-width="0.9"/>
<line x1="297.20" y1="744.50" x2="302.00" y2="744.50" stroke="#2424e6" stroke-width="0.9"/>
<circle cx="297.10" cy="732.00" r="1.3" stroke="#2424e6" stroke-width="0.9" fill="none"/>
<circle cx="301.80" cy="733.50" r="1.3" stroke="#2424e6" stroke-width="0.9" fill="none"/>
<circle cx="299.60" cy="742.00" r="1.3" stroke="#2424e6" stroke-width="0.9" fill="none"/>
<circle cx="315.40" cy="756.40" r="1.3" stroke="#e8282c" stroke-width="0.9" fill="none"/>
<circle cx="317.90" cy="756.40" r="1.3" stroke="#e8282c" stroke-width="0.9" fill="none"/>
<circle cx="320.40" cy="756.40" r="1.3" stroke="#e8282c" stroke-width="0.9" fill="none"/>
<circle cx="322.90" cy="756.40" r="1.3" stroke="#e8282c" stroke-width="0.9" fill="none"/>
<circle cx="325.40" cy="756.40" r="1.3" stroke="#e8282c" stroke-width="0.9" fill="none"/>
<line x1="341.40" y1="703.00" x2="341.40" y2="721.00" stroke="#a87a3c" stroke-width="0.9"/>
<line x1="339.00" y1="703.00" x2="343.80" y2="703.00" stroke="#a87a3c" stroke-width="0.9"/>
<line x1="339.00" y1="721.00" x2="343.80" y2="721.00" stroke="#a87a3c" stroke-width="0.9"/>
<circle cx="341.40" cy="698.50" r="1.3" stroke="#a87a3c" stroke-width="0.9" fill="none"/>
<circle cx="339.20" cy="710.50" r="1.3" stroke="#a87a3c" stroke-width="0.9" fill="none"/>
<circle cx="343.80" cy="709.00" r="1.3" stroke="#a87a3c" stroke-width="0.9" fill="none"/>
<circle cx="341.40" cy="716.50" r="1.3" stroke="#a87a3c" stroke-width="0.9" fill="none"/>
<circle cx="341.40" cy="719.00" r="1.3" stroke="#a87a3c" stroke-width="0.9" fill="none"/>
<text x="307.40" y="634.00" font-size="9.2" text-anchor="middle" fill="#1a1a1a" stroke="#1a1a1a" stroke-width="0.1">30 min</text>
<text x="233.20" y="730.00" font-size="9.2" text-anchor="middle" fill="#1a1a1a" stroke="#1a1a1a" stroke-width="0.1" transform="rotate(-90 233.20 730.00)">γH2AX MFI</text>
<text x="244.80" y="730.00" font-size="9.2" text-anchor="middle" fill="#1a1a1a" stroke="#1a1a1a" stroke-width="0.1" transform="rotate(-90 244.80 730.00)">(Flod change)</text>
<polyline points="278.40,752.00 278.40,688.00 299.60,688.00 299.60,720.00" stroke="#444" stroke-width="0.9" fill="none"/>
<text x="289.00" y="686.70" font-size="9" text-anchor="middle" fill="#1a1a1a" stroke="#1a1a1a" stroke-width="0.1">**</text>
<polyline points="320.40,752.00 320.40,688.00 341.60,688.00 341.60,693.00" stroke="#444" stroke-width="0.9" fill="none"/>
<text x="331.00" y="686.70" font-size="9" text-anchor="middle" fill="#1a1a1a" stroke="#1a1a1a" stroke-width="0.1">****</text>
<polyline points="299.60,683.00 299.60,669.40 341.60,669.40 341.60,675.00" stroke="#444" stroke-width="0.9" fill="none"/>
<text x="318.60" y="668.10" font-size="9" text-anchor="middle" fill="#1a1a1a" stroke="#1a1a1a" stroke-width="0.1">**</text>
<circle cx="350.40" cy="642.00" r="1.45" stroke="#1a1a1a" stroke-width="0.9" fill="none"/>
<text x="354.80" y="645.00" font-size="9.2" text-anchor="start" fill="#1a1a1a" stroke="#1a1a1a" stroke-width="0.1">A549shCTRL_0Gy</text>
<circle cx="350.40" cy="655.00" r="1.45" stroke="#2424e6" stroke-width="0.9" fill="none"/>
<text x="354.80" y="658.00" font-size="9.2" text-anchor="start" fill="#1a1a1a" stroke="#1a1a1a" stroke-width="0.1">A549shCTRL_4Gy</text>
<circle cx="350.40" cy="667.00" r="1.45" stroke="#e8282c" stroke-width="0.9" fill="none"/>
<text x="354.80" y="670.00" font-size="9.2" text-anchor="start" fill="#1a1a1a" stroke="#1a1a1a" stroke-width="0.1">A549shLDHB_0Gy</text>
<circle cx="350.40" cy="679.40" r="1.45" stroke="#a87a3c" stroke-width="0.9" fill="none"/>
<text x="354.80" y="682.40" font-size="9.2" text-anchor="start" fill="#1a1a1a" stroke="#1a1a1a" stroke-width="0.1">A549shLDHB_4Gy</text>
<line x1="499.00" y1="686.00" x2="499.00" y2="774.85" stroke="#1a1a1a" stroke-width="1.0"/>
<line x1="495.80" y1="774.40" x2="499.00" y2="774.40" stroke="#1a1a1a" stroke-width="0.9"/>
<text x="494.50" y="776.90" font-size="9.2" text-anchor="end" fill="#1a1a1a" stroke="#1a1a1a" stroke-width="0.1">0.0</text>
<line x1="495.80" y1="752.30" x2="499.00" y2="752.30" stroke="#1a1a1a" stroke-width="0.9"/>
<text x="494.50" y="754.80" font-size="9.2" text-anchor="end" fill="#1a1a1a" stroke="#1a1a1a" stroke-width="0.1">0.5</text>
<line x1="495.80" y1="730.20" x2="499.00" y2="730.20" stroke="#1a1a1a" stroke-width="0.9"/>
<text x="494.50" y="732.70" font-size="9.2" text-anchor="end" fill="#1a1a1a" stroke="#1a1a1a" stroke-width="0.1">1.0</text>
<line x1="495.80" y1="708.10" x2="499.00" y2="708.10" stroke="#1a1a1a" stroke-width="0.9"/>
<text x="494.50" y="710.60" font-size="9.2" text-anchor="end" fill="#1a1a1a" stroke="#1a1a1a" stroke-width="0.1">1.5</text>
<line x1="495.80" y1="686.00" x2="499.00" y2="686.00" stroke="#1a1a1a" stroke-width="0.9"/>
<text x="494.50" y="688.50" font-size="9.2" text-anchor="end" fill="#1a1a1a" stroke="#1a1a1a" stroke-width="0.1">2.0</text>
<line x1="496.00" y1="774.40" x2="586.40" y2="774.40" stroke="#1a1a1a" stroke-width="0.9"/>
<line x1="512.60" y1="774.40" x2="512.60" y2="777.60" stroke="#1a1a1a" stroke-width="0.8"/>
<line x1="533.40" y1="774.40" x2="533.40" y2="777.60" stroke="#1a1a1a" stroke-width="0.8"/>
<line x1="553.60" y1="774.40" x2="553.60" y2="777.60" stroke="#1a1a1a" stroke-width="0.8"/>
<line x1="574.40" y1="774.40" x2="574.40" y2="777.60" stroke="#1a1a1a" stroke-width="0.8"/>
<path d="M506.40,774.40 L506.40,730.20 L519.80,730.20 L519.80,774.40" fill="#fff" stroke="#1a1a1a" stroke-width="0.9"/>
<path d="M526.60,774.40 L526.60,728.21 L540.00,728.21 L540.00,774.40" fill="#fff" stroke="#2424e6" stroke-width="0.9"/>
<path d="M547.00,774.40 L547.00,730.20 L560.40,730.20 L560.40,774.40" fill="#fff" stroke="#e8282c" stroke-width="0.9"/>
<path d="M567.60,774.40 L567.60,708.10 L581.00,708.10 L581.00,774.40" fill="#fff" stroke="#a87a3c" stroke-width="0.9"/>
<circle cx="508.50" cy="730.40" r="1.3" stroke="#1a1a1a" stroke-width="0.9" fill="none"/>
<circle cx="511.50" cy="730.40" r="1.3" stroke="#1a1a1a" stroke-width="0.9" fill="none"/>
<circle cx="514.50" cy="730.40" r="1.3" stroke="#1a1a1a" stroke-width="0.9" fill="none"/>
<circle cx="517.50" cy="730.40" r="1.3" stroke="#1a1a1a" stroke-width="0.9" fill="none"/>
<line x1="533.40" y1="721.50" x2="533.40" y2="734.00" stroke="#2424e6" stroke-width="0.9"/>
<line x1="531.00" y1="721.50" x2="535.80" y2="721.50" stroke="#2424e6" stroke-width="0.9"/>
<line x1="531.00" y1="734.00" x2="535.80" y2="734.00" stroke="#2424e6" stroke-width="0.9"/>
<circle cx="531.40" cy="722.60" r="1.3" stroke="#2424e6" stroke-width="0.9" fill="none"/>
<circle cx="535.40" cy="722.00" r="1.3" stroke="#2424e6" stroke-width="0.9" fill="none"/>
<circle cx="533.40" cy="731.00" r="1.3" stroke="#2424e6" stroke-width="0.9" fill="none"/>
<circle cx="533.40" cy="735.00" r="1.3" stroke="#2424e6" stroke-width="0.9" fill="none"/>
<circle cx="549.60" cy="730.40" r="1.3" stroke="#e8282c" stroke-width="0.9" fill="none"/>
<circle cx="553.60" cy="730.40" r="1.3" stroke="#e8282c" stroke-width="0.9" fill="none"/>
<circle cx="557.60" cy="730.40" r="1.3" stroke="#e8282c" stroke-width="0.9" fill="none"/>
<line x1="574.40" y1="699.00" x2="574.40" y2="716.50" stroke="#a87a3c" stroke-width="0.9"/>
<line x1="572.00" y1="699.00" x2="576.80" y2="699.00" stroke="#a87a3c" stroke-width="0.9"/>
<line x1="572.00" y1="716.50" x2="576.80" y2="716.50" stroke="#a87a3c" stroke-width="0.9"/>
<circle cx="574.40" cy="700.00" r="1.3" stroke="#a87a3c" stroke-width="0.9" fill="none"/>
<circle cx="574.40" cy="709.00" r="1.3" stroke="#a87a3c" stroke-width="0.9" fill="none"/>
<circle cx="574.40" cy="716.00" r="1.3" stroke="#a87a3c" stroke-width="0.9" fill="none"/>
<text x="542.00" y="634.00" font-size="9.2" text-anchor="middle" fill="#1a1a1a" stroke="#1a1a1a" stroke-width="0.1">24 h</text>
<text x="460.50" y="730.00" font-size="9.2" text-anchor="middle" fill="#1a1a1a" stroke="#1a1a1a" stroke-width="0.1" transform="rotate(-90 460.50 730.00)">γH2AX MFI</text>
<text x="471.80" y="729.50" font-size="9.2" text-anchor="middle" fill="#1a1a1a" stroke="#1a1a1a" stroke-width="0.1" transform="rotate(-90 471.80 729.50)">(Flod change)</text>
<polyline points="512.60,725.00 512.60,714.40 533.40,714.40 533.40,717.50" stroke="#444" stroke-width="0.9" fill="none"/>
<text x="523.00" y="709.40" font-size="9" text-anchor="middle" fill="#1a1a1a" stroke="#1a1a1a" stroke-width="0.1">ns</text>
<polyline points="553.40,725.00 553.40,688.00 574.40,688.00 574.40,693.00" stroke="#444" stroke-width="0.9" fill="none"/>
<text x="563.90" y="686.70" font-size="9" text-anchor="middle" fill="#1a1a1a" stroke="#1a1a1a" stroke-width="0.1">*</text>
<polyline points="533.40,709.00 533.40,670.00 574.40,670.00 574.40,684.00" stroke="#444" stroke-width="0.9" fill="none"/>
<text x="553.90" y="668.70" font-size="9" text-anchor="middle" fill="#1a1a1a" stroke="#1a1a1a" stroke-width="0.1">*</text>
<circle cx="595.00" cy="642.00" r="1.45" stroke="#1a1a1a" stroke-width="0.9" fill="none"/>
<text x="599.40" y="645.00" font-size="9.2" text-anchor="start" fill="#1a1a1a" stroke="#1a1a1a" stroke-width="0.1">A549shCTRL_0Gy</text>
<circle cx="595.00" cy="655.40" r="1.45" stroke="#2424e6" stroke-width="0.9" fill="none"/>
<text x="599.40" y="658.40" font-size="9.2" text-anchor="start" fill="#1a1a1a" stroke="#1a1a1a" stroke-width="0.1">A549shCTRL_4Gy</text>
<circle cx="595.00" cy="667.40" r="1.45" stroke="#e8282c" stroke-width="0.9" fill="none"/>
<text x="599.40" y="670.40" font-size="9.2" text-anchor="start" fill="#1a1a1a" stroke="#1a1a1a" stroke-width="0.1">A549shLDHB_0Gy</text>
<circle cx="595.00" cy="679.60" r="1.45" stroke="#a87a3c" stroke-width="0.9" fill="none"/>
<text x="599.40" y="682.60" font-size="9.2" text-anchor="start" fill="#1a1a1a" stroke="#1a1a1a" stroke-width="0.1">A549shLDHB_4Gy</text>
</svg>
</body></html>
